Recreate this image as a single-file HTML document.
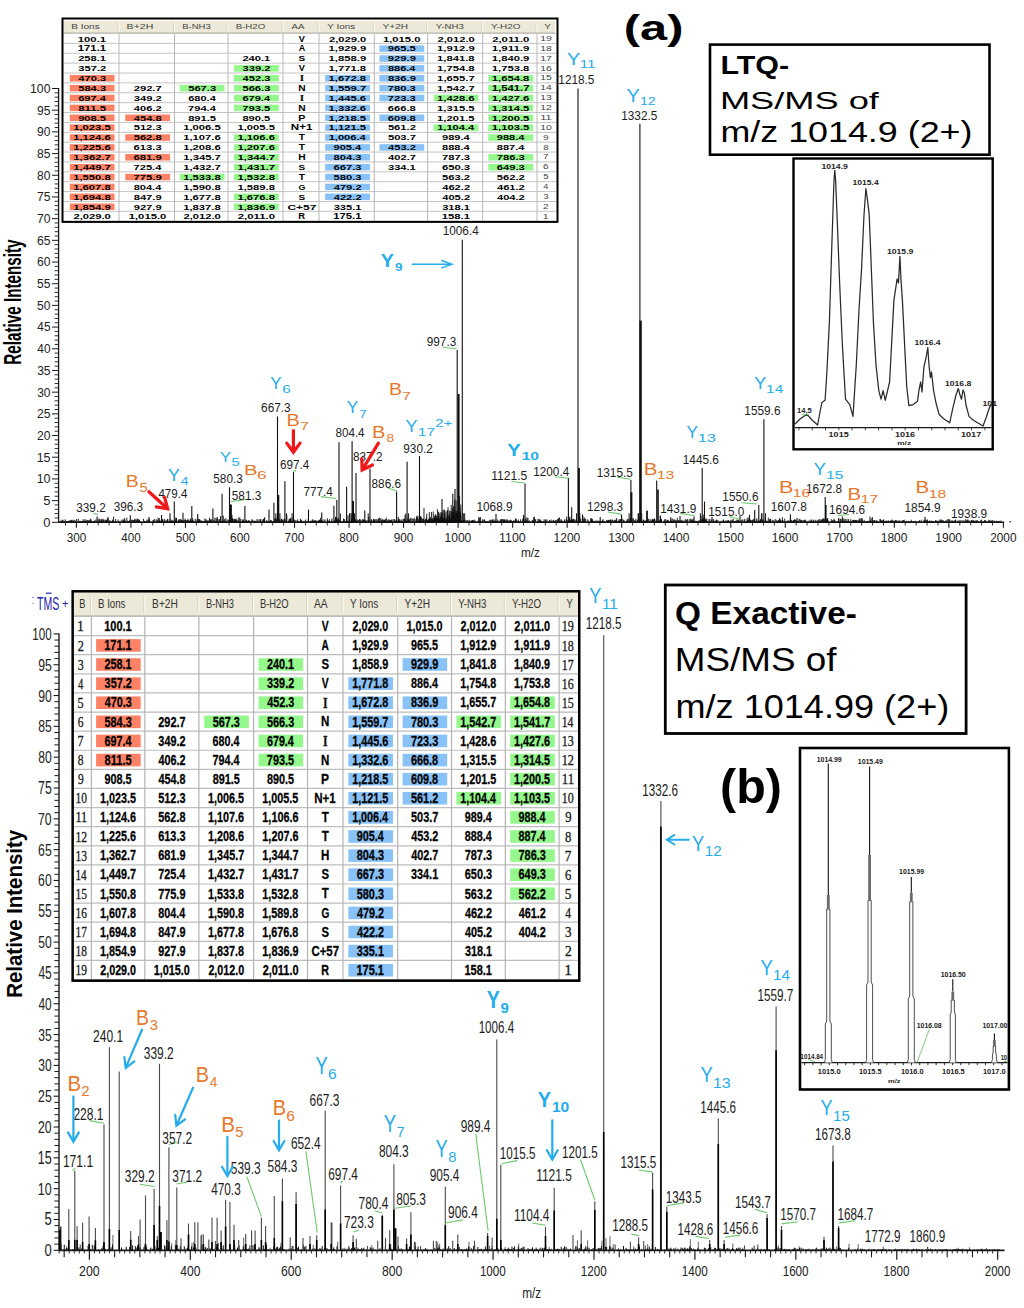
<!DOCTYPE html>
<html><head><meta charset="utf-8"><style>
html,body{margin:0;padding:0;background:#fff;overflow:hidden;}
svg{display:block;font-family:"Liberation Sans",sans-serif;}
</style></head><body>
<svg width="1024" height="1308" viewBox="0 0 1024 1308">
<rect x="0" y="0" width="1024" height="1308" fill="#fff"/>
<line x1="58.60" y1="88.00" x2="58.60" y2="522.80" stroke="#1a1a1a" stroke-width="1.3"/>
<line x1="52.00" y1="522.30" x2="58.60" y2="522.30" stroke="#1a1a1a" stroke-width="1.0"/>
<line x1="54.60" y1="517.96" x2="58.60" y2="517.96" stroke="#1a1a1a" stroke-width="0.9"/>
<line x1="54.60" y1="513.62" x2="58.60" y2="513.62" stroke="#1a1a1a" stroke-width="0.9"/>
<line x1="54.60" y1="509.29" x2="58.60" y2="509.29" stroke="#1a1a1a" stroke-width="0.9"/>
<line x1="54.60" y1="504.95" x2="58.60" y2="504.95" stroke="#1a1a1a" stroke-width="0.9"/>
<line x1="52.00" y1="500.61" x2="58.60" y2="500.61" stroke="#1a1a1a" stroke-width="1.0"/>
<line x1="54.60" y1="496.27" x2="58.60" y2="496.27" stroke="#1a1a1a" stroke-width="0.9"/>
<line x1="54.60" y1="491.93" x2="58.60" y2="491.93" stroke="#1a1a1a" stroke-width="0.9"/>
<line x1="54.60" y1="487.60" x2="58.60" y2="487.60" stroke="#1a1a1a" stroke-width="0.9"/>
<line x1="54.60" y1="483.26" x2="58.60" y2="483.26" stroke="#1a1a1a" stroke-width="0.9"/>
<line x1="52.00" y1="478.92" x2="58.60" y2="478.92" stroke="#1a1a1a" stroke-width="1.0"/>
<line x1="54.60" y1="474.58" x2="58.60" y2="474.58" stroke="#1a1a1a" stroke-width="0.9"/>
<line x1="54.60" y1="470.24" x2="58.60" y2="470.24" stroke="#1a1a1a" stroke-width="0.9"/>
<line x1="54.60" y1="465.91" x2="58.60" y2="465.91" stroke="#1a1a1a" stroke-width="0.9"/>
<line x1="54.60" y1="461.57" x2="58.60" y2="461.57" stroke="#1a1a1a" stroke-width="0.9"/>
<line x1="52.00" y1="457.23" x2="58.60" y2="457.23" stroke="#1a1a1a" stroke-width="1.0"/>
<line x1="54.60" y1="452.89" x2="58.60" y2="452.89" stroke="#1a1a1a" stroke-width="0.9"/>
<line x1="54.60" y1="448.55" x2="58.60" y2="448.55" stroke="#1a1a1a" stroke-width="0.9"/>
<line x1="54.60" y1="444.22" x2="58.60" y2="444.22" stroke="#1a1a1a" stroke-width="0.9"/>
<line x1="54.60" y1="439.88" x2="58.60" y2="439.88" stroke="#1a1a1a" stroke-width="0.9"/>
<line x1="52.00" y1="435.54" x2="58.60" y2="435.54" stroke="#1a1a1a" stroke-width="1.0"/>
<line x1="54.60" y1="431.20" x2="58.60" y2="431.20" stroke="#1a1a1a" stroke-width="0.9"/>
<line x1="54.60" y1="426.86" x2="58.60" y2="426.86" stroke="#1a1a1a" stroke-width="0.9"/>
<line x1="54.60" y1="422.53" x2="58.60" y2="422.53" stroke="#1a1a1a" stroke-width="0.9"/>
<line x1="54.60" y1="418.19" x2="58.60" y2="418.19" stroke="#1a1a1a" stroke-width="0.9"/>
<line x1="52.00" y1="413.85" x2="58.60" y2="413.85" stroke="#1a1a1a" stroke-width="1.0"/>
<line x1="54.60" y1="409.51" x2="58.60" y2="409.51" stroke="#1a1a1a" stroke-width="0.9"/>
<line x1="54.60" y1="405.17" x2="58.60" y2="405.17" stroke="#1a1a1a" stroke-width="0.9"/>
<line x1="54.60" y1="400.84" x2="58.60" y2="400.84" stroke="#1a1a1a" stroke-width="0.9"/>
<line x1="54.60" y1="396.50" x2="58.60" y2="396.50" stroke="#1a1a1a" stroke-width="0.9"/>
<line x1="52.00" y1="392.16" x2="58.60" y2="392.16" stroke="#1a1a1a" stroke-width="1.0"/>
<line x1="54.60" y1="387.82" x2="58.60" y2="387.82" stroke="#1a1a1a" stroke-width="0.9"/>
<line x1="54.60" y1="383.48" x2="58.60" y2="383.48" stroke="#1a1a1a" stroke-width="0.9"/>
<line x1="54.60" y1="379.15" x2="58.60" y2="379.15" stroke="#1a1a1a" stroke-width="0.9"/>
<line x1="54.60" y1="374.81" x2="58.60" y2="374.81" stroke="#1a1a1a" stroke-width="0.9"/>
<line x1="52.00" y1="370.47" x2="58.60" y2="370.47" stroke="#1a1a1a" stroke-width="1.0"/>
<line x1="54.60" y1="366.13" x2="58.60" y2="366.13" stroke="#1a1a1a" stroke-width="0.9"/>
<line x1="54.60" y1="361.79" x2="58.60" y2="361.79" stroke="#1a1a1a" stroke-width="0.9"/>
<line x1="54.60" y1="357.46" x2="58.60" y2="357.46" stroke="#1a1a1a" stroke-width="0.9"/>
<line x1="54.60" y1="353.12" x2="58.60" y2="353.12" stroke="#1a1a1a" stroke-width="0.9"/>
<line x1="52.00" y1="348.78" x2="58.60" y2="348.78" stroke="#1a1a1a" stroke-width="1.0"/>
<line x1="54.60" y1="344.44" x2="58.60" y2="344.44" stroke="#1a1a1a" stroke-width="0.9"/>
<line x1="54.60" y1="340.10" x2="58.60" y2="340.10" stroke="#1a1a1a" stroke-width="0.9"/>
<line x1="54.60" y1="335.77" x2="58.60" y2="335.77" stroke="#1a1a1a" stroke-width="0.9"/>
<line x1="54.60" y1="331.43" x2="58.60" y2="331.43" stroke="#1a1a1a" stroke-width="0.9"/>
<line x1="52.00" y1="327.09" x2="58.60" y2="327.09" stroke="#1a1a1a" stroke-width="1.0"/>
<line x1="54.60" y1="322.75" x2="58.60" y2="322.75" stroke="#1a1a1a" stroke-width="0.9"/>
<line x1="54.60" y1="318.41" x2="58.60" y2="318.41" stroke="#1a1a1a" stroke-width="0.9"/>
<line x1="54.60" y1="314.08" x2="58.60" y2="314.08" stroke="#1a1a1a" stroke-width="0.9"/>
<line x1="54.60" y1="309.74" x2="58.60" y2="309.74" stroke="#1a1a1a" stroke-width="0.9"/>
<line x1="52.00" y1="305.40" x2="58.60" y2="305.40" stroke="#1a1a1a" stroke-width="1.0"/>
<line x1="54.60" y1="301.06" x2="58.60" y2="301.06" stroke="#1a1a1a" stroke-width="0.9"/>
<line x1="54.60" y1="296.72" x2="58.60" y2="296.72" stroke="#1a1a1a" stroke-width="0.9"/>
<line x1="54.60" y1="292.39" x2="58.60" y2="292.39" stroke="#1a1a1a" stroke-width="0.9"/>
<line x1="54.60" y1="288.05" x2="58.60" y2="288.05" stroke="#1a1a1a" stroke-width="0.9"/>
<line x1="52.00" y1="283.71" x2="58.60" y2="283.71" stroke="#1a1a1a" stroke-width="1.0"/>
<line x1="54.60" y1="279.37" x2="58.60" y2="279.37" stroke="#1a1a1a" stroke-width="0.9"/>
<line x1="54.60" y1="275.03" x2="58.60" y2="275.03" stroke="#1a1a1a" stroke-width="0.9"/>
<line x1="54.60" y1="270.70" x2="58.60" y2="270.70" stroke="#1a1a1a" stroke-width="0.9"/>
<line x1="54.60" y1="266.36" x2="58.60" y2="266.36" stroke="#1a1a1a" stroke-width="0.9"/>
<line x1="52.00" y1="262.02" x2="58.60" y2="262.02" stroke="#1a1a1a" stroke-width="1.0"/>
<line x1="54.60" y1="257.68" x2="58.60" y2="257.68" stroke="#1a1a1a" stroke-width="0.9"/>
<line x1="54.60" y1="253.34" x2="58.60" y2="253.34" stroke="#1a1a1a" stroke-width="0.9"/>
<line x1="54.60" y1="249.01" x2="58.60" y2="249.01" stroke="#1a1a1a" stroke-width="0.9"/>
<line x1="54.60" y1="244.67" x2="58.60" y2="244.67" stroke="#1a1a1a" stroke-width="0.9"/>
<line x1="52.00" y1="240.33" x2="58.60" y2="240.33" stroke="#1a1a1a" stroke-width="1.0"/>
<line x1="54.60" y1="235.99" x2="58.60" y2="235.99" stroke="#1a1a1a" stroke-width="0.9"/>
<line x1="54.60" y1="231.65" x2="58.60" y2="231.65" stroke="#1a1a1a" stroke-width="0.9"/>
<line x1="54.60" y1="227.32" x2="58.60" y2="227.32" stroke="#1a1a1a" stroke-width="0.9"/>
<line x1="54.60" y1="222.98" x2="58.60" y2="222.98" stroke="#1a1a1a" stroke-width="0.9"/>
<line x1="52.00" y1="218.64" x2="58.60" y2="218.64" stroke="#1a1a1a" stroke-width="1.0"/>
<line x1="54.60" y1="214.30" x2="58.60" y2="214.30" stroke="#1a1a1a" stroke-width="0.9"/>
<line x1="54.60" y1="209.96" x2="58.60" y2="209.96" stroke="#1a1a1a" stroke-width="0.9"/>
<line x1="54.60" y1="205.63" x2="58.60" y2="205.63" stroke="#1a1a1a" stroke-width="0.9"/>
<line x1="54.60" y1="201.29" x2="58.60" y2="201.29" stroke="#1a1a1a" stroke-width="0.9"/>
<line x1="52.00" y1="196.95" x2="58.60" y2="196.95" stroke="#1a1a1a" stroke-width="1.0"/>
<line x1="54.60" y1="192.61" x2="58.60" y2="192.61" stroke="#1a1a1a" stroke-width="0.9"/>
<line x1="54.60" y1="188.27" x2="58.60" y2="188.27" stroke="#1a1a1a" stroke-width="0.9"/>
<line x1="54.60" y1="183.94" x2="58.60" y2="183.94" stroke="#1a1a1a" stroke-width="0.9"/>
<line x1="54.60" y1="179.60" x2="58.60" y2="179.60" stroke="#1a1a1a" stroke-width="0.9"/>
<line x1="52.00" y1="175.26" x2="58.60" y2="175.26" stroke="#1a1a1a" stroke-width="1.0"/>
<line x1="54.60" y1="170.92" x2="58.60" y2="170.92" stroke="#1a1a1a" stroke-width="0.9"/>
<line x1="54.60" y1="166.58" x2="58.60" y2="166.58" stroke="#1a1a1a" stroke-width="0.9"/>
<line x1="54.60" y1="162.25" x2="58.60" y2="162.25" stroke="#1a1a1a" stroke-width="0.9"/>
<line x1="54.60" y1="157.91" x2="58.60" y2="157.91" stroke="#1a1a1a" stroke-width="0.9"/>
<line x1="52.00" y1="153.57" x2="58.60" y2="153.57" stroke="#1a1a1a" stroke-width="1.0"/>
<line x1="54.60" y1="149.23" x2="58.60" y2="149.23" stroke="#1a1a1a" stroke-width="0.9"/>
<line x1="54.60" y1="144.89" x2="58.60" y2="144.89" stroke="#1a1a1a" stroke-width="0.9"/>
<line x1="54.60" y1="140.56" x2="58.60" y2="140.56" stroke="#1a1a1a" stroke-width="0.9"/>
<line x1="54.60" y1="136.22" x2="58.60" y2="136.22" stroke="#1a1a1a" stroke-width="0.9"/>
<line x1="52.00" y1="131.88" x2="58.60" y2="131.88" stroke="#1a1a1a" stroke-width="1.0"/>
<line x1="54.60" y1="127.54" x2="58.60" y2="127.54" stroke="#1a1a1a" stroke-width="0.9"/>
<line x1="54.60" y1="123.20" x2="58.60" y2="123.20" stroke="#1a1a1a" stroke-width="0.9"/>
<line x1="54.60" y1="118.87" x2="58.60" y2="118.87" stroke="#1a1a1a" stroke-width="0.9"/>
<line x1="54.60" y1="114.53" x2="58.60" y2="114.53" stroke="#1a1a1a" stroke-width="0.9"/>
<line x1="52.00" y1="110.19" x2="58.60" y2="110.19" stroke="#1a1a1a" stroke-width="1.0"/>
<line x1="54.60" y1="105.85" x2="58.60" y2="105.85" stroke="#1a1a1a" stroke-width="0.9"/>
<line x1="54.60" y1="101.51" x2="58.60" y2="101.51" stroke="#1a1a1a" stroke-width="0.9"/>
<line x1="54.60" y1="97.18" x2="58.60" y2="97.18" stroke="#1a1a1a" stroke-width="0.9"/>
<line x1="54.60" y1="92.84" x2="58.60" y2="92.84" stroke="#1a1a1a" stroke-width="0.9"/>
<line x1="52.00" y1="88.50" x2="58.60" y2="88.50" stroke="#1a1a1a" stroke-width="1.0"/>
<text x="43.29" y="526.70" font-size="13.46" fill="#222" textLength="7.21" lengthAdjust="spacingAndGlyphs">0</text>
<text x="43.28" y="505.01" font-size="13.66" fill="#222" textLength="7.27" lengthAdjust="spacingAndGlyphs">5</text>
<text x="36.65" y="483.32" font-size="13.46" fill="#222" textLength="13.83" lengthAdjust="spacingAndGlyphs">10</text>
<text x="36.65" y="461.63" font-size="13.66" fill="#222" textLength="13.87" lengthAdjust="spacingAndGlyphs">15</text>
<text x="36.99" y="439.94" font-size="13.46" fill="#222" textLength="13.48" lengthAdjust="spacingAndGlyphs">20</text>
<text x="36.99" y="418.25" font-size="13.46" fill="#222" textLength="13.52" lengthAdjust="spacingAndGlyphs">25</text>
<text x="37.14" y="396.56" font-size="13.46" fill="#222" textLength="13.32" lengthAdjust="spacingAndGlyphs">30</text>
<text x="37.14" y="374.87" font-size="13.46" fill="#222" textLength="13.36" lengthAdjust="spacingAndGlyphs">35</text>
<text x="37.33" y="353.18" font-size="13.46" fill="#222" textLength="13.13" lengthAdjust="spacingAndGlyphs">40</text>
<text x="37.33" y="331.49" font-size="13.66" fill="#222" textLength="13.17" lengthAdjust="spacingAndGlyphs">45</text>
<text x="37.12" y="309.80" font-size="13.46" fill="#222" textLength="13.35" lengthAdjust="spacingAndGlyphs">50</text>
<text x="37.12" y="288.11" font-size="13.66" fill="#222" textLength="13.39" lengthAdjust="spacingAndGlyphs">55</text>
<text x="36.98" y="266.42" font-size="13.46" fill="#222" textLength="13.49" lengthAdjust="spacingAndGlyphs">60</text>
<text x="36.98" y="244.73" font-size="13.46" fill="#222" textLength="13.53" lengthAdjust="spacingAndGlyphs">65</text>
<text x="36.98" y="223.04" font-size="13.46" fill="#222" textLength="13.50" lengthAdjust="spacingAndGlyphs">70</text>
<text x="36.98" y="201.35" font-size="13.66" fill="#222" textLength="13.53" lengthAdjust="spacingAndGlyphs">75</text>
<text x="37.08" y="179.66" font-size="13.46" fill="#222" textLength="13.39" lengthAdjust="spacingAndGlyphs">80</text>
<text x="37.08" y="157.97" font-size="13.46" fill="#222" textLength="13.43" lengthAdjust="spacingAndGlyphs">85</text>
<text x="37.03" y="136.28" font-size="13.46" fill="#222" textLength="13.44" lengthAdjust="spacingAndGlyphs">90</text>
<text x="37.03" y="114.59" font-size="13.46" fill="#222" textLength="13.48" lengthAdjust="spacingAndGlyphs">95</text>
<text x="30.07" y="92.90" font-size="13.46" fill="#222" textLength="20.41" lengthAdjust="spacingAndGlyphs">100</text>
<g transform="translate(21.1,363.8) rotate(-90)">
<text x="-1.02" y="0.00" font-size="23.40" fill="#000" font-weight="bold" textLength="125.40" lengthAdjust="spacingAndGlyphs">Relative Intensity</text>
</g>
<line x1="58.60" y1="522.30" x2="1004.20" y2="522.30" stroke="#1a1a1a" stroke-width="1.4"/>
<line x1="65.49" y1="522.30" x2="65.49" y2="525.50" stroke="#1a1a1a" stroke-width="0.9"/>
<line x1="76.40" y1="522.30" x2="76.40" y2="527.80" stroke="#1a1a1a" stroke-width="1.1"/>
<line x1="87.31" y1="522.30" x2="87.31" y2="525.50" stroke="#1a1a1a" stroke-width="0.9"/>
<line x1="98.21" y1="522.30" x2="98.21" y2="525.50" stroke="#1a1a1a" stroke-width="0.9"/>
<line x1="109.12" y1="522.30" x2="109.12" y2="525.50" stroke="#1a1a1a" stroke-width="0.9"/>
<line x1="120.02" y1="522.30" x2="120.02" y2="525.50" stroke="#1a1a1a" stroke-width="0.9"/>
<line x1="130.93" y1="522.30" x2="130.93" y2="527.80" stroke="#1a1a1a" stroke-width="1.1"/>
<line x1="141.84" y1="522.30" x2="141.84" y2="525.50" stroke="#1a1a1a" stroke-width="0.9"/>
<line x1="152.74" y1="522.30" x2="152.74" y2="525.50" stroke="#1a1a1a" stroke-width="0.9"/>
<line x1="163.65" y1="522.30" x2="163.65" y2="525.50" stroke="#1a1a1a" stroke-width="0.9"/>
<line x1="174.55" y1="522.30" x2="174.55" y2="525.50" stroke="#1a1a1a" stroke-width="0.9"/>
<line x1="185.46" y1="522.30" x2="185.46" y2="527.80" stroke="#1a1a1a" stroke-width="1.1"/>
<line x1="196.37" y1="522.30" x2="196.37" y2="525.50" stroke="#1a1a1a" stroke-width="0.9"/>
<line x1="207.27" y1="522.30" x2="207.27" y2="525.50" stroke="#1a1a1a" stroke-width="0.9"/>
<line x1="218.18" y1="522.30" x2="218.18" y2="525.50" stroke="#1a1a1a" stroke-width="0.9"/>
<line x1="229.08" y1="522.30" x2="229.08" y2="525.50" stroke="#1a1a1a" stroke-width="0.9"/>
<line x1="239.99" y1="522.30" x2="239.99" y2="527.80" stroke="#1a1a1a" stroke-width="1.1"/>
<line x1="250.90" y1="522.30" x2="250.90" y2="525.50" stroke="#1a1a1a" stroke-width="0.9"/>
<line x1="261.80" y1="522.30" x2="261.80" y2="525.50" stroke="#1a1a1a" stroke-width="0.9"/>
<line x1="272.71" y1="522.30" x2="272.71" y2="525.50" stroke="#1a1a1a" stroke-width="0.9"/>
<line x1="283.61" y1="522.30" x2="283.61" y2="525.50" stroke="#1a1a1a" stroke-width="0.9"/>
<line x1="294.52" y1="522.30" x2="294.52" y2="527.80" stroke="#1a1a1a" stroke-width="1.1"/>
<line x1="305.43" y1="522.30" x2="305.43" y2="525.50" stroke="#1a1a1a" stroke-width="0.9"/>
<line x1="316.33" y1="522.30" x2="316.33" y2="525.50" stroke="#1a1a1a" stroke-width="0.9"/>
<line x1="327.24" y1="522.30" x2="327.24" y2="525.50" stroke="#1a1a1a" stroke-width="0.9"/>
<line x1="338.14" y1="522.30" x2="338.14" y2="525.50" stroke="#1a1a1a" stroke-width="0.9"/>
<line x1="349.05" y1="522.30" x2="349.05" y2="527.80" stroke="#1a1a1a" stroke-width="1.1"/>
<line x1="359.96" y1="522.30" x2="359.96" y2="525.50" stroke="#1a1a1a" stroke-width="0.9"/>
<line x1="370.86" y1="522.30" x2="370.86" y2="525.50" stroke="#1a1a1a" stroke-width="0.9"/>
<line x1="381.77" y1="522.30" x2="381.77" y2="525.50" stroke="#1a1a1a" stroke-width="0.9"/>
<line x1="392.67" y1="522.30" x2="392.67" y2="525.50" stroke="#1a1a1a" stroke-width="0.9"/>
<line x1="403.58" y1="522.30" x2="403.58" y2="527.80" stroke="#1a1a1a" stroke-width="1.1"/>
<line x1="414.49" y1="522.30" x2="414.49" y2="525.50" stroke="#1a1a1a" stroke-width="0.9"/>
<line x1="425.39" y1="522.30" x2="425.39" y2="525.50" stroke="#1a1a1a" stroke-width="0.9"/>
<line x1="436.30" y1="522.30" x2="436.30" y2="525.50" stroke="#1a1a1a" stroke-width="0.9"/>
<line x1="447.20" y1="522.30" x2="447.20" y2="525.50" stroke="#1a1a1a" stroke-width="0.9"/>
<line x1="458.11" y1="522.30" x2="458.11" y2="527.80" stroke="#1a1a1a" stroke-width="1.1"/>
<line x1="469.02" y1="522.30" x2="469.02" y2="525.50" stroke="#1a1a1a" stroke-width="0.9"/>
<line x1="479.92" y1="522.30" x2="479.92" y2="525.50" stroke="#1a1a1a" stroke-width="0.9"/>
<line x1="490.83" y1="522.30" x2="490.83" y2="525.50" stroke="#1a1a1a" stroke-width="0.9"/>
<line x1="501.73" y1="522.30" x2="501.73" y2="525.50" stroke="#1a1a1a" stroke-width="0.9"/>
<line x1="512.64" y1="522.30" x2="512.64" y2="527.80" stroke="#1a1a1a" stroke-width="1.1"/>
<line x1="523.55" y1="522.30" x2="523.55" y2="525.50" stroke="#1a1a1a" stroke-width="0.9"/>
<line x1="534.45" y1="522.30" x2="534.45" y2="525.50" stroke="#1a1a1a" stroke-width="0.9"/>
<line x1="545.36" y1="522.30" x2="545.36" y2="525.50" stroke="#1a1a1a" stroke-width="0.9"/>
<line x1="556.26" y1="522.30" x2="556.26" y2="525.50" stroke="#1a1a1a" stroke-width="0.9"/>
<line x1="567.17" y1="522.30" x2="567.17" y2="527.80" stroke="#1a1a1a" stroke-width="1.1"/>
<line x1="578.08" y1="522.30" x2="578.08" y2="525.50" stroke="#1a1a1a" stroke-width="0.9"/>
<line x1="588.98" y1="522.30" x2="588.98" y2="525.50" stroke="#1a1a1a" stroke-width="0.9"/>
<line x1="599.89" y1="522.30" x2="599.89" y2="525.50" stroke="#1a1a1a" stroke-width="0.9"/>
<line x1="610.79" y1="522.30" x2="610.79" y2="525.50" stroke="#1a1a1a" stroke-width="0.9"/>
<line x1="621.70" y1="522.30" x2="621.70" y2="527.80" stroke="#1a1a1a" stroke-width="1.1"/>
<line x1="632.61" y1="522.30" x2="632.61" y2="525.50" stroke="#1a1a1a" stroke-width="0.9"/>
<line x1="643.51" y1="522.30" x2="643.51" y2="525.50" stroke="#1a1a1a" stroke-width="0.9"/>
<line x1="654.42" y1="522.30" x2="654.42" y2="525.50" stroke="#1a1a1a" stroke-width="0.9"/>
<line x1="665.32" y1="522.30" x2="665.32" y2="525.50" stroke="#1a1a1a" stroke-width="0.9"/>
<line x1="676.23" y1="522.30" x2="676.23" y2="527.80" stroke="#1a1a1a" stroke-width="1.1"/>
<line x1="687.14" y1="522.30" x2="687.14" y2="525.50" stroke="#1a1a1a" stroke-width="0.9"/>
<line x1="698.04" y1="522.30" x2="698.04" y2="525.50" stroke="#1a1a1a" stroke-width="0.9"/>
<line x1="708.95" y1="522.30" x2="708.95" y2="525.50" stroke="#1a1a1a" stroke-width="0.9"/>
<line x1="719.85" y1="522.30" x2="719.85" y2="525.50" stroke="#1a1a1a" stroke-width="0.9"/>
<line x1="730.76" y1="522.30" x2="730.76" y2="527.80" stroke="#1a1a1a" stroke-width="1.1"/>
<line x1="741.67" y1="522.30" x2="741.67" y2="525.50" stroke="#1a1a1a" stroke-width="0.9"/>
<line x1="752.57" y1="522.30" x2="752.57" y2="525.50" stroke="#1a1a1a" stroke-width="0.9"/>
<line x1="763.48" y1="522.30" x2="763.48" y2="525.50" stroke="#1a1a1a" stroke-width="0.9"/>
<line x1="774.38" y1="522.30" x2="774.38" y2="525.50" stroke="#1a1a1a" stroke-width="0.9"/>
<line x1="785.29" y1="522.30" x2="785.29" y2="527.80" stroke="#1a1a1a" stroke-width="1.1"/>
<line x1="796.20" y1="522.30" x2="796.20" y2="525.50" stroke="#1a1a1a" stroke-width="0.9"/>
<line x1="807.10" y1="522.30" x2="807.10" y2="525.50" stroke="#1a1a1a" stroke-width="0.9"/>
<line x1="818.01" y1="522.30" x2="818.01" y2="525.50" stroke="#1a1a1a" stroke-width="0.9"/>
<line x1="828.91" y1="522.30" x2="828.91" y2="525.50" stroke="#1a1a1a" stroke-width="0.9"/>
<line x1="839.82" y1="522.30" x2="839.82" y2="527.80" stroke="#1a1a1a" stroke-width="1.1"/>
<line x1="850.73" y1="522.30" x2="850.73" y2="525.50" stroke="#1a1a1a" stroke-width="0.9"/>
<line x1="861.63" y1="522.30" x2="861.63" y2="525.50" stroke="#1a1a1a" stroke-width="0.9"/>
<line x1="872.54" y1="522.30" x2="872.54" y2="525.50" stroke="#1a1a1a" stroke-width="0.9"/>
<line x1="883.44" y1="522.30" x2="883.44" y2="525.50" stroke="#1a1a1a" stroke-width="0.9"/>
<line x1="894.35" y1="522.30" x2="894.35" y2="527.80" stroke="#1a1a1a" stroke-width="1.1"/>
<line x1="905.26" y1="522.30" x2="905.26" y2="525.50" stroke="#1a1a1a" stroke-width="0.9"/>
<line x1="916.16" y1="522.30" x2="916.16" y2="525.50" stroke="#1a1a1a" stroke-width="0.9"/>
<line x1="927.07" y1="522.30" x2="927.07" y2="525.50" stroke="#1a1a1a" stroke-width="0.9"/>
<line x1="937.97" y1="522.30" x2="937.97" y2="525.50" stroke="#1a1a1a" stroke-width="0.9"/>
<line x1="948.88" y1="522.30" x2="948.88" y2="527.80" stroke="#1a1a1a" stroke-width="1.1"/>
<line x1="959.79" y1="522.30" x2="959.79" y2="525.50" stroke="#1a1a1a" stroke-width="0.9"/>
<line x1="970.69" y1="522.30" x2="970.69" y2="525.50" stroke="#1a1a1a" stroke-width="0.9"/>
<line x1="981.60" y1="522.30" x2="981.60" y2="525.50" stroke="#1a1a1a" stroke-width="0.9"/>
<line x1="992.50" y1="522.30" x2="992.50" y2="525.50" stroke="#1a1a1a" stroke-width="0.9"/>
<line x1="1003.41" y1="522.30" x2="1003.41" y2="527.80" stroke="#1a1a1a" stroke-width="1.1"/>
<text x="66.65" y="541.70" font-size="12.60" fill="#222" textLength="19.50" lengthAdjust="spacingAndGlyphs">300</text>
<text x="121.36" y="541.70" font-size="12.60" fill="#222" textLength="19.32" lengthAdjust="spacingAndGlyphs">400</text>
<text x="175.69" y="541.70" font-size="12.60" fill="#222" textLength="19.53" lengthAdjust="spacingAndGlyphs">500</text>
<text x="230.09" y="541.70" font-size="12.60" fill="#222" textLength="19.66" lengthAdjust="spacingAndGlyphs">600</text>
<text x="284.62" y="541.70" font-size="12.60" fill="#222" textLength="19.66" lengthAdjust="spacingAndGlyphs">700</text>
<text x="339.24" y="541.70" font-size="12.60" fill="#222" textLength="19.57" lengthAdjust="spacingAndGlyphs">800</text>
<text x="393.73" y="541.70" font-size="12.60" fill="#222" textLength="19.61" lengthAdjust="spacingAndGlyphs">900</text>
<text x="444.55" y="541.70" font-size="12.60" fill="#222" textLength="26.68" lengthAdjust="spacingAndGlyphs">1000</text>
<text x="499.08" y="541.70" font-size="12.60" fill="#222" textLength="26.68" lengthAdjust="spacingAndGlyphs">1100</text>
<text x="553.61" y="541.70" font-size="12.60" fill="#222" textLength="26.68" lengthAdjust="spacingAndGlyphs">1200</text>
<text x="608.14" y="541.70" font-size="12.60" fill="#222" textLength="26.68" lengthAdjust="spacingAndGlyphs">1300</text>
<text x="662.67" y="541.70" font-size="12.60" fill="#222" textLength="26.68" lengthAdjust="spacingAndGlyphs">1400</text>
<text x="717.20" y="541.70" font-size="12.60" fill="#222" textLength="26.68" lengthAdjust="spacingAndGlyphs">1500</text>
<text x="771.73" y="541.70" font-size="12.60" fill="#222" textLength="26.68" lengthAdjust="spacingAndGlyphs">1600</text>
<text x="826.26" y="541.70" font-size="12.60" fill="#222" textLength="26.68" lengthAdjust="spacingAndGlyphs">1700</text>
<text x="880.79" y="541.70" font-size="12.60" fill="#222" textLength="26.68" lengthAdjust="spacingAndGlyphs">1800</text>
<text x="935.32" y="541.70" font-size="12.60" fill="#222" textLength="26.68" lengthAdjust="spacingAndGlyphs">1900</text>
<text x="990.16" y="541.70" font-size="12.60" fill="#222" textLength="26.36" lengthAdjust="spacingAndGlyphs">2000</text>
<text x="520.91" y="557.10" font-size="12.42" fill="#222" textLength="19.18" lengthAdjust="spacingAndGlyphs">m/z</text>
<path d="M60.00 522.30V521.24M60.87 522.30V520.55M61.56 522.30V520.63M62.04 522.30V521.29M62.54 522.30V519.52M63.07 522.30V520.28M64.14 522.30V520.89M65.23 522.30V519.38M65.86 522.30V521.26M66.51 522.30V521.22M67.34 522.30V520.94M68.15 522.30V521.29M68.73 522.30V520.82M69.39 522.30V520.77M70.03 522.30V520.03M70.64 522.30V520.58M71.66 522.30V521.08M72.75 522.30V520.85M73.69 522.30V520.68M74.16 522.30V519.78M74.99 522.30V521.04M75.89 522.30V520.43M76.63 522.30V518.98M77.39 522.30V521.29M78.30 522.30V518.74M79.28 522.30V520.91M80.17 522.30V520.75M80.73 522.30V521.29M81.68 522.30V521.14M82.38 522.30V521.28M83.12 522.30V519.27M84.10 522.30V521.10M84.82 522.30V519.27M85.90 522.30V521.22M86.50 522.30V520.69M87.33 522.30V521.30M88.05 522.30V520.47M89.12 522.30V520.61M89.97 522.30V521.29M91.01 522.30V519.31M91.98 522.30V520.89M92.49 522.30V521.29M92.99 522.30V521.23M93.66 522.30V521.30M94.21 522.30V520.96M94.67 522.30V520.32M95.22 522.30V520.99M95.91 522.30V519.43M97.00 522.30V520.69M97.51 522.30V520.99M98.13 522.30V521.23M99.39 522.30V520.53M99.86 522.30V518.81M100.87 522.30V521.12M101.56 522.30V519.75M102.35 522.30V521.02M102.95 522.30V518.78M103.95 522.30V519.56M104.88 522.30V520.60M105.56 522.30V521.30M106.20 522.30V520.05M107.27 522.30V519.02M109.05 522.30V521.17M109.62 522.30V520.29M110.66 522.30V520.70M111.53 522.30V521.28M113.37 522.30V520.71M113.94 522.30V521.01M115.62 522.30V518.97M116.54 522.30V521.26M118.06 522.30V519.52M119.15 522.30V520.98M119.95 522.30V521.30M121.03 522.30V520.58M122.09 522.30V519.32M123.08 522.30V521.14M123.72 522.30V520.41M124.34 522.30V521.26M125.38 522.30V520.75M127.71 522.30V520.59M128.17 522.30V521.21M128.62 522.30V521.22M129.38 522.30V520.49M130.04 522.30V520.50M131.00 522.30V520.48M131.61 522.30V519.75M132.39 522.30V519.80M133.44 522.30V520.32M134.21 522.30V520.05M134.96 522.30V520.71M136.02 522.30V519.30M137.08 522.30V520.49M138.15 522.30V521.25M138.68 522.30V521.29M139.28 522.30V520.13M140.24 522.30V521.24M141.16 522.30V521.25M143.48 522.30V518.75M144.47 522.30V520.82M145.26 522.30V521.20M145.92 522.30V521.30M146.73 522.30V521.30M147.39 522.30V520.62M149.36 522.30V521.30M150.32 522.30V521.26M152.03 522.30V521.24M153.07 522.30V520.02M153.58 522.30V520.07M154.31 522.30V519.01M155.17 522.30V521.28M156.18 522.30V519.36M156.92 522.30V520.50M157.97 522.30V521.26M158.77 522.30V521.27M159.32 522.30V521.19M159.97 522.30V519.80M160.61 522.30V521.22M161.29 522.30V521.14M161.75 522.30V520.51M162.32 522.30V519.03M162.84 522.30V520.81M163.61 522.30V520.90M164.39 522.30V518.79M165.06 522.30V520.00M165.93 522.30V520.99M166.41 522.30V521.29M167.35 522.30V521.23M167.85 522.30V519.33M168.74 522.30V521.15M169.38 522.30V521.24M170.12 522.30V518.89M171.20 522.30V521.14M172.28 522.30V520.97M172.73 522.30V520.71M173.50 522.30V520.64M173.96 522.30V521.28M174.67 522.30V521.30M175.31 522.30V520.41M176.11 522.30V520.18M177.02 522.30V520.91M178.23 522.30V520.22M178.71 522.30V519.23M179.57 522.30V519.58M180.11 522.30V520.64M181.10 522.30V519.52M181.93 522.30V520.09M182.83 522.30V521.30M183.37 522.30V521.27M184.36 522.30V520.28M185.22 522.30V520.68M185.67 522.30V519.84M186.45 522.30V520.17M186.94 522.30V521.13M187.44 522.30V519.92M188.02 522.30V518.82M188.79 522.30V520.70M189.69 522.30V520.31M190.56 522.30V521.24M191.17 522.30V521.06M191.99 522.30V521.29M192.62 522.30V520.05M193.50 522.30V520.61M194.26 522.30V521.26M195.29 522.30V518.81M196.35 522.30V520.75M198.07 522.30V521.19M199.14 522.30V520.42M199.68 522.30V518.94M200.21 522.30V520.63M201.24 522.30V521.16M202.27 522.30V521.30M202.73 522.30V520.77M203.37 522.30V520.99M204.03 522.30V521.30M204.97 522.30V521.26M206.02 522.30V519.19M206.66 522.30V520.90M207.76 522.30V520.96M208.48 522.30V521.29M209.00 522.30V521.09M210.06 522.30V521.12M210.84 522.30V520.94M211.91 522.30V519.59M213.83 522.30V519.95M214.32 522.30V520.77M215.25 522.30V521.09M216.27 522.30V520.99M216.91 522.30V518.82M217.53 522.30V521.06M218.34 522.30V521.23M218.90 522.30V519.17M219.67 522.30V519.16M220.77 522.30V521.25M221.35 522.30V521.00M221.85 522.30V521.13M222.67 522.30V519.84M223.39 522.30V520.59M224.09 522.30V521.29M225.25 522.30V520.27M226.26 522.30V521.11M226.87 522.30V520.78M227.94 522.30V519.32M228.41 522.30V519.99M229.44 522.30V520.40M229.89 522.30V519.07M230.88 522.30V518.84M231.49 522.30V521.24M232.28 522.30V519.00M233.20 522.30V519.78M233.94 522.30V521.30M234.90 522.30V519.10M235.77 522.30V521.26M236.38 522.30V520.03M236.91 522.30V520.58M237.74 522.30V521.17M238.58 522.30V521.06M240.20 522.30V520.71M240.80 522.30V518.90M241.71 522.30V521.30M242.48 522.30V520.84M243.10 522.30V519.07M243.69 522.30V521.00M244.42 522.30V521.20M245.39 522.30V520.64M246.62 522.30V521.16M247.22 522.30V521.07M248.29 522.30V521.21M248.88 522.30V520.15M249.95 522.30V520.90M251.08 522.30V521.29M251.78 522.30V519.27M253.77 522.30V521.21M254.82 522.30V521.30M255.71 522.30V520.94M256.37 522.30V521.30M257.00 522.30V518.93M258.12 522.30V519.55M259.10 522.30V521.29M259.86 522.30V519.10M260.44 522.30V519.21M260.91 522.30V519.59M261.85 522.30V521.30M262.96 522.30V519.20M263.63 522.30V518.92M264.48 522.30V519.96M265.14 522.30V521.30M267.41 522.30V520.71M269.18 522.30V520.82M270.52 522.30V519.88M271.51 522.30V520.34M272.17 522.30V520.96M273.13 522.30V521.20M274.07 522.30V521.29M274.54 522.30V521.02M275.63 522.30V518.76M276.25 522.30V521.28M277.02 522.30V520.78M277.62 522.30V520.30M278.51 522.30V519.43M279.39 522.30V519.46M280.03 522.30V520.94M280.96 522.30V521.14M281.57 522.30V519.27M282.40 522.30V520.89M283.49 522.30V521.16M284.47 522.30V518.75M284.99 522.30V519.56M286.46 522.30V521.26M288.55 522.30V520.78M289.17 522.30V518.97M289.69 522.30V520.30M290.28 522.30V521.25M290.87 522.30V520.37M291.74 522.30V521.30M292.40 522.30V521.21M293.05 522.30V519.66M293.86 522.30V521.27M294.57 522.30V520.24M295.08 522.30V520.04M295.79 522.30V521.05M296.86 522.30V520.47M297.55 522.30V519.36M298.64 522.30V521.20M299.57 522.30V521.30M300.60 522.30V519.55M301.32 522.30V520.75M301.87 522.30V520.51M303.25 522.30V520.94M304.02 522.30V521.09M305.33 522.30V519.62M306.41 522.30V521.26M308.24 522.30V519.07M309.79 522.30V521.23M310.75 522.30V520.87M311.76 522.30V521.21M312.35 522.30V520.60M313.05 522.30V521.14M313.97 522.30V521.30M314.78 522.30V521.30M315.78 522.30V520.37M316.59 522.30V521.06M317.31 522.30V520.83M318.19 522.30V520.80M318.65 522.30V520.68M319.25 522.30V519.72M320.00 522.30V520.72M320.52 522.30V520.82M321.03 522.30V520.62M321.51 522.30V521.28M322.44 522.30V520.62M322.92 522.30V520.93M323.99 522.30V519.39M325.09 522.30V519.57M327.48 522.30V519.68M328.53 522.30V520.98M329.47 522.30V519.21M330.10 522.30V521.25M331.46 522.30V520.63M332.12 522.30V521.21M333.57 522.30V521.23M334.53 522.30V520.57M335.39 522.30V519.32M336.20 522.30V519.27M337.58 522.30V519.65M339.03 522.30V519.78M339.76 522.30V519.86M340.25 522.30V521.13M341.94 522.30V521.05M342.39 522.30V521.24M343.24 522.30V520.62M344.28 522.30V521.17M345.15 522.30V521.30M345.83 522.30V520.97M346.43 522.30V520.40M347.01 522.30V520.71M348.16 522.30V521.28M349.02 522.30V519.71M349.73 522.30V521.30M350.60 522.30V520.98M351.47 522.30V519.02M352.40 522.30V519.18M352.88 522.30V520.87M353.48 522.30V519.72M353.94 522.30V519.00M354.48 522.30V520.34M355.26 522.30V519.58M355.82 522.30V521.07M356.31 522.30V519.71M357.22 522.30V519.45M358.16 522.30V519.87M358.90 522.30V521.27M359.50 522.30V521.01M360.44 522.30V519.44M361.35 522.30V520.50M362.08 522.30V520.59M362.71 522.30V518.88M363.30 522.30V521.30M363.92 522.30V519.86M364.98 522.30V521.02M366.00 522.30V521.15M367.04 522.30V520.05M368.68 522.30V520.03M369.69 522.30V519.93M370.51 522.30V521.18M371.36 522.30V519.14M371.91 522.30V521.27M372.96 522.30V521.25M373.43 522.30V520.05M374.29 522.30V519.89M374.78 522.30V520.96M375.77 522.30V519.23M376.26 522.30V519.13M377.32 522.30V521.19M377.84 522.30V519.43M378.82 522.30V519.53M379.68 522.30V521.27M380.20 522.30V521.19M380.85 522.30V521.30M381.47 522.30V519.97M382.16 522.30V518.88M382.94 522.30V520.31M383.41 522.30V520.80M384.36 522.30V520.01M385.16 522.30V519.37M385.67 522.30V521.22M386.12 522.30V519.79M387.21 522.30V520.67M387.97 522.30V521.21M388.75 522.30V519.50M390.00 522.30V520.03M390.77 522.30V520.25M391.28 522.30V520.04M392.24 522.30V520.97M392.95 522.30V519.24M393.46 522.30V521.30M394.04 522.30V519.19M394.81 522.30V519.27M395.42 522.30V520.57M396.36 522.30V520.21M397.03 522.30V521.24M398.03 522.30V519.87M398.59 522.30V519.74M399.42 522.30V520.75M400.44 522.30V521.20M401.09 522.30V519.45M401.64 522.30V521.14M402.30 522.30V521.23M402.97 522.30V518.83M403.89 522.30V518.89M404.41 522.30V518.78M405.37 522.30V520.17M405.95 522.30V521.23M406.53 522.30V521.29M407.24 522.30V518.41M408.02 522.30V520.01M408.56 522.30V520.32M410.22 522.30V517.93M410.95 522.30V518.17M411.97 522.30V518.36M412.97 522.30V518.83M413.72 522.30V518.93M414.23 522.30V517.63M415.14 522.30V520.92M415.87 522.30V518.98M416.59 522.30V516.11M417.15 522.30V517.67M417.86 522.30V515.60M418.33 522.30V521.14M420.08 522.30V516.68M420.88 522.30V517.63M421.74 522.30V517.49M423.05 522.30V519.14M423.99 522.30V507.73M424.67 522.30V520.25M425.38 522.30V518.85M426.11 522.30V519.56M426.73 522.30V513.60M427.79 522.30V520.63M428.76 522.30V520.67M429.30 522.30V512.12M430.16 522.30V516.88M431.43 522.30V511.92M432.42 522.30V520.09M433.22 522.30V511.57M433.90 522.30V520.30M434.60 522.30V518.76M435.17 522.30V514.01M435.80 522.30V520.02M436.56 522.30V515.61M437.44 522.30V509.22M438.45 522.30V511.70M439.48 522.30V521.02M440.48 522.30V521.30M441.81 522.30V521.16M442.35 522.30V512.86M443.03 522.30V509.86M443.99 522.30V510.18M444.84 522.30V515.04M445.87 522.30V511.45M446.45 522.30V517.36M447.38 522.30V510.39M448.19 522.30V520.53M448.73 522.30V521.25M449.48 522.30V517.92M450.26 522.30V510.88M450.71 522.30V518.23M451.53 522.30V511.41M452.22 522.30V508.38M452.72 522.30V515.63M453.19 522.30V514.78M454.24 522.30V507.81M455.03 522.30V510.02M455.50 522.30V515.83M456.17 522.30V519.42M456.93 522.30V512.99M457.51 522.30V518.80M458.32 522.30V520.10M459.31 522.30V517.75M459.94 522.30V507.99M460.81 522.30V519.77M461.47 522.30V520.41M462.33 522.30V521.30M463.25 522.30V520.53M463.73 522.30V521.30M465.15 522.30V519.68M466.19 522.30V520.31M467.05 522.30V520.38M467.94 522.30V520.14M468.69 522.30V521.27M469.26 522.30V519.74M470.30 522.30V520.95M471.29 522.30V520.48M471.91 522.30V520.84M472.56 522.30V520.23M473.62 522.30V520.46M474.10 522.30V519.59M475.66 522.30V520.91M477.58 522.30V520.86M478.10 522.30V521.18M478.65 522.30V521.30M479.54 522.30V518.87M480.05 522.30V521.26M480.51 522.30V521.15M481.44 522.30V521.29M482.39 522.30V519.40M483.32 522.30V520.27M484.23 522.30V519.04M485.76 522.30V521.30M486.63 522.30V521.28M487.28 522.30V521.23M488.29 522.30V521.29M488.98 522.30V520.80M489.87 522.30V519.65M490.56 522.30V520.27M491.28 522.30V519.69M492.34 522.30V520.46M492.98 522.30V518.83M493.89 522.30V521.01M495.72 522.30V521.05M496.45 522.30V520.93M497.35 522.30V519.21M498.32 522.30V521.30M498.94 522.30V520.41M499.92 522.30V521.30M500.92 522.30V519.34M501.74 522.30V519.42M502.71 522.30V519.13M503.39 522.30V520.50M504.36 522.30V519.84M505.41 522.30V520.34M506.30 522.30V521.19M506.92 522.30V519.67M507.67 522.30V519.61M508.62 522.30V520.43M509.65 522.30V520.59M510.41 522.30V521.21M510.99 522.30V520.02M511.67 522.30V520.88M512.46 522.30V521.29M513.56 522.30V521.27M514.42 522.30V521.24M515.26 522.30V520.60M515.72 522.30V518.75M516.73 522.30V520.46M517.35 522.30V520.83M518.42 522.30V519.56M519.49 522.30V521.30M520.07 522.30V521.28M520.56 522.30V519.33M522.35 522.30V520.37M523.06 522.30V518.91M523.67 522.30V520.23M524.74 522.30V520.90M525.49 522.30V518.87M526.58 522.30V521.30M527.20 522.30V519.18M528.23 522.30V521.29M529.20 522.30V520.21M530.29 522.30V521.25M532.12 522.30V520.39M533.06 522.30V521.03M533.68 522.30V520.70M534.24 522.30V521.25M535.13 522.30V519.96M535.70 522.30V519.06M537.31 522.30V521.25M538.05 522.30V519.06M539.05 522.30V520.77M539.72 522.30V520.71M540.58 522.30V521.17M541.06 522.30V520.50M541.61 522.30V521.12M542.33 522.30V521.11M543.32 522.30V521.23M544.09 522.30V519.18M545.10 522.30V520.14M545.69 522.30V521.09M546.31 522.30V520.95M548.45 522.30V521.08M549.49 522.30V519.93M550.59 522.30V521.00M551.13 522.30V519.50M551.92 522.30V520.81M552.96 522.30V520.45M553.50 522.30V519.76M554.41 522.30V521.28M554.92 522.30V520.66M555.55 522.30V520.32M556.46 522.30V520.42M557.04 522.30V519.90M557.76 522.30V521.29M558.73 522.30V519.46M559.75 522.30V521.30M560.79 522.30V519.32M561.41 522.30V519.50M562.10 522.30V520.94M562.94 522.30V520.60M563.68 522.30V521.26M564.59 522.30V519.35M565.25 522.30V520.92M566.19 522.30V519.32M567.26 522.30V520.61M568.05 522.30V521.30M569.13 522.30V521.21M569.65 522.30V519.56M570.12 522.30V520.03M570.69 522.30V520.37M571.52 522.30V520.02M572.04 522.30V519.96M572.51 522.30V520.67M573.29 522.30V521.26M574.00 522.30V520.39M575.01 522.30V520.45M575.95 522.30V519.53M577.01 522.30V520.84M578.00 522.30V520.89M579.07 522.30V521.00M579.67 522.30V520.81M580.76 522.30V519.13M581.74 522.30V521.29M583.58 522.30V520.84M584.44 522.30V520.57M584.94 522.30V520.64M585.40 522.30V518.86M587.22 522.30V519.27M588.24 522.30V520.23M588.87 522.30V521.11M590.52 522.30V520.60M591.89 522.30V520.21M592.42 522.30V518.92M593.20 522.30V520.73M594.00 522.30V521.26M594.54 522.30V520.87M595.17 522.30V521.28M595.98 522.30V520.33M596.80 522.30V521.19M597.71 522.30V520.52M598.56 522.30V521.05M599.17 522.30V520.62M599.87 522.30V521.30M600.55 522.30V521.15M601.36 522.30V521.09M602.45 522.30V519.75M603.00 522.30V519.33M603.74 522.30V520.91M604.47 522.30V521.27M606.00 522.30V521.00M606.68 522.30V520.31M607.68 522.30V520.60M608.61 522.30V519.80M609.37 522.30V519.99M610.42 522.30V519.33M610.87 522.30V520.41M612.46 522.30V519.70M613.48 522.30V520.93M614.23 522.30V519.94M614.87 522.30V520.50M615.57 522.30V519.69M616.57 522.30V520.79M617.14 522.30V521.25M617.96 522.30V521.28M619.01 522.30V519.45M620.59 522.30V519.14M621.04 522.30V520.47M622.77 522.30V518.71M623.56 522.30V520.08M624.26 522.30V520.38M625.83 522.30V521.27M626.52 522.30V520.48M627.34 522.30V518.88M628.11 522.30V520.29M629.21 522.30V520.57M630.19 522.30V521.04M631.27 522.30V520.62M631.80 522.30V520.06M633.81 522.30V521.24M634.45 522.30V520.64M635.02 522.30V520.27M635.86 522.30V518.73M636.72 522.30V520.86M637.69 522.30V520.06M638.14 522.30V519.46M638.97 522.30V521.20M639.74 522.30V521.12M640.61 522.30V518.72M641.44 522.30V521.26M641.99 522.30V521.27M642.50 522.30V520.59M643.49 522.30V519.61M643.98 522.30V519.76M644.64 522.30V520.97M645.20 522.30V521.27M646.24 522.30V520.98M646.98 522.30V521.29M648.01 522.30V518.91M648.74 522.30V521.14M650.23 522.30V519.20M651.21 522.30V520.36M652.28 522.30V518.95M652.89 522.30V519.96M653.48 522.30V519.31M654.25 522.30V521.15M654.81 522.30V521.21M655.89 522.30V520.48M656.42 522.30V520.91M657.13 522.30V521.26M658.12 522.30V521.14M658.69 522.30V521.15M659.16 522.30V521.00M659.71 522.30V521.28M660.34 522.30V521.26M661.08 522.30V519.62M661.63 522.30V519.94M663.69 522.30V520.77M664.23 522.30V521.12M665.26 522.30V520.95M665.87 522.30V521.18M666.89 522.30V520.62M667.69 522.30V519.75M668.39 522.30V520.46M669.04 522.30V521.28M669.61 522.30V521.03M670.49 522.30V520.48M671.17 522.30V521.07M671.67 522.30V521.17M672.20 522.30V521.09M673.86 522.30V519.37M674.40 522.30V521.30M675.29 522.30V520.98M676.01 522.30V520.03M676.62 522.30V520.98M677.48 522.30V521.27M678.52 522.30V519.98M679.00 522.30V521.23M679.58 522.30V520.92M680.05 522.30V520.24M680.62 522.30V520.45M681.54 522.30V520.81M682.43 522.30V521.30M683.42 522.30V521.09M683.90 522.30V520.34M684.38 522.30V521.27M685.35 522.30V519.13M686.28 522.30V520.05M686.99 522.30V519.51M687.62 522.30V518.97M689.25 522.30V519.51M690.11 522.30V521.29M691.01 522.30V520.62M692.06 522.30V519.79M692.54 522.30V519.61M693.16 522.30V518.86M694.02 522.30V521.14M694.51 522.30V520.86M695.09 522.30V521.25M696.00 522.30V521.15M696.61 522.30V520.79M697.67 522.30V521.07M698.69 522.30V520.48M699.36 522.30V520.52M700.31 522.30V520.14M701.14 522.30V519.77M702.14 522.30V521.08M702.82 522.30V521.29M703.45 522.30V520.02M704.19 522.30V521.03M704.95 522.30V521.23M705.44 522.30V518.74M706.38 522.30V519.96M707.47 522.30V521.27M708.24 522.30V521.21M709.04 522.30V519.10M709.91 522.30V519.03M710.78 522.30V521.14M711.32 522.30V519.74M712.32 522.30V521.21M713.18 522.30V519.07M713.74 522.30V519.51M714.68 522.30V521.21M715.66 522.30V520.95M716.47 522.30V519.50M717.08 522.30V520.46M717.93 522.30V520.01M719.74 522.30V521.24M720.39 522.30V521.28M721.29 522.30V520.79M722.37 522.30V521.30M723.10 522.30V519.94M723.55 522.30V519.40M724.52 522.30V521.09M725.40 522.30V520.84M726.07 522.30V520.15M727.61 522.30V520.79M728.43 522.30V521.20M728.93 522.30V520.75M732.10 522.30V519.59M732.59 522.30V520.34M733.23 522.30V518.94M733.99 522.30V521.07M734.67 522.30V521.30M735.24 522.30V520.78M735.75 522.30V520.94M736.57 522.30V520.57M737.39 522.30V521.27M737.96 522.30V520.52M738.48 522.30V521.13M738.99 522.30V521.14M739.76 522.30V521.17M740.58 522.30V520.62M741.42 522.30V520.87M741.91 522.30V519.36M742.72 522.30V519.81M744.16 522.30V519.51M744.87 522.30V518.90M745.69 522.30V521.25M746.64 522.30V521.15M747.33 522.30V520.38M747.92 522.30V520.00M748.65 522.30V520.30M749.66 522.30V519.11M750.68 522.30V519.86M751.35 522.30V520.10M752.34 522.30V520.94M754.19 522.30V520.35M754.70 522.30V519.62M756.11 522.30V521.20M756.85 522.30V520.42M757.38 522.30V521.27M758.35 522.30V520.50M758.99 522.30V520.92M759.53 522.30V520.55M760.43 522.30V518.96M760.89 522.30V521.24M761.66 522.30V519.63M762.14 522.30V519.56M763.03 522.30V520.71M763.58 522.30V520.90M764.60 522.30V521.29M765.26 522.30V519.22M766.10 522.30V521.23M766.78 522.30V520.43M767.48 522.30V521.30M768.31 522.30V521.30M769.54 522.30V520.13M770.17 522.30V520.65M770.79 522.30V520.57M772.33 522.30V519.75M773.35 522.30V520.26M774.21 522.30V521.09M775.18 522.30V519.01M776.07 522.30V519.79M777.00 522.30V520.25M777.68 522.30V520.87M778.17 522.30V521.03M779.26 522.30V520.95M779.87 522.30V520.98M780.41 522.30V519.33M781.15 522.30V520.46M781.80 522.30V521.29M782.44 522.30V519.93M784.75 522.30V521.22M786.26 522.30V520.82M787.28 522.30V520.69M788.31 522.30V521.13M788.77 522.30V521.11M789.68 522.30V520.88M790.26 522.30V519.36M791.13 522.30V519.90M792.21 522.30V521.28M793.19 522.30V521.00M793.73 522.30V520.55M794.74 522.30V519.09M795.33 522.30V519.84M796.20 522.30V520.10M796.87 522.30V520.85M797.35 522.30V521.01M798.12 522.30V521.13M798.88 522.30V519.07M800.18 522.30V519.94M800.84 522.30V521.24M801.39 522.30V521.28M802.36 522.30V520.55M803.20 522.30V520.18M804.04 522.30V519.87M804.66 522.30V519.79M805.61 522.30V519.75M806.70 522.30V521.10M808.02 522.30V520.71M808.90 522.30V520.96M809.99 522.30V519.81M810.50 522.30V521.25M810.99 522.30V520.50M812.24 522.30V521.22M813.73 522.30V519.73M815.11 522.30V520.99M816.08 522.30V521.03M817.12 522.30V519.90M817.61 522.30V520.88M818.62 522.30V520.47M820.40 522.30V521.17M821.02 522.30V520.81M821.62 522.30V519.80M822.48 522.30V518.73M823.08 522.30V521.24M824.09 522.30V521.11M825.03 522.30V521.09M825.69 522.30V519.24M826.25 522.30V520.37M826.99 522.30V519.27M827.58 522.30V520.96M828.53 522.30V521.21M830.19 522.30V521.27M831.27 522.30V519.14M831.82 522.30V521.28M832.38 522.30V521.28M833.97 522.30V518.80M834.44 522.30V519.67M835.34 522.30V520.64M835.94 522.30V521.27M837.05 522.30V521.26M837.82 522.30V520.82M838.39 522.30V521.24M839.32 522.30V521.27M840.00 522.30V519.11M840.67 522.30V518.87M841.70 522.30V521.11M842.26 522.30V521.29M842.74 522.30V520.87M843.55 522.30V521.30M844.45 522.30V520.53M845.26 522.30V518.79M846.28 522.30V520.89M846.93 522.30V518.84M847.63 522.30V520.86M848.63 522.30V519.07M849.25 522.30V520.93M849.85 522.30V521.26M850.85 522.30V519.15M851.33 522.30V521.03M852.20 522.30V521.04M853.28 522.30V519.85M854.29 522.30V520.39M855.39 522.30V520.27M856.32 522.30V519.98M857.02 522.30V520.32M857.91 522.30V520.27M858.72 522.30V520.32M860.10 522.30V520.81M860.86 522.30V521.26M861.91 522.30V520.81M862.70 522.30V521.20M863.27 522.30V520.92M864.13 522.30V519.86M865.15 522.30V521.04M866.14 522.30V521.27M866.69 522.30V521.28M867.37 522.30V520.81M868.11 522.30V521.02M869.21 522.30V520.94M869.97 522.30V520.26M870.52 522.30V521.06M871.31 522.30V521.05M871.98 522.30V521.30M872.56 522.30V521.29M873.13 522.30V521.16M873.79 522.30V520.05M874.30 522.30V519.97M874.88 522.30V520.17M875.73 522.30V521.30M876.47 522.30V520.39M877.11 522.30V520.54M878.08 522.30V521.03M880.40 522.30V520.50M881.06 522.30V520.27M881.76 522.30V520.86M882.79 522.30V521.30M883.63 522.30V520.92M884.63 522.30V520.90M885.65 522.30V520.87M886.44 522.30V520.49M887.37 522.30V521.30M888.26 522.30V520.23M889.21 522.30V521.21M889.71 522.30V521.28M890.22 522.30V520.73M890.70 522.30V520.39M891.47 522.30V520.44M892.19 522.30V519.51M893.17 522.30V521.26M893.84 522.30V521.30M894.93 522.30V521.18M895.58 522.30V519.97M896.39 522.30V520.98M896.88 522.30V519.95M897.85 522.30V521.18M898.43 522.30V520.78M899.12 522.30V520.87M899.95 522.30V520.14M901.34 522.30V521.12M902.14 522.30V520.73M902.80 522.30V520.16M903.44 522.30V520.14M904.28 522.30V519.73M905.02 522.30V521.29M905.75 522.30V521.30M906.76 522.30V520.66M908.14 522.30V520.85M909.03 522.30V521.14M909.61 522.30V521.26M910.66 522.30V521.28M911.17 522.30V519.67M911.89 522.30V521.18M912.93 522.30V521.26M913.42 522.30V521.30M914.41 522.30V521.20M915.24 522.30V520.73M916.45 522.30V521.26M918.13 522.30V521.04M918.99 522.30V520.76M919.50 522.30V520.35M920.23 522.30V521.28M921.22 522.30V519.77M923.11 522.30V521.08M924.05 522.30V519.74M924.56 522.30V519.96M925.40 522.30V521.29M925.94 522.30V519.86M926.94 522.30V519.76M927.41 522.30V519.62M928.96 522.30V521.10M929.70 522.30V520.31M930.27 522.30V521.14M930.76 522.30V521.28M931.57 522.30V520.66M932.32 522.30V520.83M932.83 522.30V521.27M933.66 522.30V521.05M934.54 522.30V521.25M935.60 522.30V520.02M936.62 522.30V521.26M937.13 522.30V521.28M937.90 522.30V521.28M938.66 522.30V520.78M939.44 522.30V521.23M940.15 522.30V521.27M940.76 522.30V520.85M941.78 522.30V519.70M942.55 522.30V520.71M943.45 522.30V520.29M944.00 522.30V521.30M944.71 522.30V521.15M945.73 522.30V520.70M946.34 522.30V520.19M947.25 522.30V521.19M948.56 522.30V520.44M949.54 522.30V520.12M951.47 522.30V521.29M952.08 522.30V520.47M952.63 522.30V521.26M953.21 522.30V521.10M955.25 522.30V520.85M957.15 522.30V521.23M958.01 522.30V520.19M958.52 522.30V521.08M959.96 522.30V521.27M961.99 522.30V520.05M962.96 522.30V520.96M963.94 522.30V519.93M966.87 522.30V520.03M967.47 522.30V520.92M968.07 522.30V519.82M968.97 522.30V521.02M969.93 522.30V520.46M970.99 522.30V521.00M971.50 522.30V520.04M972.17 522.30V520.04M973.13 522.30V520.87M973.60 522.30V520.11M974.32 522.30V520.92M974.99 522.30V521.07M975.98 522.30V521.15M976.49 522.30V520.42M977.23 522.30V520.13M977.76 522.30V521.30M978.74 522.30V521.17M979.81 522.30V521.21M980.84 522.30V519.86M981.55 522.30V519.66M982.90 522.30V521.25M983.69 522.30V521.24M984.76 522.30V520.12M985.37 522.30V521.28M986.18 522.30V520.82M987.91 522.30V521.29M988.76 522.30V519.65M989.45 522.30V520.58M990.14 522.30V520.48M991.18 522.30V521.06M992.27 522.30V520.05M993.16 522.30V520.94M994.10 522.30V520.34M995.04 522.30V521.11M996.60 522.30V520.68M997.43 522.30V521.02M998.37 522.30V521.16M999.31 522.30V520.77M1000.91 522.30V520.48M71.53 522.30V519.87M72.26 522.30V519.79M74.00 522.30V520.57M81.99 522.30V521.03M82.87 522.30V521.24M83.74 522.30V520.65M85.83 522.30V519.62M87.48 522.30V520.21M88.45 522.30V520.73M89.20 522.30V520.03M90.28 522.30V518.65M90.92 522.30V520.50M98.75 522.30V518.62M99.64 522.30V520.37M101.06 522.30V519.48M101.86 522.30V518.92M103.36 522.30V520.02M105.66 522.30V519.65M106.63 522.30V520.09M107.69 522.30V517.34M108.31 522.30V517.73M112.53 522.30V519.65M113.60 522.30V516.59M123.21 522.30V519.82M124.34 522.30V517.85M124.75 522.30V519.02M126.82 522.30V517.68M133.92 522.30V519.93M134.73 522.30V518.54M135.96 522.30V519.48M137.23 522.30V518.46M137.04 522.30V519.96M138.45 522.30V519.04M139.50 522.30V519.76M147.04 522.30V519.47M148.19 522.30V519.87M149.52 522.30V518.94M156.98 522.30V519.78M158.11 522.30V517.63M159.12 522.30V519.24M159.21 522.30V518.01M161.76 522.30V519.25M162.69 522.30V519.86M163.92 522.30V520.94M166.88 522.30V519.74M167.58 522.30V518.83M171.99 522.30V519.66M173.04 522.30V520.96M180.29 522.30V518.98M181.19 522.30V519.83M182.37 522.30V520.15M183.82 522.30V520.18M185.10 522.30V518.47M188.59 522.30V520.52M189.54 522.30V521.27M190.74 522.30V520.15M197.26 522.30V518.55M198.56 522.30V518.72M199.82 522.30V519.99M201.14 522.30V520.67M201.21 522.30V520.51M204.90 522.30V518.38M205.66 522.30V519.91M207.21 522.30V520.21M208.61 522.30V520.41M209.56 522.30V517.78M214.84 522.30V517.79M216.12 522.30V517.62M217.38 522.30V517.00M224.62 522.30V518.96M225.82 522.30V518.17M234.60 522.30V518.96M235.49 522.30V519.60M236.13 522.30V518.44M237.94 522.30V519.40M238.84 522.30V517.44M239.75 522.30V517.35M246.72 522.30V520.43M247.92 522.30V521.07M248.25 522.30V520.27M249.74 522.30V520.92M252.74 522.30V519.81M254.03 522.30V520.66M255.02 522.30V520.75M263.23 522.30V519.82M264.37 522.30V518.22M264.67 522.30V517.15M275.02 522.30V520.25M276.27 522.30V519.72M281.73 522.30V518.67M282.55 522.30V519.89M284.21 522.30V519.46M284.01 522.30V518.82M284.83 522.30V520.03M289.38 522.30V518.81M290.51 522.30V517.89M290.98 522.30V518.55M293.03 522.30V517.49M293.90 522.30V519.13M300.42 522.30V518.66M301.16 522.30V519.81M312.32 522.30V519.45M313.15 522.30V519.47M314.50 522.30V520.57M316.05 522.30V520.66M315.12 522.30V520.07M319.53 522.30V519.93M320.57 522.30V517.75M321.43 522.30V519.94M327.28 522.30V518.22M328.03 522.30V520.34M335.51 522.30V518.02M336.74 522.30V517.61M336.91 522.30V517.82M338.61 522.30V517.91M343.53 522.30V518.42M344.60 522.30V519.08M352.90 522.30V518.09M354.08 522.30V519.23M354.44 522.30V518.64M358.55 522.30V520.59M359.56 522.30V518.97M363.25 522.30V520.48M364.14 522.30V520.43M371.21 522.30V520.60M371.95 522.30V520.26M373.44 522.30V518.75M374.24 522.30V519.20M378.47 522.30V518.21M379.65 522.30V517.64M380.87 522.30V518.27M382.71 522.30V520.29M383.78 522.30V519.48M384.42 522.30V520.02M386.23 522.30V517.60M385.58 522.30V519.17M388.01 522.30V519.48M389.31 522.30V519.65M389.74 522.30V520.69M390.85 522.30V521.15M391.36 522.30V519.38M399.38 522.30V518.99M400.40 522.30V520.70M401.77 522.30V520.19M408.39 522.30V520.50M409.41 522.30V519.23M416.70 522.30V518.00M417.87 522.30V517.55M418.88 522.30V519.23M420.16 522.30V516.51M421.21 522.30V518.36M421.65 522.30V519.42M422.91 522.30V518.94M423.52 522.30V518.70M425.48 522.30V519.72M426.53 522.30V517.48M430.59 522.30V518.52M431.71 522.30V519.49M432.07 522.30V520.28M434.71 522.30V519.07M435.80 522.30V519.61M437.16 522.30V518.56M442.31 522.30V518.54M443.42 522.30V518.40M444.58 522.30V519.79M446.09 522.30V518.81M452.97 522.30V521.03M453.88 522.30V520.81M455.12 522.30V519.94M457.55 522.30V520.96M458.33 522.30V521.12M460.13 522.30V520.59M460.82 522.30V520.24M463.33 522.30V519.67M464.60 522.30V520.70M471.67 522.30V520.65M472.59 522.30V520.09M473.21 522.30V520.66M475.20 522.30V520.58M478.72 522.30V517.15M479.88 522.30V517.27M480.41 522.30V517.13M484.82 522.30V520.04M485.66 522.30V521.37M492.33 522.30V520.31M493.27 522.30V520.33M494.84 522.30V519.51M495.19 522.30V521.15M495.59 522.30V520.75M499.88 522.30V520.93M500.71 522.30V519.42M501.96 522.30V519.14M503.71 522.30V519.16M504.76 522.30V519.41M505.98 522.30V519.24M509.42 522.30V520.75M510.61 522.30V519.59M510.94 522.30V520.40M512.94 522.30V520.90M513.91 522.30V519.95M515.48 522.30V518.69M516.20 522.30V518.80M525.66 522.30V520.01M526.85 522.30V517.32M527.95 522.30V517.62M532.61 522.30V520.10M533.58 522.30V517.29M534.54 522.30V516.78M538.89 522.30V518.75M539.71 522.30V519.78M540.32 522.30V519.37M545.77 522.30V519.27M547.04 522.30V519.33M557.70 522.30V519.03M558.59 522.30V518.01M559.43 522.30V517.40M567.75 522.30V520.24M568.46 522.30V520.74M569.34 522.30V519.97M571.75 522.30V519.05M572.78 522.30V519.34M573.46 522.30V518.77M574.34 522.30V519.24M583.03 522.30V516.29M583.77 522.30V519.04M584.63 522.30V517.56M590.65 522.30V518.28M591.51 522.30V518.32M592.54 522.30V520.71M601.97 522.30V521.15M603.12 522.30V520.95M607.08 522.30V519.86M608.17 522.30V520.39M608.62 522.30V520.88M610.36 522.30V520.26M611.80 522.30V519.69M618.78 522.30V520.62M619.70 522.30V519.33M630.43 522.30V518.80M631.53 522.30V520.28M632.72 522.30V518.47M633.38 522.30V518.31M635.15 522.30V520.49M638.23 522.30V519.38M639.51 522.30V517.16M639.74 522.30V517.19M646.57 522.30V520.24M647.71 522.30V519.90M648.77 522.30V518.82M651.59 522.30V520.86M652.60 522.30V519.16M653.73 522.30V519.69M659.35 522.30V519.79M660.47 522.30V519.56M660.96 522.30V519.44M661.48 522.30V518.89M664.64 522.30V519.25M665.72 522.30V519.08M667.20 522.30V520.40M668.11 522.30V520.13M670.68 522.30V516.98M671.73 522.30V519.53M672.10 522.30V518.26M674.09 522.30V519.25M673.65 522.30V520.26M676.07 522.30V519.85M677.31 522.30V517.75M681.96 522.30V519.75M682.75 522.30V520.83M690.14 522.30V518.83M691.04 522.30V518.70M691.85 522.30V520.32M692.35 522.30V520.85M695.27 522.30V520.65M701.08 522.30V519.46M702.38 522.30V518.97M703.38 522.30V518.88M703.94 522.30V520.23M703.92 522.30V520.19M705.66 522.30V520.22M706.78 522.30V518.47M715.99 522.30V520.05M716.95 522.30V521.07M727.46 522.30V520.56M728.41 522.30V519.96M729.73 522.30V521.06M730.86 522.30V520.64M730.96 522.30V519.72M736.99 522.30V519.56M738.09 522.30V519.72M738.58 522.30V519.83M747.16 522.30V518.29M748.04 522.30V517.34M748.94 522.30V519.16M749.84 522.30V519.37M752.56 522.30V519.90M753.33 522.30V518.89M754.59 522.30V519.36M762.29 522.30V520.47M763.22 522.30V519.23M768.31 522.30V517.62M769.57 522.30V519.08M770.56 522.30V518.69M778.55 522.30V520.04M779.52 522.30V518.18M780.28 522.30V520.28M782.42 522.30V517.22M783.58 522.30V520.58M784.73 522.30V518.59M791.08 522.30V519.98M792.22 522.30V521.25M793.57 522.30V520.07M794.13 522.30V520.01M794.64 522.30V519.79M799.91 522.30V518.80M800.87 522.30V519.95M801.46 522.30V520.20M811.68 522.30V519.45M812.82 522.30V520.52M813.36 522.30V520.90M815.24 522.30V519.80M818.83 522.30V519.17M819.82 522.30V519.28M820.84 522.30V519.42M823.05 522.30V518.89M823.94 522.30V518.55M825.47 522.30V518.69M832.33 522.30V520.33M833.03 522.30V519.99M841.18 522.30V518.91M842.41 522.30V516.40M842.94 522.30V517.72M843.99 522.30V519.04M852.72 522.30V520.13M853.76 522.30V519.90M855.10 522.30V520.34M854.92 522.30V519.93M855.93 522.30V521.16M859.18 522.30V518.25M859.96 522.30V519.14M860.98 522.30V518.31M861.90 522.30V518.24M869.96 522.30V516.46M871.18 522.30V518.07M872.45 522.30V517.09M880.70 522.30V519.39M881.92 522.30V520.64M882.51 522.30V520.56M882.98 522.30V520.39M883.56 522.30V519.36M891.06 522.30V521.25M892.04 522.30V521.17M893.22 522.30V520.54M894.20 522.30V521.24M894.69 522.30V520.60M924.27 522.30V520.79M925.37 522.30V521.51M926.10 522.30V521.34M928.10 522.30V520.99M927.37 522.30V520.75M936.01 522.30V521.03M937.02 522.30V520.33M940.82 522.30V519.80M942.12 522.30V520.59M947.86 522.30V518.96M948.87 522.30V519.00M949.85 522.30V519.48M951.95 522.30V520.36M953.13 522.30V521.03M954.44 522.30V520.38M955.42 522.30V519.82M955.62 522.30V519.72M965.63 522.30V519.14M966.67 522.30V520.84M967.79 522.30V519.42M973.02 522.30V521.31M974.10 522.30V521.52M975.35 522.30V520.54M976.75 522.30V521.38M989.14 522.30V521.35M990.19 522.30V520.69M991.44 522.30V520.70M1009.53 522.30V521.65M1010.27 522.30V520.91M449.72 522.30V519.57M442.10 522.30V515.43M460.92 522.30V515.43M452.83 522.30V518.25M432.96 522.30V520.10M440.35 522.30V516.30M436.61 522.30V519.97M433.65 522.30V520.22M432.76 522.30V519.72M443.66 522.30V519.55M442.79 522.30V517.47M460.05 522.30V511.79M459.07 522.30V512.53M432.93 522.30V518.68M431.06 522.30V520.14M428.57 522.30V519.41M459.84 522.30V514.05M438.39 522.30V518.46M438.32 522.30V516.34M439.72 522.30V519.90M456.25 522.30V510.91M426.22 522.30V519.77M451.50 522.30V516.84M448.05 522.30V507.18M440.06 522.30V518.10M436.44 522.30V518.01M449.20 522.30V510.51M459.23 522.30V519.11M438.80 522.30V514.49M453.69 522.30V511.56M449.70 522.30V517.36M459.07 522.30V510.37M440.09 522.30V519.75M430.04 522.30V518.42M454.02 522.30V520.24M437.31 522.30V518.30M443.35 522.30V518.13M457.33 522.30V515.82M444.62 522.30V509.61M448.37 522.30V515.63M437.64 522.30V518.83M447.32 522.30V510.55M435.12 522.30V519.27M439.57 522.30V518.71M457.95 522.30V511.11M435.65 522.30V519.38M454.75 522.30V519.16M450.15 522.30V520.26M432.76 522.30V520.26M454.20 522.30V519.33M433.98 522.30V520.25M435.23 522.30V517.19M451.20 522.30V504.89M459.14 522.30V510.29M458.27 522.30V519.77M458.38 522.30V513.68M432.75 522.30V518.01M456.05 522.30V515.35M429.26 522.30V518.79M452.37 522.30V511.96M460.19 522.30V520.15M427.96 522.30V520.25M426.76 522.30V519.80M448.05 522.30V519.85M431.67 522.30V520.10M447.32 522.30V512.70M459.93 522.30V515.05M460.27 522.30V513.14M439.68 522.30V519.39M434.14 522.30V516.03M460.82 522.30V504.38M432.13 522.30V520.09M431.33 522.30V519.76M451.80 522.30V520.10M444.56 522.30V513.83M427.17 522.30V520.03M453.68 522.30V511.90M441.81 522.30V512.34M447.04 522.30V517.83M439.86 522.30V512.76M456.08 522.30V500.58M445.63 522.30V519.73M432.13 522.30V519.59M450.17 522.30V520.30M454.07 522.30V506.22M444.02 522.30V520.30M453.93 522.30V515.28M449.43 522.30V513.70M451.49 522.30V515.95M459.60 522.30V495.69M458.51 522.30V508.67M437.07 522.30V518.98M435.41 522.30V515.85M453.73 522.30V506.39M454.74 522.30V499.24M450.08 522.30V517.60M452.51 522.30V518.05M447.38 522.30V519.55M456.02 522.30V513.09M435.63 522.30V515.58M428.90 522.30V518.77M452.49 522.30V519.39M452.64 522.30V512.38M457.75 522.30V509.87M440.95 522.30V512.16M429.05 522.30V519.11M429.60 522.30V520.04M429.98 522.30V518.53M441.46 522.30V514.61M434.98 522.30V517.30" stroke="#111" stroke-width="0.9" fill="none"/>
<line x1="97.10" y1="522.30" x2="97.10" y2="516.60" stroke="#111" stroke-width="1.1"/>
<line x1="130.30" y1="522.30" x2="130.30" y2="515.20" stroke="#111" stroke-width="1.1"/>
<line x1="148.90" y1="522.30" x2="148.90" y2="517.00" stroke="#111" stroke-width="1.1"/>
<line x1="161.60" y1="522.30" x2="161.60" y2="515.00" stroke="#111" stroke-width="1.1"/>
<line x1="170.00" y1="522.30" x2="170.00" y2="513.20" stroke="#111" stroke-width="1.1"/>
<line x1="174.30" y1="522.30" x2="174.30" y2="501.50" stroke="#111" stroke-width="1.1"/>
<line x1="183.00" y1="522.30" x2="183.00" y2="512.70" stroke="#111" stroke-width="1.1"/>
<line x1="191.80" y1="522.30" x2="191.80" y2="506.00" stroke="#111" stroke-width="1.1"/>
<line x1="197.70" y1="522.30" x2="197.70" y2="514.00" stroke="#111" stroke-width="1.1"/>
<line x1="212.90" y1="522.30" x2="212.90" y2="508.40" stroke="#111" stroke-width="1.1"/>
<line x1="222.10" y1="522.30" x2="222.10" y2="493.70" stroke="#111" stroke-width="1.1"/>
<line x1="229.50" y1="522.30" x2="229.50" y2="487.30" stroke="#111" stroke-width="1.1"/>
<line x1="230.90" y1="522.30" x2="230.90" y2="504.50" stroke="#111" stroke-width="2"/>
<line x1="244.90" y1="522.30" x2="244.90" y2="506.00" stroke="#111" stroke-width="1.1"/>
<line x1="269.00" y1="522.30" x2="269.00" y2="509.60" stroke="#111" stroke-width="1.1"/>
<line x1="273.90" y1="522.30" x2="273.90" y2="502.80" stroke="#111" stroke-width="1.1"/>
<line x1="277.50" y1="522.30" x2="277.50" y2="416.50" stroke="#111" stroke-width="1.1"/>
<line x1="278.30" y1="522.30" x2="278.30" y2="495.00" stroke="#111" stroke-width="2"/>
<line x1="284.90" y1="522.30" x2="284.90" y2="481.30" stroke="#111" stroke-width="1.1"/>
<line x1="293.50" y1="522.30" x2="293.50" y2="472.00" stroke="#111" stroke-width="1.1"/>
<line x1="308.50" y1="522.30" x2="308.50" y2="509.60" stroke="#111" stroke-width="1.1"/>
<line x1="321.80" y1="522.30" x2="321.80" y2="512.60" stroke="#111" stroke-width="1.1"/>
<line x1="333.90" y1="522.30" x2="333.90" y2="505.70" stroke="#111" stroke-width="1.1"/>
<line x1="336.80" y1="522.30" x2="336.80" y2="499.90" stroke="#111" stroke-width="1.1"/>
<line x1="339.00" y1="522.30" x2="339.00" y2="442.30" stroke="#111" stroke-width="1.1"/>
<line x1="346.60" y1="522.30" x2="346.60" y2="486.80" stroke="#111" stroke-width="1.1"/>
<line x1="352.10" y1="522.30" x2="352.10" y2="441.30" stroke="#111" stroke-width="1.1"/>
<line x1="353.00" y1="522.30" x2="353.00" y2="500.90" stroke="#111" stroke-width="2"/>
<line x1="356.00" y1="522.30" x2="356.00" y2="473.10" stroke="#111" stroke-width="1.1"/>
<line x1="364.80" y1="522.30" x2="364.80" y2="510.60" stroke="#111" stroke-width="1.1"/>
<line x1="370.00" y1="522.30" x2="370.00" y2="468.60" stroke="#111" stroke-width="1.1"/>
<line x1="396.60" y1="522.30" x2="396.60" y2="491.50" stroke="#111" stroke-width="1.1"/>
<line x1="407.10" y1="522.30" x2="407.10" y2="461.80" stroke="#111" stroke-width="1.1"/>
<line x1="419.50" y1="522.30" x2="419.50" y2="455.90" stroke="#111" stroke-width="1.1"/>
<line x1="442.00" y1="522.30" x2="442.00" y2="499.00" stroke="#111" stroke-width="1.1"/>
<line x1="452.80" y1="522.30" x2="452.80" y2="493.80" stroke="#111" stroke-width="1.1"/>
<line x1="455.00" y1="522.30" x2="455.00" y2="489.00" stroke="#111" stroke-width="1.1"/>
<line x1="457.20" y1="522.30" x2="457.20" y2="350.00" stroke="#111" stroke-width="1.1"/>
<line x1="458.60" y1="522.30" x2="458.60" y2="394.00" stroke="#111" stroke-width="2"/>
<line x1="462.30" y1="522.30" x2="462.30" y2="239.80" stroke="#111" stroke-width="1.1"/>
<line x1="496.00" y1="522.30" x2="496.00" y2="514.00" stroke="#111" stroke-width="1.1"/>
<line x1="525.00" y1="522.30" x2="525.00" y2="483.60" stroke="#111" stroke-width="1.1"/>
<line x1="568.40" y1="522.30" x2="568.40" y2="477.70" stroke="#111" stroke-width="1.1"/>
<line x1="571.70" y1="522.30" x2="571.70" y2="507.30" stroke="#111" stroke-width="1.1"/>
<line x1="578.00" y1="522.30" x2="578.00" y2="88.60" stroke="#111" stroke-width="1.1"/>
<line x1="578.90" y1="522.30" x2="578.90" y2="467.90" stroke="#111" stroke-width="2"/>
<line x1="582.50" y1="522.30" x2="582.50" y2="514.40" stroke="#111" stroke-width="1.1"/>
<line x1="616.60" y1="522.30" x2="616.60" y2="518.30" stroke="#111" stroke-width="1.1"/>
<line x1="621.50" y1="522.30" x2="621.50" y2="514.80" stroke="#111" stroke-width="1.1"/>
<line x1="630.90" y1="522.30" x2="630.90" y2="480.00" stroke="#111" stroke-width="1.1"/>
<line x1="631.40" y1="522.30" x2="631.40" y2="492.30" stroke="#111" stroke-width="2"/>
<line x1="639.90" y1="522.30" x2="639.90" y2="123.70" stroke="#111" stroke-width="1.1"/>
<line x1="640.60" y1="522.30" x2="640.60" y2="320.60" stroke="#111" stroke-width="2.4"/>
<line x1="646.70" y1="522.30" x2="646.70" y2="511.00" stroke="#111" stroke-width="1.1"/>
<line x1="647.30" y1="522.30" x2="647.30" y2="510.50" stroke="#111" stroke-width="1.1"/>
<line x1="656.70" y1="522.30" x2="656.70" y2="480.60" stroke="#111" stroke-width="1.1"/>
<line x1="658.00" y1="522.30" x2="658.00" y2="489.40" stroke="#111" stroke-width="1.6"/>
<line x1="702.20" y1="522.30" x2="702.20" y2="467.90" stroke="#111" stroke-width="1.1"/>
<line x1="704.50" y1="522.30" x2="704.50" y2="501.50" stroke="#111" stroke-width="1.1"/>
<line x1="749.50" y1="522.30" x2="749.50" y2="514.80" stroke="#111" stroke-width="1.1"/>
<line x1="754.70" y1="522.30" x2="754.70" y2="509.90" stroke="#111" stroke-width="1.1"/>
<line x1="758.80" y1="522.30" x2="758.80" y2="505.00" stroke="#111" stroke-width="1.1"/>
<line x1="763.90" y1="522.30" x2="763.90" y2="419.20" stroke="#111" stroke-width="1.1"/>
<line x1="790.40" y1="522.30" x2="790.40" y2="514.20" stroke="#111" stroke-width="1.1"/>
<line x1="825.20" y1="522.30" x2="825.20" y2="497.00" stroke="#111" stroke-width="1.1"/>
<line x1="825.80" y1="522.30" x2="825.80" y2="505.00" stroke="#111" stroke-width="1.6"/>
<line x1="838.70" y1="522.30" x2="838.70" y2="518.00" stroke="#111" stroke-width="1.1"/>
<line x1="925.00" y1="522.30" x2="925.00" y2="516.90" stroke="#111" stroke-width="1.1"/>
<line x1="600.20" y1="522.30" x2="600.20" y2="517.00" stroke="#111" stroke-width="1.1"/>
<line x1="680.00" y1="522.30" x2="680.00" y2="516.00" stroke="#111" stroke-width="1.1"/>
<line x1="694.00" y1="522.30" x2="694.00" y2="516.50" stroke="#111" stroke-width="1.1"/>
<line x1="712.00" y1="522.30" x2="712.00" y2="517.00" stroke="#111" stroke-width="1.1"/>
<line x1="740.00" y1="522.30" x2="740.00" y2="516.00" stroke="#111" stroke-width="1.1"/>
<line x1="797.00" y1="522.30" x2="797.00" y2="518.00" stroke="#111" stroke-width="1.1"/>
<line x1="862.00" y1="522.30" x2="862.00" y2="518.50" stroke="#111" stroke-width="1.1"/>
<line x1="880.00" y1="522.30" x2="880.00" y2="519.00" stroke="#111" stroke-width="1.1"/>
<line x1="940.00" y1="522.30" x2="940.00" y2="519.50" stroke="#111" stroke-width="1.1"/>
<line x1="960.00" y1="522.30" x2="960.00" y2="520.00" stroke="#111" stroke-width="1.1"/>
<line x1="985.00" y1="522.30" x2="985.00" y2="520.00" stroke="#111" stroke-width="1.1"/>
<path d="M170.97 522.30V520.81M171.16 522.30V520.56M172.13 522.30V521.25M176.41 522.30V518.19M175.88 522.30V517.58M176.26 522.30V518.17M180.93 522.30V521.30M192.69 522.30V518.26M190.40 522.30V518.64M190.56 522.30V519.59M198.54 522.30V521.52M196.53 522.30V520.79M210.86 522.30V520.38M210.47 522.30V519.66M211.00 522.30V519.21M223.18 522.30V515.61M220.49 522.30V516.19M231.85 522.30V518.18M231.95 522.30V514.91M232.61 522.30V518.29M232.06 522.30V519.62M233.07 522.30V518.81M246.09 522.30V519.71M242.53 522.30V520.55M243.16 522.30V519.87M266.67 522.30V520.27M274.87 522.30V519.09M274.98 522.30V517.80M279.93 522.30V513.30M275.85 522.30V513.30M280.08 522.30V519.29M276.96 522.30V517.99M286.77 522.30V515.10M286.52 522.30V513.30M292.09 522.30V513.30M310.95 522.30V520.76M306.99 522.30V520.83M320.12 522.30V520.43M331.94 522.30V518.36M335.55 522.30V516.80M340.33 522.30V513.30M348.00 522.30V515.17M351.28 522.30V513.30M349.76 522.30V513.30M349.72 522.30V513.30M354.95 522.30V519.19M352.09 522.30V517.57M353.99 522.30V517.87M354.47 522.30V513.30M353.58 522.30V513.30M365.87 522.30V519.92M363.39 522.30V519.57M368.92 522.30V516.62M368.20 522.30V513.30M398.25 522.30V516.83M408.60 522.30V513.30M405.06 522.30V515.03M405.90 522.30V513.30M420.71 522.30V515.94M443.53 522.30V518.55M440.82 522.30V517.78M455.28 522.30V518.86M453.86 522.30V518.17M455.82 522.30V513.30M458.13 522.30V513.30M456.63 522.30V513.30M459.95 522.30V513.30M464.68 522.30V513.30M463.31 522.30V513.30M460.11 522.30V513.30M494.63 522.30V521.49M494.33 522.30V521.40M523.46 522.30V514.85M523.79 522.30V516.13M523.07 522.30V518.54M566.69 522.30V516.55M569.77 522.30V516.71M572.88 522.30V520.08M572.62 522.30V520.88M569.98 522.30V518.57M576.55 522.30V513.30M579.13 522.30V513.30M579.76 522.30V513.30M579.92 522.30V517.33M628.98 522.30V518.74M629.12 522.30V513.30M630.41 522.30V518.26M638.11 522.30V513.30M638.62 522.30V513.30M641.68 522.30V513.30M645.68 522.30V520.35M645.42 522.30V521.04M649.32 522.30V521.12M654.76 522.30V518.94M654.41 522.30V518.37M660.24 522.30V515.48M660.45 522.30V516.07M700.87 522.30V516.06M703.21 522.30V514.67M700.35 522.30V513.30M702.99 522.30V518.29M753.00 522.30V520.73M760.93 522.30V519.39M756.80 522.30V518.35M760.52 522.30V520.05M761.71 522.30V513.30M761.86 522.30V513.30M765.47 522.30V513.30M788.20 522.30V520.30M792.31 522.30V520.72M827.18 522.30V519.10M823.82 522.30V518.51M827.64 522.30V518.02M827.97 522.30V520.24M827.40 522.30V518.80M824.17 522.30V519.83" stroke="#111" stroke-width="1.0" fill="none"/>
<line x1="93.20" y1="513.20" x2="98.00" y2="514.60" stroke="#6cc86c" stroke-width="1.1"/>
<line x1="230.90" y1="501.50" x2="246.50" y2="499.40" stroke="#6cc86c" stroke-width="1.1"/>
<line x1="292.90" y1="471.20" x2="296.00" y2="470.60" stroke="#6cc86c" stroke-width="1.1"/>
<line x1="320.80" y1="496.60" x2="336.40" y2="498.50" stroke="#6cc86c" stroke-width="1.1"/>
<line x1="388.20" y1="488.20" x2="397.00" y2="491.10" stroke="#6cc86c" stroke-width="1.1"/>
<line x1="442.50" y1="347.30" x2="456.60" y2="348.80" stroke="#6cc86c" stroke-width="1.1"/>
<line x1="511.40" y1="481.50" x2="524.60" y2="483.00" stroke="#6cc86c" stroke-width="1.1"/>
<line x1="555.40" y1="476.80" x2="568.50" y2="478.30" stroke="#6cc86c" stroke-width="1.1"/>
<line x1="617.00" y1="477.30" x2="630.70" y2="479.20" stroke="#6cc86c" stroke-width="1.1"/>
<line x1="607.90" y1="512.00" x2="622.10" y2="514.40" stroke="#6cc86c" stroke-width="1.1"/>
<line x1="680.10" y1="513.40" x2="694.80" y2="515.70" stroke="#6cc86c" stroke-width="1.1"/>
<line x1="729.00" y1="516.70" x2="739.70" y2="519.00" stroke="#6cc86c" stroke-width="1.1"/>
<line x1="741.60" y1="502.70" x2="757.30" y2="504.00" stroke="#6cc86c" stroke-width="1.1"/>
<line x1="838.00" y1="515.50" x2="849.00" y2="514.50" stroke="#6cc86c" stroke-width="1.1"/>
<text x="76.25" y="511.70" font-size="12.32" fill="#1c1c1c" textLength="29.44" lengthAdjust="spacingAndGlyphs">339.2</text>
<text x="113.75" y="510.70" font-size="12.32" fill="#1c1c1c" textLength="29.36" lengthAdjust="spacingAndGlyphs">396.3</text>
<text x="158.43" y="498.00" font-size="12.32" fill="#1c1c1c" textLength="29.01" lengthAdjust="spacingAndGlyphs">479.4</text>
<text x="213.33" y="483.30" font-size="12.32" fill="#1c1c1c" textLength="29.39" lengthAdjust="spacingAndGlyphs">580.3</text>
<text x="231.83" y="499.70" font-size="12.32" fill="#1c1c1c" textLength="29.39" lengthAdjust="spacingAndGlyphs">581.3</text>
<text x="261.10" y="412.40" font-size="12.32" fill="#1c1c1c" textLength="29.52" lengthAdjust="spacingAndGlyphs">667.3</text>
<text x="280.00" y="469.00" font-size="12.32" fill="#1c1c1c" textLength="29.34" lengthAdjust="spacingAndGlyphs">697.4</text>
<text x="303.50" y="496.30" font-size="12.50" fill="#1c1c1c" textLength="29.34" lengthAdjust="spacingAndGlyphs">777.4</text>
<text x="335.39" y="437.20" font-size="12.32" fill="#1c1c1c" textLength="29.25" lengthAdjust="spacingAndGlyphs">804.4</text>
<text x="352.99" y="461.20" font-size="12.32" fill="#1c1c1c" textLength="29.51" lengthAdjust="spacingAndGlyphs">837.2</text>
<text x="371.59" y="487.60" font-size="12.32" fill="#1c1c1c" textLength="29.43" lengthAdjust="spacingAndGlyphs">886.6</text>
<text x="403.25" y="453.40" font-size="12.32" fill="#1c1c1c" textLength="29.55" lengthAdjust="spacingAndGlyphs">930.2</text>
<text x="426.75" y="346.00" font-size="12.32" fill="#1c1c1c" textLength="29.47" lengthAdjust="spacingAndGlyphs">997.3</text>
<text x="442.75" y="235.30" font-size="12.32" fill="#1c1c1c" textLength="35.94" lengthAdjust="spacingAndGlyphs">1006.4</text>
<text x="476.45" y="510.70" font-size="12.32" fill="#1c1c1c" textLength="36.16" lengthAdjust="spacingAndGlyphs">1068.9</text>
<text x="491.15" y="479.70" font-size="12.32" fill="#1c1c1c" textLength="36.09" lengthAdjust="spacingAndGlyphs">1121.5</text>
<text x="533.25" y="476.10" font-size="12.32" fill="#1c1c1c" textLength="35.94" lengthAdjust="spacingAndGlyphs">1200.4</text>
<text x="558.35" y="83.70" font-size="12.32" fill="#1c1c1c" textLength="36.09" lengthAdjust="spacingAndGlyphs">1218.5</text>
<text x="586.95" y="511.30" font-size="12.32" fill="#1c1c1c" textLength="36.12" lengthAdjust="spacingAndGlyphs">1298.3</text>
<text x="596.75" y="476.60" font-size="12.32" fill="#1c1c1c" textLength="36.09" lengthAdjust="spacingAndGlyphs">1315.5</text>
<text x="621.25" y="119.90" font-size="12.32" fill="#1c1c1c" textLength="36.09" lengthAdjust="spacingAndGlyphs">1332.5</text>
<text x="660.15" y="512.70" font-size="12.32" fill="#1c1c1c" textLength="36.16" lengthAdjust="spacingAndGlyphs">1431.9</text>
<text x="682.75" y="463.90" font-size="12.32" fill="#1c1c1c" textLength="36.12" lengthAdjust="spacingAndGlyphs">1445.6</text>
<text x="708.25" y="515.60" font-size="12.32" fill="#1c1c1c" textLength="36.06" lengthAdjust="spacingAndGlyphs">1515.0</text>
<text x="722.35" y="501.20" font-size="12.32" fill="#1c1c1c" textLength="36.12" lengthAdjust="spacingAndGlyphs">1550.6</text>
<text x="744.35" y="414.70" font-size="12.32" fill="#1c1c1c" textLength="36.12" lengthAdjust="spacingAndGlyphs">1559.6</text>
<text x="770.75" y="510.80" font-size="12.32" fill="#1c1c1c" textLength="36.11" lengthAdjust="spacingAndGlyphs">1607.8</text>
<text x="806.05" y="492.70" font-size="12.32" fill="#1c1c1c" textLength="36.11" lengthAdjust="spacingAndGlyphs">1672.8</text>
<text x="829.05" y="514.30" font-size="12.32" fill="#1c1c1c" textLength="36.12" lengthAdjust="spacingAndGlyphs">1694.6</text>
<text x="904.55" y="512.10" font-size="12.32" fill="#1c1c1c" textLength="36.16" lengthAdjust="spacingAndGlyphs">1854.9</text>
<text x="950.95" y="517.80" font-size="12.32" fill="#1c1c1c" textLength="36.16" lengthAdjust="spacingAndGlyphs">1938.9</text>
<text x="567.07" y="65.00" font-size="16.86" fill="#25acea" textLength="13.17" lengthAdjust="spacingAndGlyphs">Y</text>
<text x="579.71" y="68.20" font-size="11.34" fill="#25acea" textLength="15.89" lengthAdjust="spacingAndGlyphs">11</text>
<text x="626.56" y="101.60" font-size="17.44" fill="#25acea" textLength="13.38" lengthAdjust="spacingAndGlyphs">Y</text>
<text x="639.92" y="104.60" font-size="10.88" fill="#25acea" textLength="15.80" lengthAdjust="spacingAndGlyphs">12</text>
<text x="380.66" y="267.00" font-size="17.44" fill="#25acea" font-weight="bold" textLength="13.15" lengthAdjust="spacingAndGlyphs">Y</text>
<text x="395.03" y="270.50" font-size="11.46" fill="#25acea" font-weight="bold" textLength="7.46" lengthAdjust="spacingAndGlyphs">9</text>
<line x1="412.30" y1="264.20" x2="450.95" y2="264.20" stroke="#25acea" stroke-width="1.5" stroke-linecap="round"/>
<path d="M441.79 260.54L451.85 264.20L441.79 267.86" fill="none" stroke="#25acea" stroke-width="1.5" stroke-linecap="round" stroke-linejoin="miter" stroke-miterlimit="10"/>
<text x="270.23" y="389.10" font-size="16.42" fill="#25acea" textLength="11.35" lengthAdjust="spacingAndGlyphs">Y</text>
<text x="282.23" y="393.00" font-size="11.46" fill="#25acea" textLength="8.44" lengthAdjust="spacingAndGlyphs">6</text>
<text x="286.57" y="425.70" font-size="16.28" fill="#e8782a" textLength="13.28" lengthAdjust="spacingAndGlyphs">B</text>
<text x="300.21" y="430.00" font-size="11.63" fill="#e8782a" textLength="8.56" lengthAdjust="spacingAndGlyphs">7</text>
<text x="243.94" y="474.50" font-size="15.55" fill="#e8782a" textLength="13.53" lengthAdjust="spacingAndGlyphs">B</text>
<text x="257.12" y="479.00" font-size="10.03" fill="#e8782a" textLength="9.64" lengthAdjust="spacingAndGlyphs">6</text>
<text x="219.82" y="461.90" font-size="15.41" fill="#25acea" textLength="11.45" lengthAdjust="spacingAndGlyphs">Y</text>
<text x="231.41" y="466.00" font-size="10.90" fill="#25acea" textLength="8.21" lengthAdjust="spacingAndGlyphs">5</text>
<text x="168.01" y="481.00" font-size="16.42" fill="#25acea" textLength="11.88" lengthAdjust="spacingAndGlyphs">Y</text>
<text x="180.68" y="485.00" font-size="11.63" fill="#25acea" textLength="7.73" lengthAdjust="spacingAndGlyphs">4</text>
<text x="125.81" y="486.90" font-size="15.84" fill="#e8782a" textLength="12.91" lengthAdjust="spacingAndGlyphs">B</text>
<text x="139.41" y="492.00" font-size="12.35" fill="#e8782a" textLength="8.21" lengthAdjust="spacingAndGlyphs">5</text>
<text x="346.82" y="413.40" font-size="16.28" fill="#25acea" textLength="11.45" lengthAdjust="spacingAndGlyphs">Y</text>
<text x="359.32" y="418.00" font-size="11.63" fill="#25acea" textLength="7.34" lengthAdjust="spacingAndGlyphs">7</text>
<text x="371.95" y="438.00" font-size="16.57" fill="#e8782a" textLength="13.41" lengthAdjust="spacingAndGlyphs">B</text>
<text x="386.40" y="442.00" font-size="10.03" fill="#e8782a" textLength="7.70" lengthAdjust="spacingAndGlyphs">8</text>
<text x="388.90" y="395.40" font-size="15.70" fill="#e8782a" textLength="13.03" lengthAdjust="spacingAndGlyphs">B</text>
<text x="402.21" y="400.00" font-size="11.63" fill="#e8782a" textLength="8.56" lengthAdjust="spacingAndGlyphs">7</text>
<text x="405.61" y="431.80" font-size="17.01" fill="#25acea" textLength="11.99" lengthAdjust="spacingAndGlyphs">Y</text>
<text x="417.83" y="436.10" font-size="11.48" fill="#25acea" textLength="17.15" lengthAdjust="spacingAndGlyphs">17</text>
<text x="435.25" y="426.70" font-size="11.31" fill="#25acea" textLength="16.98" lengthAdjust="spacingAndGlyphs">2+</text>
<text x="507.35" y="456.40" font-size="17.01" fill="#25acea" font-weight="bold" textLength="13.58" lengthAdjust="spacingAndGlyphs">Y</text>
<text x="521.72" y="460.30" font-size="10.88" fill="#25acea" font-weight="bold" textLength="17.32" lengthAdjust="spacingAndGlyphs">10</text>
<text x="643.72" y="475.00" font-size="17.01" fill="#e8782a" textLength="13.66" lengthAdjust="spacingAndGlyphs">B</text>
<text x="656.79" y="479.10" font-size="10.88" fill="#e8782a" textLength="17.71" lengthAdjust="spacingAndGlyphs">13</text>
<text x="686.62" y="438.20" font-size="16.42" fill="#25acea" textLength="11.45" lengthAdjust="spacingAndGlyphs">Y</text>
<text x="697.75" y="442.10" font-size="10.60" fill="#25acea" textLength="18.27" lengthAdjust="spacingAndGlyphs">13</text>
<text x="754.21" y="388.80" font-size="16.57" fill="#25acea" textLength="11.99" lengthAdjust="spacingAndGlyphs">Y</text>
<text x="766.13" y="392.90" font-size="11.19" fill="#25acea" textLength="17.12" lengthAdjust="spacingAndGlyphs">14</text>
<text x="813.70" y="475.00" font-size="16.86" fill="#25acea" textLength="12.20" lengthAdjust="spacingAndGlyphs">Y</text>
<text x="826.00" y="478.90" font-size="11.34" fill="#25acea" textLength="17.45" lengthAdjust="spacingAndGlyphs">15</text>
<text x="779.13" y="493.40" font-size="16.72" fill="#e8782a" textLength="14.41" lengthAdjust="spacingAndGlyphs">B</text>
<text x="792.82" y="497.30" font-size="11.46" fill="#e8782a" textLength="17.26" lengthAdjust="spacingAndGlyphs">16</text>
<text x="847.62" y="499.60" font-size="17.30" fill="#e8782a" textLength="13.66" lengthAdjust="spacingAndGlyphs">B</text>
<text x="860.83" y="503.30" font-size="11.63" fill="#e8782a" textLength="17.15" lengthAdjust="spacingAndGlyphs">17</text>
<text x="915.42" y="493.40" font-size="17.30" fill="#e8782a" textLength="13.66" lengthAdjust="spacingAndGlyphs">B</text>
<text x="928.80" y="497.50" font-size="11.46" fill="#e8782a" textLength="17.48" lengthAdjust="spacingAndGlyphs">18</text>
<line x1="148.90" y1="491.80" x2="166.23" y2="507.44" stroke="#f01818" stroke-width="3.2" stroke-linecap="round"/>
<path d="M164.69 497.61L167.66 508.73L156.30 506.91" fill="none" stroke="#f01818" stroke-width="3.2" stroke-linecap="round" stroke-linejoin="miter" stroke-miterlimit="10"/>
<line x1="293.40" y1="430.50" x2="293.40" y2="450.30" stroke="#f01818" stroke-width="3.2" stroke-linecap="round"/>
<path d="M300.04 443.08L293.40 452.22L286.76 443.08" fill="none" stroke="#f01818" stroke-width="3.2" stroke-linecap="round" stroke-linejoin="miter" stroke-miterlimit="10"/>
<line x1="378.40" y1="443.20" x2="363.12" y2="468.35" stroke="#f01818" stroke-width="3.2" stroke-linecap="round"/>
<path d="M372.48 465.00L362.12 469.99L361.78 458.50" fill="none" stroke="#f01818" stroke-width="3.2" stroke-linecap="round" stroke-linejoin="miter" stroke-miterlimit="10"/>
<text x="623.87" y="39.51" font-size="35.62" fill="#000" font-weight="bold" textLength="59.55" lengthAdjust="spacingAndGlyphs">(a)</text>
<rect x="710.00" y="44.60" width="279.50" height="110.10" fill="#fff" stroke="#000" stroke-width="2.6"/>
<text x="720.43" y="74.20" font-size="25.00" fill="#000" font-weight="bold" textLength="68.65" lengthAdjust="spacingAndGlyphs">LTQ-</text>
<text x="719.93" y="108.50" font-size="24.13" fill="#000" textLength="159.02" lengthAdjust="spacingAndGlyphs">MS/MS of</text>
<text x="720.52" y="142.00" font-size="28.78" fill="#000" textLength="251.90" lengthAdjust="spacingAndGlyphs">m/z 1014.9 (2+)</text>
<rect x="793.50" y="158.50" width="199.20" height="290.80" fill="#fff" stroke="#000" stroke-width="2.4"/>
<polyline points="795.00,424.00 800.00,419.00 806.90,414.20 812.00,420.00 817.60,425.00 820.00,412.00 821.90,402.40 825.10,400.30 827.00,370.00 829.40,321.90 832.00,240.00 834.00,180.00 834.80,170.40 835.60,180.00 837.00,214.00 839.50,280.00 842.30,343.30 845.50,399.20 849.80,404.60 853.00,416.40 856.30,364.80 859.00,310.00 861.60,268.00 864.00,215.00 865.90,188.70 867.50,200.00 869.20,214.40 871.00,260.00 873.40,321.90 876.00,365.00 878.80,390.60 881.00,399.20 883.10,390.60 885.30,400.30 889.60,382.00 893.90,300.40 897.10,278.90 898.50,283.00 899.90,256.30 901.00,280.00 902.40,300.40 906.70,386.30 908.90,405.60 913.20,404.60 917.50,401.30 919.00,390.00 920.70,382.00 922.00,392.00 923.90,367.00 926.00,358.00 927.80,347.60 929.00,365.00 930.40,377.70 931.50,372.00 933.60,390.60 936.00,403.00 939.00,414.20 943.30,418.50 949.70,422.80 952.90,407.80 956.00,395.00 958.30,388.50 960.00,395.00 961.50,399.20 963.00,390.00 964.30,392.70 966.00,405.00 969.00,416.40 973.00,420.00 977.60,422.80 983.00,426.00 986.00,418.00 989.40,407.80 991.50,404.00" fill="none" stroke="#2a2a2a" stroke-width="1.25" stroke-linejoin="round"/>
<line x1="795.00" y1="427.60" x2="991.50" y2="427.60" stroke="#1a1a1a" stroke-width="1.2"/>
<line x1="798.96" y1="427.60" x2="798.96" y2="430.40" stroke="#1a1a1a" stroke-width="0.8"/>
<line x1="812.24" y1="427.60" x2="812.24" y2="430.40" stroke="#1a1a1a" stroke-width="0.8"/>
<line x1="825.52" y1="427.60" x2="825.52" y2="430.40" stroke="#1a1a1a" stroke-width="0.8"/>
<line x1="838.80" y1="427.60" x2="838.80" y2="430.40" stroke="#1a1a1a" stroke-width="0.8"/>
<line x1="852.08" y1="427.60" x2="852.08" y2="430.40" stroke="#1a1a1a" stroke-width="0.8"/>
<line x1="865.36" y1="427.60" x2="865.36" y2="430.40" stroke="#1a1a1a" stroke-width="0.8"/>
<line x1="878.64" y1="427.60" x2="878.64" y2="430.40" stroke="#1a1a1a" stroke-width="0.8"/>
<line x1="891.92" y1="427.60" x2="891.92" y2="430.40" stroke="#1a1a1a" stroke-width="0.8"/>
<line x1="905.20" y1="427.60" x2="905.20" y2="430.40" stroke="#1a1a1a" stroke-width="0.8"/>
<line x1="918.48" y1="427.60" x2="918.48" y2="430.40" stroke="#1a1a1a" stroke-width="0.8"/>
<line x1="931.76" y1="427.60" x2="931.76" y2="430.40" stroke="#1a1a1a" stroke-width="0.8"/>
<line x1="945.04" y1="427.60" x2="945.04" y2="430.40" stroke="#1a1a1a" stroke-width="0.8"/>
<line x1="958.32" y1="427.60" x2="958.32" y2="430.40" stroke="#1a1a1a" stroke-width="0.8"/>
<line x1="971.60" y1="427.60" x2="971.60" y2="430.40" stroke="#1a1a1a" stroke-width="0.8"/>
<line x1="984.88" y1="427.60" x2="984.88" y2="430.40" stroke="#1a1a1a" stroke-width="0.8"/>
<text x="828.58" y="436.90" font-size="6.59" fill="#222" font-weight="bold" textLength="20.12" lengthAdjust="spacingAndGlyphs">1015</text>
<text x="894.98" y="436.90" font-size="6.59" fill="#222" font-weight="bold" textLength="20.20" lengthAdjust="spacingAndGlyphs">1016</text>
<text x="960.98" y="436.90" font-size="6.59" fill="#222" font-weight="bold" textLength="20.27" lengthAdjust="spacingAndGlyphs">1017</text>
<text x="897.31" y="444.50" font-size="6.07" fill="#222" font-weight="bold" textLength="13.74" lengthAdjust="spacingAndGlyphs">m/z</text>
<text x="821.51" y="168.50" font-size="6.59" fill="#222" font-weight="bold" textLength="26.36" lengthAdjust="spacingAndGlyphs">1014.9</text>
<text x="852.61" y="185.10" font-size="6.59" fill="#222" font-weight="bold" textLength="26.08" lengthAdjust="spacingAndGlyphs">1015.4</text>
<text x="887.01" y="253.50" font-size="6.59" fill="#222" font-weight="bold" textLength="26.36" lengthAdjust="spacingAndGlyphs">1015.9</text>
<text x="914.51" y="344.70" font-size="6.59" fill="#222" font-weight="bold" textLength="26.08" lengthAdjust="spacingAndGlyphs">1016.4</text>
<text x="945.01" y="385.50" font-size="6.59" fill="#222" font-weight="bold" textLength="26.31" lengthAdjust="spacingAndGlyphs">1016.8</text>
<text x="982.44" y="406.10" font-size="6.59" fill="#222" font-weight="bold" textLength="14.81" lengthAdjust="spacingAndGlyphs">101</text>
<text x="797.02" y="412.50" font-size="6.69" fill="#222" font-weight="bold" textLength="14.69" lengthAdjust="spacingAndGlyphs">14.5</text>
<line x1="802.00" y1="414.50" x2="808.00" y2="414.80" stroke="#6cc86c" stroke-width="0.9"/>
<rect x="63.50" y="19.50" width="493.00" height="202.00" fill="#fff"/>
<rect x="63.50" y="20.90" width="491.50" height="12.10" fill="#ece9d8"/>
<line x1="63.50" y1="32.60" x2="554.80" y2="32.60" stroke="#d2cebd" stroke-width="1.2"/>
<line x1="118.00" y1="22.00" x2="118.00" y2="31.50" stroke="#d6d2c2" stroke-width="1"/>
<line x1="119.00" y1="22.00" x2="119.00" y2="31.50" stroke="#fbfaf5" stroke-width="1"/>
<line x1="173.50" y1="22.00" x2="173.50" y2="31.50" stroke="#d6d2c2" stroke-width="1"/>
<line x1="174.50" y1="22.00" x2="174.50" y2="31.50" stroke="#fbfaf5" stroke-width="1"/>
<line x1="227.00" y1="22.00" x2="227.00" y2="31.50" stroke="#d6d2c2" stroke-width="1"/>
<line x1="228.00" y1="22.00" x2="228.00" y2="31.50" stroke="#fbfaf5" stroke-width="1"/>
<line x1="282.00" y1="22.00" x2="282.00" y2="31.50" stroke="#d6d2c2" stroke-width="1"/>
<line x1="283.00" y1="22.00" x2="283.00" y2="31.50" stroke="#fbfaf5" stroke-width="1"/>
<line x1="318.00" y1="22.00" x2="318.00" y2="31.50" stroke="#d6d2c2" stroke-width="1"/>
<line x1="319.00" y1="22.00" x2="319.00" y2="31.50" stroke="#fbfaf5" stroke-width="1"/>
<line x1="373.30" y1="22.00" x2="373.30" y2="31.50" stroke="#d6d2c2" stroke-width="1"/>
<line x1="374.30" y1="22.00" x2="374.30" y2="31.50" stroke="#fbfaf5" stroke-width="1"/>
<line x1="426.60" y1="22.00" x2="426.60" y2="31.50" stroke="#d6d2c2" stroke-width="1"/>
<line x1="427.60" y1="22.00" x2="427.60" y2="31.50" stroke="#fbfaf5" stroke-width="1"/>
<line x1="481.70" y1="22.00" x2="481.70" y2="31.50" stroke="#d6d2c2" stroke-width="1"/>
<line x1="482.70" y1="22.00" x2="482.70" y2="31.50" stroke="#fbfaf5" stroke-width="1"/>
<line x1="536.00" y1="22.00" x2="536.00" y2="31.50" stroke="#d6d2c2" stroke-width="1"/>
<line x1="537.00" y1="22.00" x2="537.00" y2="31.50" stroke="#fbfaf5" stroke-width="1"/>
<text x="71.17" y="29.40" font-size="7.70" fill="#454545" textLength="28.59" lengthAdjust="spacingAndGlyphs">B Ions</text>
<text x="126.63" y="29.40" font-size="7.59" fill="#454545" textLength="26.73" lengthAdjust="spacingAndGlyphs">B+2H</text>
<text x="182.22" y="29.40" font-size="7.59" fill="#454545" textLength="28.50" lengthAdjust="spacingAndGlyphs">B-NH3</text>
<text x="235.71" y="29.40" font-size="7.59" fill="#454545" textLength="29.56" lengthAdjust="spacingAndGlyphs">B-H2O</text>
<text x="291.48" y="29.40" font-size="7.70" fill="#454545" textLength="13.04" lengthAdjust="spacingAndGlyphs">AA</text>
<text x="327.28" y="29.40" font-size="7.70" fill="#454545" textLength="27.87" lengthAdjust="spacingAndGlyphs">Y Ions</text>
<text x="382.58" y="29.40" font-size="7.59" fill="#454545" textLength="25.44" lengthAdjust="spacingAndGlyphs">Y+2H</text>
<text x="435.89" y="29.40" font-size="7.59" fill="#454545" textLength="28.02" lengthAdjust="spacingAndGlyphs">Y-NH3</text>
<text x="490.99" y="29.40" font-size="7.59" fill="#454545" textLength="29.37" lengthAdjust="spacingAndGlyphs">Y-H2O</text>
<text x="544.18" y="29.40" font-size="7.70" fill="#454545" textLength="6.64" lengthAdjust="spacingAndGlyphs">Y</text>
<line x1="63.50" y1="33.50" x2="556.50" y2="33.50" stroke="#c4c4c4" stroke-width="1"/>
<line x1="63.50" y1="43.38" x2="556.50" y2="43.38" stroke="#c4c4c4" stroke-width="1"/>
<line x1="63.50" y1="53.26" x2="556.50" y2="53.26" stroke="#c4c4c4" stroke-width="1"/>
<line x1="63.50" y1="63.14" x2="556.50" y2="63.14" stroke="#c4c4c4" stroke-width="1"/>
<line x1="63.50" y1="73.02" x2="556.50" y2="73.02" stroke="#c4c4c4" stroke-width="1"/>
<line x1="63.50" y1="82.90" x2="556.50" y2="82.90" stroke="#c4c4c4" stroke-width="1"/>
<line x1="63.50" y1="92.78" x2="556.50" y2="92.78" stroke="#c4c4c4" stroke-width="1"/>
<line x1="63.50" y1="102.66" x2="556.50" y2="102.66" stroke="#c4c4c4" stroke-width="1"/>
<line x1="63.50" y1="112.54" x2="556.50" y2="112.54" stroke="#c4c4c4" stroke-width="1"/>
<line x1="63.50" y1="122.42" x2="556.50" y2="122.42" stroke="#c4c4c4" stroke-width="1"/>
<line x1="63.50" y1="132.30" x2="556.50" y2="132.30" stroke="#c4c4c4" stroke-width="1"/>
<line x1="63.50" y1="142.18" x2="556.50" y2="142.18" stroke="#c4c4c4" stroke-width="1"/>
<line x1="63.50" y1="152.06" x2="556.50" y2="152.06" stroke="#c4c4c4" stroke-width="1"/>
<line x1="63.50" y1="161.94" x2="556.50" y2="161.94" stroke="#c4c4c4" stroke-width="1"/>
<line x1="63.50" y1="171.82" x2="556.50" y2="171.82" stroke="#c4c4c4" stroke-width="1"/>
<line x1="63.50" y1="181.70" x2="556.50" y2="181.70" stroke="#c4c4c4" stroke-width="1"/>
<line x1="63.50" y1="191.58" x2="556.50" y2="191.58" stroke="#c4c4c4" stroke-width="1"/>
<line x1="63.50" y1="201.46" x2="556.50" y2="201.46" stroke="#c4c4c4" stroke-width="1"/>
<line x1="63.50" y1="211.34" x2="556.50" y2="211.34" stroke="#c4c4c4" stroke-width="1"/>
<line x1="63.50" y1="221.22" x2="556.50" y2="221.22" stroke="#c4c4c4" stroke-width="1"/>
<line x1="119.00" y1="33.50" x2="119.00" y2="221.22" stroke="#b8b8b8" stroke-width="1"/>
<line x1="174.50" y1="33.50" x2="174.50" y2="221.22" stroke="#b8b8b8" stroke-width="1"/>
<line x1="228.00" y1="33.50" x2="228.00" y2="221.22" stroke="#b8b8b8" stroke-width="1"/>
<line x1="283.00" y1="33.50" x2="283.00" y2="221.22" stroke="#b8b8b8" stroke-width="1"/>
<line x1="319.00" y1="33.50" x2="319.00" y2="221.22" stroke="#b8b8b8" stroke-width="1"/>
<line x1="374.30" y1="33.50" x2="374.30" y2="221.22" stroke="#b8b8b8" stroke-width="1"/>
<line x1="427.60" y1="33.50" x2="427.60" y2="221.22" stroke="#b8b8b8" stroke-width="1"/>
<line x1="482.70" y1="33.50" x2="482.70" y2="221.22" stroke="#b8b8b8" stroke-width="1"/>
<line x1="537.00" y1="33.50" x2="537.00" y2="221.22" stroke="#b8b8b8" stroke-width="1"/>
<text x="77.84" y="41.55" font-size="8.02" font-weight="bold" textLength="28.22" lengthAdjust="spacingAndGlyphs">100.1</text>
<text x="298.84" y="41.55" font-size="8.14" font-weight="bold" textLength="6.13" lengthAdjust="spacingAndGlyphs">V</text>
<text x="328.96" y="41.55" font-size="8.02" font-weight="bold" textLength="37.24" lengthAdjust="spacingAndGlyphs">2,029.0</text>
<text x="382.94" y="41.55" font-size="8.02" font-weight="bold" textLength="37.57" lengthAdjust="spacingAndGlyphs">1,015.0</text>
<text x="437.46" y="41.55" font-size="8.02" font-weight="bold" textLength="37.24" lengthAdjust="spacingAndGlyphs">2,012.0</text>
<text x="492.16" y="41.55" font-size="8.02" font-weight="bold" textLength="37.24" lengthAdjust="spacingAndGlyphs">2,011.0</text>
<text x="540.21" y="40.90" font-size="7.30" fill="#444" textLength="11.59" lengthAdjust="spacingAndGlyphs">19</text>
<text x="77.84" y="51.43" font-size="8.14" font-weight="bold" textLength="28.22" lengthAdjust="spacingAndGlyphs">171.1</text>
<text x="298.68" y="51.43" font-size="8.14" font-weight="bold" textLength="6.46" lengthAdjust="spacingAndGlyphs">A</text>
<text x="328.64" y="51.43" font-size="8.02" font-weight="bold" textLength="37.53" lengthAdjust="spacingAndGlyphs">1,929.9</text>
<rect x="379.45" y="45.38" width="44.80" height="6.50" fill="#88c2f8"/>
<text x="387.86" y="51.43" font-size="8.02" font-weight="bold" textLength="27.90" lengthAdjust="spacingAndGlyphs">965.5</text>
<text x="437.14" y="51.43" font-size="8.02" font-weight="bold" textLength="37.53" lengthAdjust="spacingAndGlyphs">1,912.9</text>
<text x="491.84" y="51.43" font-size="8.02" font-weight="bold" textLength="37.53" lengthAdjust="spacingAndGlyphs">1,911.9</text>
<text x="540.21" y="50.78" font-size="7.30" fill="#444" textLength="11.54" lengthAdjust="spacingAndGlyphs">18</text>
<text x="78.16" y="61.31" font-size="8.02" font-weight="bold" textLength="27.90" lengthAdjust="spacingAndGlyphs">258.1</text>
<text x="242.41" y="61.31" font-size="8.02" font-weight="bold" textLength="27.90" lengthAdjust="spacingAndGlyphs">240.1</text>
<text x="298.61" y="61.31" font-size="8.02" font-weight="bold" textLength="6.68" lengthAdjust="spacingAndGlyphs">S</text>
<text x="328.64" y="61.31" font-size="8.02" font-weight="bold" textLength="37.53" lengthAdjust="spacingAndGlyphs">1,858.9</text>
<rect x="379.45" y="55.26" width="44.80" height="6.50" fill="#88c2f8"/>
<text x="387.86" y="61.31" font-size="8.02" font-weight="bold" textLength="28.00" lengthAdjust="spacingAndGlyphs">929.9</text>
<text x="437.14" y="61.31" font-size="8.02" font-weight="bold" textLength="37.45" lengthAdjust="spacingAndGlyphs">1,841.8</text>
<text x="491.84" y="61.31" font-size="8.02" font-weight="bold" textLength="37.53" lengthAdjust="spacingAndGlyphs">1,840.9</text>
<text x="540.20" y="60.66" font-size="7.41" fill="#444" textLength="11.62" lengthAdjust="spacingAndGlyphs">17</text>
<text x="78.29" y="71.19" font-size="8.02" font-weight="bold" textLength="27.90" lengthAdjust="spacingAndGlyphs">357.2</text>
<rect x="234.00" y="65.14" width="44.80" height="6.50" fill="#94f88c"/>
<text x="242.54" y="71.19" font-size="8.02" font-weight="bold" textLength="27.90" lengthAdjust="spacingAndGlyphs">339.2</text>
<text x="298.84" y="71.19" font-size="8.14" font-weight="bold" textLength="6.13" lengthAdjust="spacingAndGlyphs">V</text>
<text x="328.64" y="71.19" font-size="8.02" font-weight="bold" textLength="37.45" lengthAdjust="spacingAndGlyphs">1,771.8</text>
<rect x="379.45" y="65.14" width="44.80" height="6.50" fill="#88c2f8"/>
<text x="387.90" y="71.19" font-size="8.02" font-weight="bold" textLength="27.61" lengthAdjust="spacingAndGlyphs">886.4</text>
<text x="437.14" y="71.19" font-size="8.02" font-weight="bold" textLength="37.45" lengthAdjust="spacingAndGlyphs">1,754.8</text>
<text x="491.84" y="71.19" font-size="8.02" font-weight="bold" textLength="37.45" lengthAdjust="spacingAndGlyphs">1,753.8</text>
<text x="540.21" y="70.54" font-size="7.30" fill="#444" textLength="11.55" lengthAdjust="spacingAndGlyphs">16</text>
<rect x="69.75" y="75.02" width="44.80" height="6.50" fill="#ff8266"/>
<text x="78.38" y="81.07" font-size="8.02" font-weight="bold" textLength="27.77" lengthAdjust="spacingAndGlyphs">470.3</text>
<rect x="234.00" y="75.02" width="44.80" height="6.50" fill="#94f88c"/>
<text x="242.63" y="81.07" font-size="8.02" font-weight="bold" textLength="27.77" lengthAdjust="spacingAndGlyphs">452.3</text>
<text x="299.48" y="81.07" font-size="8.55" fill="#111" font-weight="bold" font-family="Liberation Serif" textLength="4.84" lengthAdjust="spacingAndGlyphs">I</text>
<rect x="325.15" y="75.02" width="44.80" height="6.50" fill="#88c2f8"/>
<text x="328.64" y="81.07" font-size="8.02" font-weight="bold" textLength="37.45" lengthAdjust="spacingAndGlyphs">1,672.8</text>
<rect x="379.45" y="75.02" width="44.80" height="6.50" fill="#88c2f8"/>
<text x="387.90" y="81.07" font-size="8.02" font-weight="bold" textLength="27.97" lengthAdjust="spacingAndGlyphs">836.9</text>
<text x="437.14" y="81.07" font-size="8.02" font-weight="bold" textLength="37.61" lengthAdjust="spacingAndGlyphs">1,655.7</text>
<rect x="488.35" y="75.02" width="44.80" height="6.50" fill="#94f88c"/>
<text x="491.84" y="81.07" font-size="8.02" font-weight="bold" textLength="37.45" lengthAdjust="spacingAndGlyphs">1,654.8</text>
<text x="540.21" y="80.42" font-size="7.41" fill="#444" textLength="11.52" lengthAdjust="spacingAndGlyphs">15</text>
<rect x="69.75" y="84.90" width="44.80" height="6.50" fill="#ff8266"/>
<text x="78.21" y="90.95" font-size="8.02" font-weight="bold" textLength="27.95" lengthAdjust="spacingAndGlyphs">584.3</text>
<text x="133.66" y="90.95" font-size="8.02" font-weight="bold" textLength="28.08" lengthAdjust="spacingAndGlyphs">292.7</text>
<rect x="179.75" y="84.90" width="44.80" height="6.50" fill="#94f88c"/>
<text x="188.21" y="90.95" font-size="8.02" font-weight="bold" textLength="27.95" lengthAdjust="spacingAndGlyphs">567.3</text>
<rect x="234.00" y="84.90" width="44.80" height="6.50" fill="#94f88c"/>
<text x="242.46" y="90.95" font-size="8.02" font-weight="bold" textLength="27.95" lengthAdjust="spacingAndGlyphs">566.3</text>
<text x="298.22" y="90.95" font-size="8.14" font-weight="bold" textLength="7.37" lengthAdjust="spacingAndGlyphs">N</text>
<rect x="325.15" y="84.90" width="44.80" height="6.50" fill="#88c2f8"/>
<text x="328.64" y="90.95" font-size="8.02" font-weight="bold" textLength="37.61" lengthAdjust="spacingAndGlyphs">1,559.7</text>
<rect x="379.45" y="84.90" width="44.80" height="6.50" fill="#88c2f8"/>
<text x="387.77" y="90.95" font-size="8.02" font-weight="bold" textLength="28.09" lengthAdjust="spacingAndGlyphs">780.3</text>
<text x="437.14" y="90.95" font-size="8.02" font-weight="bold" textLength="37.61" lengthAdjust="spacingAndGlyphs">1,542.7</text>
<rect x="488.35" y="84.90" width="44.80" height="6.50" fill="#94f88c"/>
<text x="491.84" y="90.95" font-size="8.14" font-weight="bold" textLength="37.61" lengthAdjust="spacingAndGlyphs">1,541.7</text>
<text x="540.22" y="90.30" font-size="7.41" fill="#444" textLength="11.38" lengthAdjust="spacingAndGlyphs">14</text>
<rect x="69.75" y="94.78" width="44.80" height="6.50" fill="#ff8266"/>
<text x="78.15" y="100.83" font-size="8.02" font-weight="bold" textLength="27.66" lengthAdjust="spacingAndGlyphs">697.4</text>
<text x="133.79" y="100.83" font-size="8.02" font-weight="bold" textLength="27.90" lengthAdjust="spacingAndGlyphs">349.2</text>
<text x="188.15" y="100.83" font-size="8.02" font-weight="bold" textLength="27.66" lengthAdjust="spacingAndGlyphs">680.4</text>
<rect x="234.00" y="94.78" width="44.80" height="6.50" fill="#94f88c"/>
<text x="242.40" y="100.83" font-size="8.02" font-weight="bold" textLength="27.66" lengthAdjust="spacingAndGlyphs">679.4</text>
<text x="299.48" y="100.83" font-size="8.55" fill="#111" font-weight="bold" font-family="Liberation Serif" textLength="4.84" lengthAdjust="spacingAndGlyphs">I</text>
<rect x="325.15" y="94.78" width="44.80" height="6.50" fill="#88c2f8"/>
<text x="328.64" y="100.83" font-size="8.02" font-weight="bold" textLength="37.51" lengthAdjust="spacingAndGlyphs">1,445.6</text>
<rect x="379.45" y="94.78" width="44.80" height="6.50" fill="#88c2f8"/>
<text x="387.77" y="100.83" font-size="8.02" font-weight="bold" textLength="28.09" lengthAdjust="spacingAndGlyphs">723.3</text>
<rect x="433.65" y="94.78" width="44.80" height="6.50" fill="#94f88c"/>
<text x="437.14" y="100.83" font-size="8.02" font-weight="bold" textLength="37.51" lengthAdjust="spacingAndGlyphs">1,428.6</text>
<rect x="488.35" y="94.78" width="44.80" height="6.50" fill="#94f88c"/>
<text x="491.84" y="100.83" font-size="8.02" font-weight="bold" textLength="37.51" lengthAdjust="spacingAndGlyphs">1,427.6</text>
<text x="540.21" y="100.18" font-size="7.30" fill="#444" textLength="11.55" lengthAdjust="spacingAndGlyphs">13</text>
<rect x="69.75" y="104.66" width="44.80" height="6.50" fill="#ff8266"/>
<text x="78.20" y="110.71" font-size="8.02" font-weight="bold" textLength="27.86" lengthAdjust="spacingAndGlyphs">811.5</text>
<text x="133.88" y="110.71" font-size="8.02" font-weight="bold" textLength="27.81" lengthAdjust="spacingAndGlyphs">406.2</text>
<text x="188.07" y="110.71" font-size="8.02" font-weight="bold" textLength="27.74" lengthAdjust="spacingAndGlyphs">794.4</text>
<rect x="234.00" y="104.66" width="44.80" height="6.50" fill="#94f88c"/>
<text x="242.32" y="110.71" font-size="8.02" font-weight="bold" textLength="27.99" lengthAdjust="spacingAndGlyphs">793.5</text>
<text x="298.22" y="110.71" font-size="8.14" font-weight="bold" textLength="7.37" lengthAdjust="spacingAndGlyphs">N</text>
<rect x="325.15" y="104.66" width="44.80" height="6.50" fill="#88c2f8"/>
<text x="328.64" y="110.71" font-size="8.02" font-weight="bold" textLength="37.51" lengthAdjust="spacingAndGlyphs">1,332.6</text>
<text x="387.84" y="110.71" font-size="8.02" font-weight="bold" textLength="27.95" lengthAdjust="spacingAndGlyphs">666.8</text>
<text x="437.14" y="110.71" font-size="8.02" font-weight="bold" textLength="37.42" lengthAdjust="spacingAndGlyphs">1,315.5</text>
<rect x="488.35" y="104.66" width="44.80" height="6.50" fill="#94f88c"/>
<text x="491.84" y="110.71" font-size="8.02" font-weight="bold" textLength="37.42" lengthAdjust="spacingAndGlyphs">1,314.5</text>
<text x="540.20" y="110.06" font-size="7.30" fill="#444" textLength="11.62" lengthAdjust="spacingAndGlyphs">12</text>
<rect x="69.75" y="114.54" width="44.80" height="6.50" fill="#ff8266"/>
<text x="78.16" y="120.59" font-size="8.02" font-weight="bold" textLength="27.90" lengthAdjust="spacingAndGlyphs">908.5</text>
<rect x="125.25" y="114.54" width="44.80" height="6.50" fill="#ff8266"/>
<text x="133.88" y="120.59" font-size="8.02" font-weight="bold" textLength="27.71" lengthAdjust="spacingAndGlyphs">454.8</text>
<text x="188.20" y="120.59" font-size="8.02" font-weight="bold" textLength="27.86" lengthAdjust="spacingAndGlyphs">891.5</text>
<text x="242.45" y="120.59" font-size="8.02" font-weight="bold" textLength="27.86" lengthAdjust="spacingAndGlyphs">890.5</text>
<text x="298.19" y="120.59" font-size="8.14" font-weight="bold" textLength="7.07" lengthAdjust="spacingAndGlyphs">P</text>
<rect x="325.15" y="114.54" width="44.80" height="6.50" fill="#88c2f8"/>
<text x="328.64" y="120.59" font-size="8.02" font-weight="bold" textLength="37.42" lengthAdjust="spacingAndGlyphs">1,218.5</text>
<rect x="379.45" y="114.54" width="44.80" height="6.50" fill="#88c2f8"/>
<text x="387.84" y="120.59" font-size="8.02" font-weight="bold" textLength="27.95" lengthAdjust="spacingAndGlyphs">609.8</text>
<text x="437.14" y="120.59" font-size="8.02" font-weight="bold" textLength="37.42" lengthAdjust="spacingAndGlyphs">1,201.5</text>
<rect x="488.35" y="114.54" width="44.80" height="6.50" fill="#94f88c"/>
<text x="491.84" y="120.59" font-size="8.02" font-weight="bold" textLength="37.42" lengthAdjust="spacingAndGlyphs">1,200.5</text>
<text x="540.21" y="119.94" font-size="7.41" fill="#444" textLength="11.60" lengthAdjust="spacingAndGlyphs">11</text>
<rect x="69.75" y="124.42" width="44.80" height="6.50" fill="#ff8266"/>
<text x="73.24" y="130.47" font-size="8.02" font-weight="bold" textLength="37.42" lengthAdjust="spacingAndGlyphs">1,023.5</text>
<text x="133.71" y="130.47" font-size="8.02" font-weight="bold" textLength="27.95" lengthAdjust="spacingAndGlyphs">512.3</text>
<text x="183.24" y="130.47" font-size="8.02" font-weight="bold" textLength="37.42" lengthAdjust="spacingAndGlyphs">1,006.5</text>
<text x="237.49" y="130.47" font-size="8.02" font-weight="bold" textLength="37.42" lengthAdjust="spacingAndGlyphs">1,005.5</text>
<text x="290.87" y="130.47" font-size="8.14" font-weight="bold" textLength="21.60" lengthAdjust="spacingAndGlyphs">N+1</text>
<rect x="325.15" y="124.42" width="44.80" height="6.50" fill="#88c2f8"/>
<text x="328.64" y="130.47" font-size="8.02" font-weight="bold" textLength="37.42" lengthAdjust="spacingAndGlyphs">1,121.5</text>
<text x="387.91" y="130.47" font-size="8.02" font-weight="bold" textLength="27.99" lengthAdjust="spacingAndGlyphs">561.2</text>
<rect x="433.65" y="124.42" width="44.80" height="6.50" fill="#94f88c"/>
<text x="437.15" y="130.47" font-size="8.02" font-weight="bold" textLength="37.16" lengthAdjust="spacingAndGlyphs">1,104.4</text>
<rect x="488.35" y="124.42" width="44.80" height="6.50" fill="#94f88c"/>
<text x="491.84" y="130.47" font-size="8.02" font-weight="bold" textLength="37.42" lengthAdjust="spacingAndGlyphs">1,103.5</text>
<text x="540.21" y="129.82" font-size="7.30" fill="#444" textLength="11.49" lengthAdjust="spacingAndGlyphs">10</text>
<rect x="69.75" y="134.30" width="44.80" height="6.50" fill="#ff8266"/>
<text x="73.24" y="140.35" font-size="8.02" font-weight="bold" textLength="37.51" lengthAdjust="spacingAndGlyphs">1,124.6</text>
<rect x="125.25" y="134.30" width="44.80" height="6.50" fill="#ff8266"/>
<text x="133.71" y="140.35" font-size="8.02" font-weight="bold" textLength="27.89" lengthAdjust="spacingAndGlyphs">562.8</text>
<text x="183.24" y="140.35" font-size="8.02" font-weight="bold" textLength="37.51" lengthAdjust="spacingAndGlyphs">1,107.6</text>
<rect x="234.00" y="134.30" width="44.80" height="6.50" fill="#94f88c"/>
<text x="237.49" y="140.35" font-size="8.02" font-weight="bold" textLength="37.51" lengthAdjust="spacingAndGlyphs">1,106.6</text>
<text x="298.79" y="140.35" font-size="8.14" font-weight="bold" textLength="6.22" lengthAdjust="spacingAndGlyphs">T</text>
<rect x="325.15" y="134.30" width="44.80" height="6.50" fill="#88c2f8"/>
<text x="328.65" y="140.35" font-size="8.02" font-weight="bold" textLength="37.16" lengthAdjust="spacingAndGlyphs">1,006.4</text>
<text x="387.91" y="140.35" font-size="8.02" font-weight="bold" textLength="28.04" lengthAdjust="spacingAndGlyphs">503.7</text>
<text x="442.07" y="140.35" font-size="8.02" font-weight="bold" textLength="27.64" lengthAdjust="spacingAndGlyphs">989.4</text>
<rect x="488.35" y="134.30" width="44.80" height="6.50" fill="#94f88c"/>
<text x="496.77" y="140.35" font-size="8.02" font-weight="bold" textLength="27.64" lengthAdjust="spacingAndGlyphs">988.4</text>
<text x="543.13" y="139.70" font-size="7.30" fill="#444" textLength="5.54" lengthAdjust="spacingAndGlyphs">9</text>
<rect x="69.75" y="144.18" width="44.80" height="6.50" fill="#ff8266"/>
<text x="73.24" y="150.23" font-size="8.02" font-weight="bold" textLength="37.51" lengthAdjust="spacingAndGlyphs">1,225.6</text>
<text x="133.64" y="150.23" font-size="8.02" font-weight="bold" textLength="28.01" lengthAdjust="spacingAndGlyphs">613.3</text>
<text x="183.24" y="150.23" font-size="8.02" font-weight="bold" textLength="37.51" lengthAdjust="spacingAndGlyphs">1,208.6</text>
<rect x="234.00" y="144.18" width="44.80" height="6.50" fill="#94f88c"/>
<text x="237.49" y="150.23" font-size="8.02" font-weight="bold" textLength="37.51" lengthAdjust="spacingAndGlyphs">1,207.6</text>
<text x="298.79" y="150.23" font-size="8.14" font-weight="bold" textLength="6.22" lengthAdjust="spacingAndGlyphs">T</text>
<rect x="325.15" y="144.18" width="44.80" height="6.50" fill="#88c2f8"/>
<text x="333.57" y="150.23" font-size="8.02" font-weight="bold" textLength="27.64" lengthAdjust="spacingAndGlyphs">905.4</text>
<rect x="379.45" y="144.18" width="44.80" height="6.50" fill="#88c2f8"/>
<text x="388.08" y="150.23" font-size="8.02" font-weight="bold" textLength="27.81" lengthAdjust="spacingAndGlyphs">453.2</text>
<text x="442.10" y="150.23" font-size="8.02" font-weight="bold" textLength="27.61" lengthAdjust="spacingAndGlyphs">888.4</text>
<text x="496.80" y="150.23" font-size="8.02" font-weight="bold" textLength="27.61" lengthAdjust="spacingAndGlyphs">887.4</text>
<text x="543.17" y="149.58" font-size="7.30" fill="#444" textLength="5.45" lengthAdjust="spacingAndGlyphs">8</text>
<rect x="69.75" y="154.06" width="44.80" height="6.50" fill="#ff8266"/>
<text x="73.24" y="160.11" font-size="8.02" font-weight="bold" textLength="37.61" lengthAdjust="spacingAndGlyphs">1,362.7</text>
<rect x="125.25" y="154.06" width="44.80" height="6.50" fill="#ff8266"/>
<text x="133.64" y="160.11" font-size="8.02" font-weight="bold" textLength="28.03" lengthAdjust="spacingAndGlyphs">681.9</text>
<text x="183.24" y="160.11" font-size="8.02" font-weight="bold" textLength="37.61" lengthAdjust="spacingAndGlyphs">1,345.7</text>
<rect x="234.00" y="154.06" width="44.80" height="6.50" fill="#94f88c"/>
<text x="237.49" y="160.11" font-size="8.02" font-weight="bold" textLength="37.61" lengthAdjust="spacingAndGlyphs">1,344.7</text>
<text x="298.22" y="160.11" font-size="8.14" font-weight="bold" textLength="7.37" lengthAdjust="spacingAndGlyphs">H</text>
<rect x="325.15" y="154.06" width="44.80" height="6.50" fill="#88c2f8"/>
<text x="333.60" y="160.11" font-size="8.02" font-weight="bold" textLength="27.96" lengthAdjust="spacingAndGlyphs">804.3</text>
<text x="388.08" y="160.11" font-size="8.02" font-weight="bold" textLength="27.86" lengthAdjust="spacingAndGlyphs">402.7</text>
<text x="441.97" y="160.11" font-size="8.02" font-weight="bold" textLength="28.09" lengthAdjust="spacingAndGlyphs">787.3</text>
<rect x="488.35" y="154.06" width="44.80" height="6.50" fill="#94f88c"/>
<text x="496.67" y="160.11" font-size="8.02" font-weight="bold" textLength="28.09" lengthAdjust="spacingAndGlyphs">786.3</text>
<text x="543.08" y="159.46" font-size="7.41" fill="#444" textLength="5.63" lengthAdjust="spacingAndGlyphs">7</text>
<rect x="69.75" y="163.94" width="44.80" height="6.50" fill="#ff8266"/>
<text x="73.24" y="169.99" font-size="8.02" font-weight="bold" textLength="37.61" lengthAdjust="spacingAndGlyphs">1,449.7</text>
<text x="133.57" y="169.99" font-size="8.02" font-weight="bold" textLength="27.74" lengthAdjust="spacingAndGlyphs">725.4</text>
<text x="183.24" y="169.99" font-size="8.02" font-weight="bold" textLength="37.61" lengthAdjust="spacingAndGlyphs">1,432.7</text>
<rect x="234.00" y="163.94" width="44.80" height="6.50" fill="#94f88c"/>
<text x="237.49" y="169.99" font-size="8.02" font-weight="bold" textLength="37.61" lengthAdjust="spacingAndGlyphs">1,431.7</text>
<text x="298.61" y="169.99" font-size="8.02" font-weight="bold" textLength="6.68" lengthAdjust="spacingAndGlyphs">S</text>
<rect x="325.15" y="163.94" width="44.80" height="6.50" fill="#88c2f8"/>
<text x="333.54" y="169.99" font-size="8.02" font-weight="bold" textLength="28.01" lengthAdjust="spacingAndGlyphs">667.3</text>
<text x="388.00" y="169.99" font-size="8.02" font-weight="bold" textLength="27.76" lengthAdjust="spacingAndGlyphs">334.1</text>
<text x="442.04" y="169.99" font-size="8.02" font-weight="bold" textLength="28.01" lengthAdjust="spacingAndGlyphs">650.3</text>
<rect x="488.35" y="163.94" width="44.80" height="6.50" fill="#94f88c"/>
<text x="496.74" y="169.99" font-size="8.02" font-weight="bold" textLength="28.01" lengthAdjust="spacingAndGlyphs">649.3</text>
<text x="543.09" y="169.34" font-size="7.30" fill="#444" textLength="5.54" lengthAdjust="spacingAndGlyphs">6</text>
<rect x="69.75" y="173.82" width="44.80" height="6.50" fill="#ff8266"/>
<text x="73.24" y="179.87" font-size="8.02" font-weight="bold" textLength="37.45" lengthAdjust="spacingAndGlyphs">1,550.8</text>
<rect x="125.25" y="173.82" width="44.80" height="6.50" fill="#ff8266"/>
<text x="133.57" y="179.87" font-size="8.02" font-weight="bold" textLength="28.10" lengthAdjust="spacingAndGlyphs">775.9</text>
<rect x="179.75" y="173.82" width="44.80" height="6.50" fill="#94f88c"/>
<text x="183.24" y="179.87" font-size="8.02" font-weight="bold" textLength="37.45" lengthAdjust="spacingAndGlyphs">1,533.8</text>
<rect x="234.00" y="173.82" width="44.80" height="6.50" fill="#94f88c"/>
<text x="237.49" y="179.87" font-size="8.02" font-weight="bold" textLength="37.45" lengthAdjust="spacingAndGlyphs">1,532.8</text>
<text x="298.79" y="179.87" font-size="8.14" font-weight="bold" textLength="6.22" lengthAdjust="spacingAndGlyphs">T</text>
<rect x="325.15" y="173.82" width="44.80" height="6.50" fill="#88c2f8"/>
<text x="333.61" y="179.87" font-size="8.02" font-weight="bold" textLength="27.95" lengthAdjust="spacingAndGlyphs">580.3</text>
<text x="442.11" y="179.87" font-size="8.02" font-weight="bold" textLength="27.99" lengthAdjust="spacingAndGlyphs">563.2</text>
<text x="496.81" y="179.87" font-size="8.02" font-weight="bold" textLength="27.99" lengthAdjust="spacingAndGlyphs">562.2</text>
<text x="543.21" y="179.22" font-size="7.41" fill="#444" textLength="5.40" lengthAdjust="spacingAndGlyphs">5</text>
<rect x="69.75" y="183.70" width="44.80" height="6.50" fill="#ff8266"/>
<text x="73.24" y="189.75" font-size="8.02" font-weight="bold" textLength="37.45" lengthAdjust="spacingAndGlyphs">1,607.8</text>
<text x="133.70" y="189.75" font-size="8.02" font-weight="bold" textLength="27.61" lengthAdjust="spacingAndGlyphs">804.4</text>
<text x="183.24" y="189.75" font-size="8.02" font-weight="bold" textLength="37.45" lengthAdjust="spacingAndGlyphs">1,590.8</text>
<text x="237.49" y="189.75" font-size="8.02" font-weight="bold" textLength="37.45" lengthAdjust="spacingAndGlyphs">1,589.8</text>
<text x="298.54" y="189.75" font-size="8.02" font-weight="bold" textLength="6.92" lengthAdjust="spacingAndGlyphs">G</text>
<rect x="325.15" y="183.70" width="44.80" height="6.50" fill="#88c2f8"/>
<text x="333.78" y="189.75" font-size="8.02" font-weight="bold" textLength="27.81" lengthAdjust="spacingAndGlyphs">479.2</text>
<text x="442.28" y="189.75" font-size="8.02" font-weight="bold" textLength="27.81" lengthAdjust="spacingAndGlyphs">462.2</text>
<text x="496.98" y="189.75" font-size="8.02" font-weight="bold" textLength="27.81" lengthAdjust="spacingAndGlyphs">461.2</text>
<text x="543.39" y="189.10" font-size="7.41" fill="#444" textLength="5.08" lengthAdjust="spacingAndGlyphs">4</text>
<rect x="69.75" y="193.58" width="44.80" height="6.50" fill="#ff8266"/>
<text x="73.24" y="199.63" font-size="8.02" font-weight="bold" textLength="37.45" lengthAdjust="spacingAndGlyphs">1,694.8</text>
<text x="133.70" y="199.63" font-size="8.02" font-weight="bold" textLength="27.97" lengthAdjust="spacingAndGlyphs">847.9</text>
<text x="183.24" y="199.63" font-size="8.02" font-weight="bold" textLength="37.45" lengthAdjust="spacingAndGlyphs">1,677.8</text>
<rect x="234.00" y="193.58" width="44.80" height="6.50" fill="#94f88c"/>
<text x="237.49" y="199.63" font-size="8.02" font-weight="bold" textLength="37.45" lengthAdjust="spacingAndGlyphs">1,676.8</text>
<text x="298.61" y="199.63" font-size="8.02" font-weight="bold" textLength="6.68" lengthAdjust="spacingAndGlyphs">S</text>
<rect x="325.15" y="193.58" width="44.80" height="6.50" fill="#88c2f8"/>
<text x="333.78" y="199.63" font-size="8.02" font-weight="bold" textLength="27.81" lengthAdjust="spacingAndGlyphs">422.2</text>
<text x="442.28" y="199.63" font-size="8.02" font-weight="bold" textLength="27.81" lengthAdjust="spacingAndGlyphs">405.2</text>
<text x="496.98" y="199.63" font-size="8.02" font-weight="bold" textLength="27.81" lengthAdjust="spacingAndGlyphs">404.2</text>
<text x="543.23" y="198.98" font-size="7.30" fill="#444" textLength="5.40" lengthAdjust="spacingAndGlyphs">3</text>
<rect x="69.75" y="203.46" width="44.80" height="6.50" fill="#ff8266"/>
<text x="73.24" y="209.51" font-size="8.02" font-weight="bold" textLength="37.53" lengthAdjust="spacingAndGlyphs">1,854.9</text>
<text x="133.66" y="209.51" font-size="8.02" font-weight="bold" textLength="28.00" lengthAdjust="spacingAndGlyphs">927.9</text>
<text x="183.24" y="209.51" font-size="8.02" font-weight="bold" textLength="37.45" lengthAdjust="spacingAndGlyphs">1,837.8</text>
<rect x="234.00" y="203.46" width="44.80" height="6.50" fill="#94f88c"/>
<text x="237.49" y="209.51" font-size="8.02" font-weight="bold" textLength="37.53" lengthAdjust="spacingAndGlyphs">1,836.9</text>
<text x="287.41" y="209.51" font-size="8.02" font-weight="bold" textLength="29.02" lengthAdjust="spacingAndGlyphs">C+57</text>
<text x="333.70" y="209.51" font-size="8.02" font-weight="bold" textLength="27.76" lengthAdjust="spacingAndGlyphs">335.1</text>
<text x="442.20" y="209.51" font-size="8.02" font-weight="bold" textLength="27.76" lengthAdjust="spacingAndGlyphs">318.1</text>
<text x="543.09" y="208.86" font-size="7.30" fill="#444" textLength="5.62" lengthAdjust="spacingAndGlyphs">2</text>
<text x="73.56" y="219.39" font-size="8.02" font-weight="bold" textLength="37.24" lengthAdjust="spacingAndGlyphs">2,029.0</text>
<text x="128.74" y="219.39" font-size="8.02" font-weight="bold" textLength="37.57" lengthAdjust="spacingAndGlyphs">1,015.0</text>
<text x="183.56" y="219.39" font-size="8.02" font-weight="bold" textLength="37.24" lengthAdjust="spacingAndGlyphs">2,012.0</text>
<text x="237.81" y="219.39" font-size="8.02" font-weight="bold" textLength="37.24" lengthAdjust="spacingAndGlyphs">2,011.0</text>
<text x="298.27" y="219.39" font-size="8.14" font-weight="bold" textLength="6.83" lengthAdjust="spacingAndGlyphs">R</text>
<text x="333.24" y="219.39" font-size="8.14" font-weight="bold" textLength="28.22" lengthAdjust="spacingAndGlyphs">175.1</text>
<text x="441.74" y="219.39" font-size="8.02" font-weight="bold" textLength="28.22" lengthAdjust="spacingAndGlyphs">158.1</text>
<text x="542.79" y="218.74" font-size="7.41" fill="#444" textLength="5.93" lengthAdjust="spacingAndGlyphs">1</text>
<rect x="62.50" y="18.50" width="495.00" height="203.40" fill="none" stroke="#000" stroke-width="2.0"/>
<line x1="59.00" y1="633.40" x2="59.00" y2="1250.80" stroke="#1a1a1a" stroke-width="1.4"/>
<line x1="53.60" y1="1250.30" x2="59.00" y2="1250.30" stroke="#1a1a1a" stroke-width="1.1"/>
<line x1="54.40" y1="1244.14" x2="59.00" y2="1244.14" stroke="#1a1a1a" stroke-width="1.0"/>
<line x1="54.40" y1="1237.97" x2="59.00" y2="1237.97" stroke="#1a1a1a" stroke-width="1.0"/>
<line x1="54.40" y1="1231.81" x2="59.00" y2="1231.81" stroke="#1a1a1a" stroke-width="1.0"/>
<line x1="54.40" y1="1225.64" x2="59.00" y2="1225.64" stroke="#1a1a1a" stroke-width="1.0"/>
<line x1="53.60" y1="1219.48" x2="59.00" y2="1219.48" stroke="#1a1a1a" stroke-width="1.1"/>
<line x1="54.40" y1="1213.32" x2="59.00" y2="1213.32" stroke="#1a1a1a" stroke-width="1.0"/>
<line x1="54.40" y1="1207.15" x2="59.00" y2="1207.15" stroke="#1a1a1a" stroke-width="1.0"/>
<line x1="54.40" y1="1200.99" x2="59.00" y2="1200.99" stroke="#1a1a1a" stroke-width="1.0"/>
<line x1="54.40" y1="1194.82" x2="59.00" y2="1194.82" stroke="#1a1a1a" stroke-width="1.0"/>
<line x1="53.60" y1="1188.66" x2="59.00" y2="1188.66" stroke="#1a1a1a" stroke-width="1.1"/>
<line x1="54.40" y1="1182.50" x2="59.00" y2="1182.50" stroke="#1a1a1a" stroke-width="1.0"/>
<line x1="54.40" y1="1176.33" x2="59.00" y2="1176.33" stroke="#1a1a1a" stroke-width="1.0"/>
<line x1="54.40" y1="1170.17" x2="59.00" y2="1170.17" stroke="#1a1a1a" stroke-width="1.0"/>
<line x1="54.40" y1="1164.00" x2="59.00" y2="1164.00" stroke="#1a1a1a" stroke-width="1.0"/>
<line x1="53.60" y1="1157.84" x2="59.00" y2="1157.84" stroke="#1a1a1a" stroke-width="1.1"/>
<line x1="54.40" y1="1151.68" x2="59.00" y2="1151.68" stroke="#1a1a1a" stroke-width="1.0"/>
<line x1="54.40" y1="1145.51" x2="59.00" y2="1145.51" stroke="#1a1a1a" stroke-width="1.0"/>
<line x1="54.40" y1="1139.35" x2="59.00" y2="1139.35" stroke="#1a1a1a" stroke-width="1.0"/>
<line x1="54.40" y1="1133.18" x2="59.00" y2="1133.18" stroke="#1a1a1a" stroke-width="1.0"/>
<line x1="53.60" y1="1127.02" x2="59.00" y2="1127.02" stroke="#1a1a1a" stroke-width="1.1"/>
<line x1="54.40" y1="1120.86" x2="59.00" y2="1120.86" stroke="#1a1a1a" stroke-width="1.0"/>
<line x1="54.40" y1="1114.69" x2="59.00" y2="1114.69" stroke="#1a1a1a" stroke-width="1.0"/>
<line x1="54.40" y1="1108.53" x2="59.00" y2="1108.53" stroke="#1a1a1a" stroke-width="1.0"/>
<line x1="54.40" y1="1102.36" x2="59.00" y2="1102.36" stroke="#1a1a1a" stroke-width="1.0"/>
<line x1="53.60" y1="1096.20" x2="59.00" y2="1096.20" stroke="#1a1a1a" stroke-width="1.1"/>
<line x1="54.40" y1="1090.04" x2="59.00" y2="1090.04" stroke="#1a1a1a" stroke-width="1.0"/>
<line x1="54.40" y1="1083.87" x2="59.00" y2="1083.87" stroke="#1a1a1a" stroke-width="1.0"/>
<line x1="54.40" y1="1077.71" x2="59.00" y2="1077.71" stroke="#1a1a1a" stroke-width="1.0"/>
<line x1="54.40" y1="1071.54" x2="59.00" y2="1071.54" stroke="#1a1a1a" stroke-width="1.0"/>
<line x1="53.60" y1="1065.38" x2="59.00" y2="1065.38" stroke="#1a1a1a" stroke-width="1.1"/>
<line x1="54.40" y1="1059.22" x2="59.00" y2="1059.22" stroke="#1a1a1a" stroke-width="1.0"/>
<line x1="54.40" y1="1053.05" x2="59.00" y2="1053.05" stroke="#1a1a1a" stroke-width="1.0"/>
<line x1="54.40" y1="1046.89" x2="59.00" y2="1046.89" stroke="#1a1a1a" stroke-width="1.0"/>
<line x1="54.40" y1="1040.72" x2="59.00" y2="1040.72" stroke="#1a1a1a" stroke-width="1.0"/>
<line x1="53.60" y1="1034.56" x2="59.00" y2="1034.56" stroke="#1a1a1a" stroke-width="1.1"/>
<line x1="54.40" y1="1028.40" x2="59.00" y2="1028.40" stroke="#1a1a1a" stroke-width="1.0"/>
<line x1="54.40" y1="1022.23" x2="59.00" y2="1022.23" stroke="#1a1a1a" stroke-width="1.0"/>
<line x1="54.40" y1="1016.07" x2="59.00" y2="1016.07" stroke="#1a1a1a" stroke-width="1.0"/>
<line x1="54.40" y1="1009.90" x2="59.00" y2="1009.90" stroke="#1a1a1a" stroke-width="1.0"/>
<line x1="53.60" y1="1003.74" x2="59.00" y2="1003.74" stroke="#1a1a1a" stroke-width="1.1"/>
<line x1="54.40" y1="997.58" x2="59.00" y2="997.58" stroke="#1a1a1a" stroke-width="1.0"/>
<line x1="54.40" y1="991.41" x2="59.00" y2="991.41" stroke="#1a1a1a" stroke-width="1.0"/>
<line x1="54.40" y1="985.25" x2="59.00" y2="985.25" stroke="#1a1a1a" stroke-width="1.0"/>
<line x1="54.40" y1="979.08" x2="59.00" y2="979.08" stroke="#1a1a1a" stroke-width="1.0"/>
<line x1="53.60" y1="972.92" x2="59.00" y2="972.92" stroke="#1a1a1a" stroke-width="1.1"/>
<line x1="54.40" y1="966.76" x2="59.00" y2="966.76" stroke="#1a1a1a" stroke-width="1.0"/>
<line x1="54.40" y1="960.59" x2="59.00" y2="960.59" stroke="#1a1a1a" stroke-width="1.0"/>
<line x1="54.40" y1="954.43" x2="59.00" y2="954.43" stroke="#1a1a1a" stroke-width="1.0"/>
<line x1="54.40" y1="948.26" x2="59.00" y2="948.26" stroke="#1a1a1a" stroke-width="1.0"/>
<line x1="53.60" y1="942.10" x2="59.00" y2="942.10" stroke="#1a1a1a" stroke-width="1.1"/>
<line x1="54.40" y1="935.94" x2="59.00" y2="935.94" stroke="#1a1a1a" stroke-width="1.0"/>
<line x1="54.40" y1="929.77" x2="59.00" y2="929.77" stroke="#1a1a1a" stroke-width="1.0"/>
<line x1="54.40" y1="923.61" x2="59.00" y2="923.61" stroke="#1a1a1a" stroke-width="1.0"/>
<line x1="54.40" y1="917.44" x2="59.00" y2="917.44" stroke="#1a1a1a" stroke-width="1.0"/>
<line x1="53.60" y1="911.28" x2="59.00" y2="911.28" stroke="#1a1a1a" stroke-width="1.1"/>
<line x1="54.40" y1="905.12" x2="59.00" y2="905.12" stroke="#1a1a1a" stroke-width="1.0"/>
<line x1="54.40" y1="898.95" x2="59.00" y2="898.95" stroke="#1a1a1a" stroke-width="1.0"/>
<line x1="54.40" y1="892.79" x2="59.00" y2="892.79" stroke="#1a1a1a" stroke-width="1.0"/>
<line x1="54.40" y1="886.62" x2="59.00" y2="886.62" stroke="#1a1a1a" stroke-width="1.0"/>
<line x1="53.60" y1="880.46" x2="59.00" y2="880.46" stroke="#1a1a1a" stroke-width="1.1"/>
<line x1="54.40" y1="874.30" x2="59.00" y2="874.30" stroke="#1a1a1a" stroke-width="1.0"/>
<line x1="54.40" y1="868.13" x2="59.00" y2="868.13" stroke="#1a1a1a" stroke-width="1.0"/>
<line x1="54.40" y1="861.97" x2="59.00" y2="861.97" stroke="#1a1a1a" stroke-width="1.0"/>
<line x1="54.40" y1="855.80" x2="59.00" y2="855.80" stroke="#1a1a1a" stroke-width="1.0"/>
<line x1="53.60" y1="849.64" x2="59.00" y2="849.64" stroke="#1a1a1a" stroke-width="1.1"/>
<line x1="54.40" y1="843.48" x2="59.00" y2="843.48" stroke="#1a1a1a" stroke-width="1.0"/>
<line x1="54.40" y1="837.31" x2="59.00" y2="837.31" stroke="#1a1a1a" stroke-width="1.0"/>
<line x1="54.40" y1="831.15" x2="59.00" y2="831.15" stroke="#1a1a1a" stroke-width="1.0"/>
<line x1="54.40" y1="824.98" x2="59.00" y2="824.98" stroke="#1a1a1a" stroke-width="1.0"/>
<line x1="53.60" y1="818.82" x2="59.00" y2="818.82" stroke="#1a1a1a" stroke-width="1.1"/>
<line x1="54.40" y1="812.66" x2="59.00" y2="812.66" stroke="#1a1a1a" stroke-width="1.0"/>
<line x1="54.40" y1="806.49" x2="59.00" y2="806.49" stroke="#1a1a1a" stroke-width="1.0"/>
<line x1="54.40" y1="800.33" x2="59.00" y2="800.33" stroke="#1a1a1a" stroke-width="1.0"/>
<line x1="54.40" y1="794.16" x2="59.00" y2="794.16" stroke="#1a1a1a" stroke-width="1.0"/>
<line x1="53.60" y1="788.00" x2="59.00" y2="788.00" stroke="#1a1a1a" stroke-width="1.1"/>
<line x1="54.40" y1="781.84" x2="59.00" y2="781.84" stroke="#1a1a1a" stroke-width="1.0"/>
<line x1="54.40" y1="775.67" x2="59.00" y2="775.67" stroke="#1a1a1a" stroke-width="1.0"/>
<line x1="54.40" y1="769.51" x2="59.00" y2="769.51" stroke="#1a1a1a" stroke-width="1.0"/>
<line x1="54.40" y1="763.34" x2="59.00" y2="763.34" stroke="#1a1a1a" stroke-width="1.0"/>
<line x1="53.60" y1="757.18" x2="59.00" y2="757.18" stroke="#1a1a1a" stroke-width="1.1"/>
<line x1="54.40" y1="751.02" x2="59.00" y2="751.02" stroke="#1a1a1a" stroke-width="1.0"/>
<line x1="54.40" y1="744.85" x2="59.00" y2="744.85" stroke="#1a1a1a" stroke-width="1.0"/>
<line x1="54.40" y1="738.69" x2="59.00" y2="738.69" stroke="#1a1a1a" stroke-width="1.0"/>
<line x1="54.40" y1="732.52" x2="59.00" y2="732.52" stroke="#1a1a1a" stroke-width="1.0"/>
<line x1="53.60" y1="726.36" x2="59.00" y2="726.36" stroke="#1a1a1a" stroke-width="1.1"/>
<line x1="54.40" y1="720.20" x2="59.00" y2="720.20" stroke="#1a1a1a" stroke-width="1.0"/>
<line x1="54.40" y1="714.03" x2="59.00" y2="714.03" stroke="#1a1a1a" stroke-width="1.0"/>
<line x1="54.40" y1="707.87" x2="59.00" y2="707.87" stroke="#1a1a1a" stroke-width="1.0"/>
<line x1="54.40" y1="701.70" x2="59.00" y2="701.70" stroke="#1a1a1a" stroke-width="1.0"/>
<line x1="53.60" y1="695.54" x2="59.00" y2="695.54" stroke="#1a1a1a" stroke-width="1.1"/>
<line x1="54.40" y1="689.38" x2="59.00" y2="689.38" stroke="#1a1a1a" stroke-width="1.0"/>
<line x1="54.40" y1="683.21" x2="59.00" y2="683.21" stroke="#1a1a1a" stroke-width="1.0"/>
<line x1="54.40" y1="677.05" x2="59.00" y2="677.05" stroke="#1a1a1a" stroke-width="1.0"/>
<line x1="54.40" y1="670.88" x2="59.00" y2="670.88" stroke="#1a1a1a" stroke-width="1.0"/>
<line x1="53.60" y1="664.72" x2="59.00" y2="664.72" stroke="#1a1a1a" stroke-width="1.1"/>
<line x1="54.40" y1="658.56" x2="59.00" y2="658.56" stroke="#1a1a1a" stroke-width="1.0"/>
<line x1="54.40" y1="652.39" x2="59.00" y2="652.39" stroke="#1a1a1a" stroke-width="1.0"/>
<line x1="54.40" y1="646.23" x2="59.00" y2="646.23" stroke="#1a1a1a" stroke-width="1.0"/>
<line x1="54.40" y1="640.06" x2="59.00" y2="640.06" stroke="#1a1a1a" stroke-width="1.0"/>
<line x1="53.60" y1="633.90" x2="59.00" y2="633.90" stroke="#1a1a1a" stroke-width="1.1"/>
<text x="44.49" y="1256.30" font-size="17.19" fill="#222" textLength="7.21" lengthAdjust="spacingAndGlyphs">0</text>
<text x="44.48" y="1225.48" font-size="17.44" fill="#222" textLength="7.27" lengthAdjust="spacingAndGlyphs">5</text>
<text x="37.75" y="1194.66" font-size="17.19" fill="#222" textLength="13.94" lengthAdjust="spacingAndGlyphs">10</text>
<text x="37.74" y="1163.84" font-size="17.44" fill="#222" textLength="13.99" lengthAdjust="spacingAndGlyphs">15</text>
<text x="38.09" y="1133.02" font-size="17.19" fill="#222" textLength="13.59" lengthAdjust="spacingAndGlyphs">20</text>
<text x="38.08" y="1102.20" font-size="17.19" fill="#222" textLength="13.63" lengthAdjust="spacingAndGlyphs">25</text>
<text x="38.24" y="1071.38" font-size="17.19" fill="#222" textLength="13.43" lengthAdjust="spacingAndGlyphs">30</text>
<text x="38.24" y="1040.56" font-size="17.19" fill="#222" textLength="13.47" lengthAdjust="spacingAndGlyphs">35</text>
<text x="38.43" y="1009.74" font-size="17.19" fill="#222" textLength="13.24" lengthAdjust="spacingAndGlyphs">40</text>
<text x="38.43" y="978.92" font-size="17.44" fill="#222" textLength="13.28" lengthAdjust="spacingAndGlyphs">45</text>
<text x="38.22" y="948.10" font-size="17.19" fill="#222" textLength="13.46" lengthAdjust="spacingAndGlyphs">50</text>
<text x="38.21" y="917.28" font-size="17.44" fill="#222" textLength="13.50" lengthAdjust="spacingAndGlyphs">55</text>
<text x="38.08" y="886.46" font-size="17.19" fill="#222" textLength="13.60" lengthAdjust="spacingAndGlyphs">60</text>
<text x="38.08" y="855.64" font-size="17.19" fill="#222" textLength="13.64" lengthAdjust="spacingAndGlyphs">65</text>
<text x="38.07" y="824.82" font-size="17.19" fill="#222" textLength="13.60" lengthAdjust="spacingAndGlyphs">70</text>
<text x="38.07" y="794.00" font-size="17.44" fill="#222" textLength="13.64" lengthAdjust="spacingAndGlyphs">75</text>
<text x="38.17" y="763.18" font-size="17.19" fill="#222" textLength="13.50" lengthAdjust="spacingAndGlyphs">80</text>
<text x="38.17" y="732.36" font-size="17.19" fill="#222" textLength="13.54" lengthAdjust="spacingAndGlyphs">85</text>
<text x="38.13" y="701.54" font-size="17.19" fill="#222" textLength="13.55" lengthAdjust="spacingAndGlyphs">90</text>
<text x="38.13" y="670.72" font-size="17.19" fill="#222" textLength="13.59" lengthAdjust="spacingAndGlyphs">95</text>
<text x="32.32" y="639.90" font-size="17.19" fill="#222" textLength="19.34" lengthAdjust="spacingAndGlyphs">100</text>
<g transform="translate(22.0,996.4) rotate(-90)">
<text x="-1.37" y="0.00" font-size="22.82" fill="#000" font-weight="bold" textLength="167.87" lengthAdjust="spacingAndGlyphs">Relative Intensity</text>
</g>
<line x1="59.00" y1="1250.30" x2="1004.50" y2="1250.30" stroke="#1a1a1a" stroke-width="1.8"/>
<line x1="59.12" y1="1250.30" x2="59.12" y2="1253.50" stroke="#1a1a1a" stroke-width="0.9"/>
<line x1="64.17" y1="1250.30" x2="64.17" y2="1257.30" stroke="#1a1a1a" stroke-width="1.1"/>
<line x1="69.22" y1="1250.30" x2="69.22" y2="1253.50" stroke="#1a1a1a" stroke-width="0.9"/>
<line x1="74.26" y1="1250.30" x2="74.26" y2="1253.50" stroke="#1a1a1a" stroke-width="0.9"/>
<line x1="79.31" y1="1250.30" x2="79.31" y2="1253.50" stroke="#1a1a1a" stroke-width="0.9"/>
<line x1="84.35" y1="1250.30" x2="84.35" y2="1253.50" stroke="#1a1a1a" stroke-width="0.9"/>
<line x1="89.40" y1="1250.30" x2="89.40" y2="1259.80" stroke="#1a1a1a" stroke-width="1.2"/>
<line x1="94.45" y1="1250.30" x2="94.45" y2="1253.50" stroke="#1a1a1a" stroke-width="0.9"/>
<line x1="99.49" y1="1250.30" x2="99.49" y2="1253.50" stroke="#1a1a1a" stroke-width="0.9"/>
<line x1="104.54" y1="1250.30" x2="104.54" y2="1253.50" stroke="#1a1a1a" stroke-width="0.9"/>
<line x1="109.58" y1="1250.30" x2="109.58" y2="1253.50" stroke="#1a1a1a" stroke-width="0.9"/>
<line x1="114.63" y1="1250.30" x2="114.63" y2="1257.30" stroke="#1a1a1a" stroke-width="1.1"/>
<line x1="119.68" y1="1250.30" x2="119.68" y2="1253.50" stroke="#1a1a1a" stroke-width="0.9"/>
<line x1="124.72" y1="1250.30" x2="124.72" y2="1253.50" stroke="#1a1a1a" stroke-width="0.9"/>
<line x1="129.77" y1="1250.30" x2="129.77" y2="1253.50" stroke="#1a1a1a" stroke-width="0.9"/>
<line x1="134.81" y1="1250.30" x2="134.81" y2="1253.50" stroke="#1a1a1a" stroke-width="0.9"/>
<line x1="139.86" y1="1250.30" x2="139.86" y2="1257.30" stroke="#1a1a1a" stroke-width="1.1"/>
<line x1="144.91" y1="1250.30" x2="144.91" y2="1253.50" stroke="#1a1a1a" stroke-width="0.9"/>
<line x1="149.95" y1="1250.30" x2="149.95" y2="1253.50" stroke="#1a1a1a" stroke-width="0.9"/>
<line x1="155.00" y1="1250.30" x2="155.00" y2="1253.50" stroke="#1a1a1a" stroke-width="0.9"/>
<line x1="160.04" y1="1250.30" x2="160.04" y2="1253.50" stroke="#1a1a1a" stroke-width="0.9"/>
<line x1="165.09" y1="1250.30" x2="165.09" y2="1257.30" stroke="#1a1a1a" stroke-width="1.1"/>
<line x1="170.14" y1="1250.30" x2="170.14" y2="1253.50" stroke="#1a1a1a" stroke-width="0.9"/>
<line x1="175.18" y1="1250.30" x2="175.18" y2="1253.50" stroke="#1a1a1a" stroke-width="0.9"/>
<line x1="180.23" y1="1250.30" x2="180.23" y2="1253.50" stroke="#1a1a1a" stroke-width="0.9"/>
<line x1="185.27" y1="1250.30" x2="185.27" y2="1253.50" stroke="#1a1a1a" stroke-width="0.9"/>
<line x1="190.32" y1="1250.30" x2="190.32" y2="1259.80" stroke="#1a1a1a" stroke-width="1.2"/>
<line x1="195.37" y1="1250.30" x2="195.37" y2="1253.50" stroke="#1a1a1a" stroke-width="0.9"/>
<line x1="200.41" y1="1250.30" x2="200.41" y2="1253.50" stroke="#1a1a1a" stroke-width="0.9"/>
<line x1="205.46" y1="1250.30" x2="205.46" y2="1253.50" stroke="#1a1a1a" stroke-width="0.9"/>
<line x1="210.50" y1="1250.30" x2="210.50" y2="1253.50" stroke="#1a1a1a" stroke-width="0.9"/>
<line x1="215.55" y1="1250.30" x2="215.55" y2="1257.30" stroke="#1a1a1a" stroke-width="1.1"/>
<line x1="220.60" y1="1250.30" x2="220.60" y2="1253.50" stroke="#1a1a1a" stroke-width="0.9"/>
<line x1="225.64" y1="1250.30" x2="225.64" y2="1253.50" stroke="#1a1a1a" stroke-width="0.9"/>
<line x1="230.69" y1="1250.30" x2="230.69" y2="1253.50" stroke="#1a1a1a" stroke-width="0.9"/>
<line x1="235.73" y1="1250.30" x2="235.73" y2="1253.50" stroke="#1a1a1a" stroke-width="0.9"/>
<line x1="240.78" y1="1250.30" x2="240.78" y2="1257.30" stroke="#1a1a1a" stroke-width="1.1"/>
<line x1="245.83" y1="1250.30" x2="245.83" y2="1253.50" stroke="#1a1a1a" stroke-width="0.9"/>
<line x1="250.87" y1="1250.30" x2="250.87" y2="1253.50" stroke="#1a1a1a" stroke-width="0.9"/>
<line x1="255.92" y1="1250.30" x2="255.92" y2="1253.50" stroke="#1a1a1a" stroke-width="0.9"/>
<line x1="260.96" y1="1250.30" x2="260.96" y2="1253.50" stroke="#1a1a1a" stroke-width="0.9"/>
<line x1="266.01" y1="1250.30" x2="266.01" y2="1257.30" stroke="#1a1a1a" stroke-width="1.1"/>
<line x1="271.06" y1="1250.30" x2="271.06" y2="1253.50" stroke="#1a1a1a" stroke-width="0.9"/>
<line x1="276.10" y1="1250.30" x2="276.10" y2="1253.50" stroke="#1a1a1a" stroke-width="0.9"/>
<line x1="281.15" y1="1250.30" x2="281.15" y2="1253.50" stroke="#1a1a1a" stroke-width="0.9"/>
<line x1="286.19" y1="1250.30" x2="286.19" y2="1253.50" stroke="#1a1a1a" stroke-width="0.9"/>
<line x1="291.24" y1="1250.30" x2="291.24" y2="1259.80" stroke="#1a1a1a" stroke-width="1.2"/>
<line x1="296.29" y1="1250.30" x2="296.29" y2="1253.50" stroke="#1a1a1a" stroke-width="0.9"/>
<line x1="301.33" y1="1250.30" x2="301.33" y2="1253.50" stroke="#1a1a1a" stroke-width="0.9"/>
<line x1="306.38" y1="1250.30" x2="306.38" y2="1253.50" stroke="#1a1a1a" stroke-width="0.9"/>
<line x1="311.42" y1="1250.30" x2="311.42" y2="1253.50" stroke="#1a1a1a" stroke-width="0.9"/>
<line x1="316.47" y1="1250.30" x2="316.47" y2="1257.30" stroke="#1a1a1a" stroke-width="1.1"/>
<line x1="321.52" y1="1250.30" x2="321.52" y2="1253.50" stroke="#1a1a1a" stroke-width="0.9"/>
<line x1="326.56" y1="1250.30" x2="326.56" y2="1253.50" stroke="#1a1a1a" stroke-width="0.9"/>
<line x1="331.61" y1="1250.30" x2="331.61" y2="1253.50" stroke="#1a1a1a" stroke-width="0.9"/>
<line x1="336.65" y1="1250.30" x2="336.65" y2="1253.50" stroke="#1a1a1a" stroke-width="0.9"/>
<line x1="341.70" y1="1250.30" x2="341.70" y2="1257.30" stroke="#1a1a1a" stroke-width="1.1"/>
<line x1="346.75" y1="1250.30" x2="346.75" y2="1253.50" stroke="#1a1a1a" stroke-width="0.9"/>
<line x1="351.79" y1="1250.30" x2="351.79" y2="1253.50" stroke="#1a1a1a" stroke-width="0.9"/>
<line x1="356.84" y1="1250.30" x2="356.84" y2="1253.50" stroke="#1a1a1a" stroke-width="0.9"/>
<line x1="361.88" y1="1250.30" x2="361.88" y2="1253.50" stroke="#1a1a1a" stroke-width="0.9"/>
<line x1="366.93" y1="1250.30" x2="366.93" y2="1257.30" stroke="#1a1a1a" stroke-width="1.1"/>
<line x1="371.98" y1="1250.30" x2="371.98" y2="1253.50" stroke="#1a1a1a" stroke-width="0.9"/>
<line x1="377.02" y1="1250.30" x2="377.02" y2="1253.50" stroke="#1a1a1a" stroke-width="0.9"/>
<line x1="382.07" y1="1250.30" x2="382.07" y2="1253.50" stroke="#1a1a1a" stroke-width="0.9"/>
<line x1="387.11" y1="1250.30" x2="387.11" y2="1253.50" stroke="#1a1a1a" stroke-width="0.9"/>
<line x1="392.16" y1="1250.30" x2="392.16" y2="1259.80" stroke="#1a1a1a" stroke-width="1.2"/>
<line x1="397.21" y1="1250.30" x2="397.21" y2="1253.50" stroke="#1a1a1a" stroke-width="0.9"/>
<line x1="402.25" y1="1250.30" x2="402.25" y2="1253.50" stroke="#1a1a1a" stroke-width="0.9"/>
<line x1="407.30" y1="1250.30" x2="407.30" y2="1253.50" stroke="#1a1a1a" stroke-width="0.9"/>
<line x1="412.34" y1="1250.30" x2="412.34" y2="1253.50" stroke="#1a1a1a" stroke-width="0.9"/>
<line x1="417.39" y1="1250.30" x2="417.39" y2="1257.30" stroke="#1a1a1a" stroke-width="1.1"/>
<line x1="422.44" y1="1250.30" x2="422.44" y2="1253.50" stroke="#1a1a1a" stroke-width="0.9"/>
<line x1="427.48" y1="1250.30" x2="427.48" y2="1253.50" stroke="#1a1a1a" stroke-width="0.9"/>
<line x1="432.53" y1="1250.30" x2="432.53" y2="1253.50" stroke="#1a1a1a" stroke-width="0.9"/>
<line x1="437.57" y1="1250.30" x2="437.57" y2="1253.50" stroke="#1a1a1a" stroke-width="0.9"/>
<line x1="442.62" y1="1250.30" x2="442.62" y2="1257.30" stroke="#1a1a1a" stroke-width="1.1"/>
<line x1="447.67" y1="1250.30" x2="447.67" y2="1253.50" stroke="#1a1a1a" stroke-width="0.9"/>
<line x1="452.71" y1="1250.30" x2="452.71" y2="1253.50" stroke="#1a1a1a" stroke-width="0.9"/>
<line x1="457.76" y1="1250.30" x2="457.76" y2="1253.50" stroke="#1a1a1a" stroke-width="0.9"/>
<line x1="462.80" y1="1250.30" x2="462.80" y2="1253.50" stroke="#1a1a1a" stroke-width="0.9"/>
<line x1="467.85" y1="1250.30" x2="467.85" y2="1257.30" stroke="#1a1a1a" stroke-width="1.1"/>
<line x1="472.90" y1="1250.30" x2="472.90" y2="1253.50" stroke="#1a1a1a" stroke-width="0.9"/>
<line x1="477.94" y1="1250.30" x2="477.94" y2="1253.50" stroke="#1a1a1a" stroke-width="0.9"/>
<line x1="482.99" y1="1250.30" x2="482.99" y2="1253.50" stroke="#1a1a1a" stroke-width="0.9"/>
<line x1="488.03" y1="1250.30" x2="488.03" y2="1253.50" stroke="#1a1a1a" stroke-width="0.9"/>
<line x1="493.08" y1="1250.30" x2="493.08" y2="1259.80" stroke="#1a1a1a" stroke-width="1.2"/>
<line x1="498.13" y1="1250.30" x2="498.13" y2="1253.50" stroke="#1a1a1a" stroke-width="0.9"/>
<line x1="503.17" y1="1250.30" x2="503.17" y2="1253.50" stroke="#1a1a1a" stroke-width="0.9"/>
<line x1="508.22" y1="1250.30" x2="508.22" y2="1253.50" stroke="#1a1a1a" stroke-width="0.9"/>
<line x1="513.26" y1="1250.30" x2="513.26" y2="1253.50" stroke="#1a1a1a" stroke-width="0.9"/>
<line x1="518.31" y1="1250.30" x2="518.31" y2="1257.30" stroke="#1a1a1a" stroke-width="1.1"/>
<line x1="523.36" y1="1250.30" x2="523.36" y2="1253.50" stroke="#1a1a1a" stroke-width="0.9"/>
<line x1="528.40" y1="1250.30" x2="528.40" y2="1253.50" stroke="#1a1a1a" stroke-width="0.9"/>
<line x1="533.45" y1="1250.30" x2="533.45" y2="1253.50" stroke="#1a1a1a" stroke-width="0.9"/>
<line x1="538.49" y1="1250.30" x2="538.49" y2="1253.50" stroke="#1a1a1a" stroke-width="0.9"/>
<line x1="543.54" y1="1250.30" x2="543.54" y2="1257.30" stroke="#1a1a1a" stroke-width="1.1"/>
<line x1="548.59" y1="1250.30" x2="548.59" y2="1253.50" stroke="#1a1a1a" stroke-width="0.9"/>
<line x1="553.63" y1="1250.30" x2="553.63" y2="1253.50" stroke="#1a1a1a" stroke-width="0.9"/>
<line x1="558.68" y1="1250.30" x2="558.68" y2="1253.50" stroke="#1a1a1a" stroke-width="0.9"/>
<line x1="563.72" y1="1250.30" x2="563.72" y2="1253.50" stroke="#1a1a1a" stroke-width="0.9"/>
<line x1="568.77" y1="1250.30" x2="568.77" y2="1257.30" stroke="#1a1a1a" stroke-width="1.1"/>
<line x1="573.82" y1="1250.30" x2="573.82" y2="1253.50" stroke="#1a1a1a" stroke-width="0.9"/>
<line x1="578.86" y1="1250.30" x2="578.86" y2="1253.50" stroke="#1a1a1a" stroke-width="0.9"/>
<line x1="583.91" y1="1250.30" x2="583.91" y2="1253.50" stroke="#1a1a1a" stroke-width="0.9"/>
<line x1="588.95" y1="1250.30" x2="588.95" y2="1253.50" stroke="#1a1a1a" stroke-width="0.9"/>
<line x1="594.00" y1="1250.30" x2="594.00" y2="1259.80" stroke="#1a1a1a" stroke-width="1.2"/>
<line x1="599.05" y1="1250.30" x2="599.05" y2="1253.50" stroke="#1a1a1a" stroke-width="0.9"/>
<line x1="604.09" y1="1250.30" x2="604.09" y2="1253.50" stroke="#1a1a1a" stroke-width="0.9"/>
<line x1="609.14" y1="1250.30" x2="609.14" y2="1253.50" stroke="#1a1a1a" stroke-width="0.9"/>
<line x1="614.18" y1="1250.30" x2="614.18" y2="1253.50" stroke="#1a1a1a" stroke-width="0.9"/>
<line x1="619.23" y1="1250.30" x2="619.23" y2="1257.30" stroke="#1a1a1a" stroke-width="1.1"/>
<line x1="624.28" y1="1250.30" x2="624.28" y2="1253.50" stroke="#1a1a1a" stroke-width="0.9"/>
<line x1="629.32" y1="1250.30" x2="629.32" y2="1253.50" stroke="#1a1a1a" stroke-width="0.9"/>
<line x1="634.37" y1="1250.30" x2="634.37" y2="1253.50" stroke="#1a1a1a" stroke-width="0.9"/>
<line x1="639.41" y1="1250.30" x2="639.41" y2="1253.50" stroke="#1a1a1a" stroke-width="0.9"/>
<line x1="644.46" y1="1250.30" x2="644.46" y2="1257.30" stroke="#1a1a1a" stroke-width="1.1"/>
<line x1="649.51" y1="1250.30" x2="649.51" y2="1253.50" stroke="#1a1a1a" stroke-width="0.9"/>
<line x1="654.55" y1="1250.30" x2="654.55" y2="1253.50" stroke="#1a1a1a" stroke-width="0.9"/>
<line x1="659.60" y1="1250.30" x2="659.60" y2="1253.50" stroke="#1a1a1a" stroke-width="0.9"/>
<line x1="664.64" y1="1250.30" x2="664.64" y2="1253.50" stroke="#1a1a1a" stroke-width="0.9"/>
<line x1="669.69" y1="1250.30" x2="669.69" y2="1257.30" stroke="#1a1a1a" stroke-width="1.1"/>
<line x1="674.74" y1="1250.30" x2="674.74" y2="1253.50" stroke="#1a1a1a" stroke-width="0.9"/>
<line x1="679.78" y1="1250.30" x2="679.78" y2="1253.50" stroke="#1a1a1a" stroke-width="0.9"/>
<line x1="684.83" y1="1250.30" x2="684.83" y2="1253.50" stroke="#1a1a1a" stroke-width="0.9"/>
<line x1="689.87" y1="1250.30" x2="689.87" y2="1253.50" stroke="#1a1a1a" stroke-width="0.9"/>
<line x1="694.92" y1="1250.30" x2="694.92" y2="1259.80" stroke="#1a1a1a" stroke-width="1.2"/>
<line x1="699.97" y1="1250.30" x2="699.97" y2="1253.50" stroke="#1a1a1a" stroke-width="0.9"/>
<line x1="705.01" y1="1250.30" x2="705.01" y2="1253.50" stroke="#1a1a1a" stroke-width="0.9"/>
<line x1="710.06" y1="1250.30" x2="710.06" y2="1253.50" stroke="#1a1a1a" stroke-width="0.9"/>
<line x1="715.10" y1="1250.30" x2="715.10" y2="1253.50" stroke="#1a1a1a" stroke-width="0.9"/>
<line x1="720.15" y1="1250.30" x2="720.15" y2="1257.30" stroke="#1a1a1a" stroke-width="1.1"/>
<line x1="725.20" y1="1250.30" x2="725.20" y2="1253.50" stroke="#1a1a1a" stroke-width="0.9"/>
<line x1="730.24" y1="1250.30" x2="730.24" y2="1253.50" stroke="#1a1a1a" stroke-width="0.9"/>
<line x1="735.29" y1="1250.30" x2="735.29" y2="1253.50" stroke="#1a1a1a" stroke-width="0.9"/>
<line x1="740.33" y1="1250.30" x2="740.33" y2="1253.50" stroke="#1a1a1a" stroke-width="0.9"/>
<line x1="745.38" y1="1250.30" x2="745.38" y2="1257.30" stroke="#1a1a1a" stroke-width="1.1"/>
<line x1="750.43" y1="1250.30" x2="750.43" y2="1253.50" stroke="#1a1a1a" stroke-width="0.9"/>
<line x1="755.47" y1="1250.30" x2="755.47" y2="1253.50" stroke="#1a1a1a" stroke-width="0.9"/>
<line x1="760.52" y1="1250.30" x2="760.52" y2="1253.50" stroke="#1a1a1a" stroke-width="0.9"/>
<line x1="765.56" y1="1250.30" x2="765.56" y2="1253.50" stroke="#1a1a1a" stroke-width="0.9"/>
<line x1="770.61" y1="1250.30" x2="770.61" y2="1257.30" stroke="#1a1a1a" stroke-width="1.1"/>
<line x1="775.66" y1="1250.30" x2="775.66" y2="1253.50" stroke="#1a1a1a" stroke-width="0.9"/>
<line x1="780.70" y1="1250.30" x2="780.70" y2="1253.50" stroke="#1a1a1a" stroke-width="0.9"/>
<line x1="785.75" y1="1250.30" x2="785.75" y2="1253.50" stroke="#1a1a1a" stroke-width="0.9"/>
<line x1="790.79" y1="1250.30" x2="790.79" y2="1253.50" stroke="#1a1a1a" stroke-width="0.9"/>
<line x1="795.84" y1="1250.30" x2="795.84" y2="1259.80" stroke="#1a1a1a" stroke-width="1.2"/>
<line x1="800.89" y1="1250.30" x2="800.89" y2="1253.50" stroke="#1a1a1a" stroke-width="0.9"/>
<line x1="805.93" y1="1250.30" x2="805.93" y2="1253.50" stroke="#1a1a1a" stroke-width="0.9"/>
<line x1="810.98" y1="1250.30" x2="810.98" y2="1253.50" stroke="#1a1a1a" stroke-width="0.9"/>
<line x1="816.02" y1="1250.30" x2="816.02" y2="1253.50" stroke="#1a1a1a" stroke-width="0.9"/>
<line x1="821.07" y1="1250.30" x2="821.07" y2="1257.30" stroke="#1a1a1a" stroke-width="1.1"/>
<line x1="826.12" y1="1250.30" x2="826.12" y2="1253.50" stroke="#1a1a1a" stroke-width="0.9"/>
<line x1="831.16" y1="1250.30" x2="831.16" y2="1253.50" stroke="#1a1a1a" stroke-width="0.9"/>
<line x1="836.21" y1="1250.30" x2="836.21" y2="1253.50" stroke="#1a1a1a" stroke-width="0.9"/>
<line x1="841.25" y1="1250.30" x2="841.25" y2="1253.50" stroke="#1a1a1a" stroke-width="0.9"/>
<line x1="846.30" y1="1250.30" x2="846.30" y2="1257.30" stroke="#1a1a1a" stroke-width="1.1"/>
<line x1="851.35" y1="1250.30" x2="851.35" y2="1253.50" stroke="#1a1a1a" stroke-width="0.9"/>
<line x1="856.39" y1="1250.30" x2="856.39" y2="1253.50" stroke="#1a1a1a" stroke-width="0.9"/>
<line x1="861.44" y1="1250.30" x2="861.44" y2="1253.50" stroke="#1a1a1a" stroke-width="0.9"/>
<line x1="866.48" y1="1250.30" x2="866.48" y2="1253.50" stroke="#1a1a1a" stroke-width="0.9"/>
<line x1="871.53" y1="1250.30" x2="871.53" y2="1257.30" stroke="#1a1a1a" stroke-width="1.1"/>
<line x1="876.58" y1="1250.30" x2="876.58" y2="1253.50" stroke="#1a1a1a" stroke-width="0.9"/>
<line x1="881.62" y1="1250.30" x2="881.62" y2="1253.50" stroke="#1a1a1a" stroke-width="0.9"/>
<line x1="886.67" y1="1250.30" x2="886.67" y2="1253.50" stroke="#1a1a1a" stroke-width="0.9"/>
<line x1="891.71" y1="1250.30" x2="891.71" y2="1253.50" stroke="#1a1a1a" stroke-width="0.9"/>
<line x1="896.76" y1="1250.30" x2="896.76" y2="1259.80" stroke="#1a1a1a" stroke-width="1.2"/>
<line x1="901.81" y1="1250.30" x2="901.81" y2="1253.50" stroke="#1a1a1a" stroke-width="0.9"/>
<line x1="906.85" y1="1250.30" x2="906.85" y2="1253.50" stroke="#1a1a1a" stroke-width="0.9"/>
<line x1="911.90" y1="1250.30" x2="911.90" y2="1253.50" stroke="#1a1a1a" stroke-width="0.9"/>
<line x1="916.94" y1="1250.30" x2="916.94" y2="1253.50" stroke="#1a1a1a" stroke-width="0.9"/>
<line x1="921.99" y1="1250.30" x2="921.99" y2="1257.30" stroke="#1a1a1a" stroke-width="1.1"/>
<line x1="927.04" y1="1250.30" x2="927.04" y2="1253.50" stroke="#1a1a1a" stroke-width="0.9"/>
<line x1="932.08" y1="1250.30" x2="932.08" y2="1253.50" stroke="#1a1a1a" stroke-width="0.9"/>
<line x1="937.13" y1="1250.30" x2="937.13" y2="1253.50" stroke="#1a1a1a" stroke-width="0.9"/>
<line x1="942.17" y1="1250.30" x2="942.17" y2="1253.50" stroke="#1a1a1a" stroke-width="0.9"/>
<line x1="947.22" y1="1250.30" x2="947.22" y2="1257.30" stroke="#1a1a1a" stroke-width="1.1"/>
<line x1="952.27" y1="1250.30" x2="952.27" y2="1253.50" stroke="#1a1a1a" stroke-width="0.9"/>
<line x1="957.31" y1="1250.30" x2="957.31" y2="1253.50" stroke="#1a1a1a" stroke-width="0.9"/>
<line x1="962.36" y1="1250.30" x2="962.36" y2="1253.50" stroke="#1a1a1a" stroke-width="0.9"/>
<line x1="967.40" y1="1250.30" x2="967.40" y2="1253.50" stroke="#1a1a1a" stroke-width="0.9"/>
<line x1="972.45" y1="1250.30" x2="972.45" y2="1257.30" stroke="#1a1a1a" stroke-width="1.1"/>
<line x1="977.50" y1="1250.30" x2="977.50" y2="1253.50" stroke="#1a1a1a" stroke-width="0.9"/>
<line x1="982.54" y1="1250.30" x2="982.54" y2="1253.50" stroke="#1a1a1a" stroke-width="0.9"/>
<line x1="987.59" y1="1250.30" x2="987.59" y2="1253.50" stroke="#1a1a1a" stroke-width="0.9"/>
<line x1="992.63" y1="1250.30" x2="992.63" y2="1253.50" stroke="#1a1a1a" stroke-width="0.9"/>
<line x1="997.68" y1="1250.30" x2="997.68" y2="1259.80" stroke="#1a1a1a" stroke-width="1.2"/>
<text x="79.08" y="1276.40" font-size="15.47" fill="#222" textLength="20.50" lengthAdjust="spacingAndGlyphs">200</text>
<text x="180.34" y="1276.40" font-size="15.47" fill="#222" textLength="20.15" lengthAdjust="spacingAndGlyphs">400</text>
<text x="280.92" y="1276.40" font-size="15.47" fill="#222" textLength="20.50" lengthAdjust="spacingAndGlyphs">600</text>
<text x="381.93" y="1276.40" font-size="15.47" fill="#222" textLength="20.41" lengthAdjust="spacingAndGlyphs">800</text>
<text x="479.89" y="1276.40" font-size="15.47" fill="#222" textLength="25.94" lengthAdjust="spacingAndGlyphs">1000</text>
<text x="580.81" y="1276.40" font-size="15.47" fill="#222" textLength="25.94" lengthAdjust="spacingAndGlyphs">1200</text>
<text x="681.73" y="1276.40" font-size="15.47" fill="#222" textLength="25.94" lengthAdjust="spacingAndGlyphs">1400</text>
<text x="782.65" y="1276.40" font-size="15.47" fill="#222" textLength="25.94" lengthAdjust="spacingAndGlyphs">1600</text>
<text x="883.57" y="1276.40" font-size="15.47" fill="#222" textLength="25.94" lengthAdjust="spacingAndGlyphs">1800</text>
<text x="984.80" y="1276.40" font-size="15.47" fill="#222" textLength="25.63" lengthAdjust="spacingAndGlyphs">2000</text>
<text x="522.22" y="1297.50" font-size="14.90" fill="#222" textLength="18.97" lengthAdjust="spacingAndGlyphs">m/z</text>
<path d="M61.47 1250.30V1243.67M66.69 1250.30V1245.98M81.54 1250.30V1248.35M103.57 1250.30V1242.47M104.44 1250.30V1248.25M108.49 1250.30V1248.77M112.89 1250.30V1235.02M143.47 1250.30V1247.29M145.28 1250.30V1243.16M150.99 1250.30V1247.21M171.68 1250.30V1243.10M175.79 1250.30V1239.80M187.95 1250.30V1245.52M191.97 1250.30V1242.87M193.72 1250.30V1241.95M194.44 1250.30V1247.19M201.73 1250.30V1234.30M209.55 1250.30V1247.81M210.66 1250.30V1248.38M218.40 1250.30V1243.03M230.58 1250.30V1245.88M238.78 1250.30V1248.25M243.67 1250.30V1237.59M248.92 1250.30V1248.12M270.14 1250.30V1247.66M280.98 1250.30V1242.77M291.97 1250.30V1245.96M313.23 1250.30V1244.98M314.82 1250.30V1247.85M319.57 1250.30V1248.19M320.89 1250.30V1247.93M337.67 1250.30V1241.77M344.78 1250.30V1247.69M357.91 1250.30V1247.53M371.80 1250.30V1245.10M390.71 1250.30V1244.30M406.78 1250.30V1248.10M415.54 1250.30V1242.22M437.73 1250.30V1242.21M438.77 1250.30V1245.21M439.65 1250.30V1243.76M468.98 1250.30V1241.90M469.88 1250.30V1247.09M474.74 1250.30V1245.10M489.57 1250.30V1245.67M492.25 1250.30V1245.75M505.09 1250.30V1247.04M518.71 1250.30V1243.57M531.50 1250.30V1248.74M549.17 1250.30V1246.99M567.26 1250.30V1248.65M577.40 1250.30V1240.23M587.60 1250.30V1240.26M601.85 1250.30V1240.70M605.95 1250.30V1238.00M609.97 1250.30V1236.19M613.22 1250.30V1244.17M618.60 1250.30V1248.15M633.81 1250.30V1246.20M645.39 1250.30V1245.39M647.69 1250.30V1243.90M670.72 1250.30V1247.40M675.92 1250.30V1247.48M678.01 1250.30V1248.40M681.03 1250.30V1247.26M690.39 1250.30V1239.10M698.29 1250.30V1241.57M710.85 1250.30V1246.87M732.90 1250.30V1243.53M742.69 1250.30V1247.66M778.31 1250.30V1245.58M799.24 1250.30V1246.34M822.26 1250.30V1248.11M836.37 1250.30V1246.29M849.06 1250.30V1243.76M858.17 1250.30V1243.97M862.11 1250.30V1248.49M895.24 1250.30V1248.54M958.11 1250.30V1247.67M969.44 1250.30V1247.31M986.37 1250.30V1247.97" stroke="#555" stroke-width="0.9" fill="none"/>
<path d="M60.00 1250.30V1247.83M61.07 1250.30V1247.67M62.99 1250.30V1249.36M64.28 1250.30V1244.58M66.29 1250.30V1248.00M67.14 1250.30V1248.32M68.58 1250.30V1247.35M69.84 1250.30V1249.01M72.74 1250.30V1249.14M76.85 1250.30V1249.18M78.92 1250.30V1247.42M79.79 1250.30V1248.85M81.14 1250.30V1249.10M82.54 1250.30V1247.84M84.78 1250.30V1249.17M88.07 1250.30V1245.75M89.58 1250.30V1246.41M90.48 1250.30V1249.36M92.29 1250.30V1244.80M94.25 1250.30V1245.27M95.10 1250.30V1246.67M98.40 1250.30V1249.39M101.29 1250.30V1249.25M101.96 1250.30V1247.84M103.17 1250.30V1245.19M104.04 1250.30V1249.38M105.21 1250.30V1248.74M108.09 1250.30V1249.30M111.16 1250.30V1247.38M112.49 1250.30V1244.41M121.49 1250.30V1247.45M126.27 1250.30V1246.70M129.71 1250.30V1246.96M131.78 1250.30V1248.95M132.58 1250.30V1245.30M135.35 1250.30V1246.15M136.83 1250.30V1247.70M137.57 1250.30V1245.90M139.75 1250.30V1248.38M140.57 1250.30V1247.44M143.07 1250.30V1249.37M144.88 1250.30V1246.27M145.93 1250.30V1245.96M146.67 1250.30V1247.42M150.59 1250.30V1248.27M152.45 1250.30V1248.80M154.92 1250.30V1246.26M156.93 1250.30V1248.37M158.44 1250.30V1247.78M164.44 1250.30V1245.35M166.02 1250.30V1246.27M168.48 1250.30V1248.43M169.85 1250.30V1249.40M171.28 1250.30V1246.30M175.39 1250.30V1244.90M176.51 1250.30V1246.74M178.80 1250.30V1248.67M180.30 1250.30V1245.78M181.42 1250.30V1249.20M184.27 1250.30V1246.19M186.02 1250.30V1248.54M187.55 1250.30V1248.28M190.04 1250.30V1249.22M191.57 1250.30V1246.36M193.32 1250.30V1247.48M194.04 1250.30V1249.09M195.07 1250.30V1248.55M195.83 1250.30V1247.41M201.33 1250.30V1245.14M202.82 1250.30V1249.11M203.68 1250.30V1245.94M205.07 1250.30V1248.59M205.69 1250.30V1247.07M207.26 1250.30V1248.12M209.15 1250.30V1249.34M210.26 1250.30V1249.29M213.23 1250.30V1249.38M215.22 1250.30V1248.07M216.42 1250.30V1246.94M217.20 1250.30V1246.67M218.00 1250.30V1248.09M221.86 1250.30V1248.13M223.27 1250.30V1245.25M230.18 1250.30V1248.30M233.51 1250.30V1247.22M234.65 1250.30V1244.40M237.53 1250.30V1247.51M238.38 1250.30V1249.39M239.08 1250.30V1245.30M243.27 1250.30V1246.52M244.03 1250.30V1249.26M245.24 1250.30V1244.93M246.37 1250.30V1248.73M247.63 1250.30V1249.00M248.52 1250.30V1249.10M249.88 1250.30V1245.37M252.07 1250.30V1245.30M253.99 1250.30V1245.01M258.25 1250.30V1249.39M258.97 1250.30V1247.17M259.84 1250.30V1248.52M263.36 1250.30V1245.42M264.58 1250.30V1249.03M265.75 1250.30V1247.40M266.54 1250.30V1244.60M268.02 1250.30V1249.38M269.74 1250.30V1249.37M271.87 1250.30V1249.18M273.89 1250.30V1246.13M275.25 1250.30V1248.50M276.66 1250.30V1247.26M277.59 1250.30V1246.62M278.62 1250.30V1249.35M279.30 1250.30V1247.81M280.58 1250.30V1246.39M281.84 1250.30V1248.94M283.14 1250.30V1249.30M284.46 1250.30V1249.33M289.12 1250.30V1248.60M290.61 1250.30V1248.75M291.57 1250.30V1248.65M292.97 1250.30V1245.90M295.23 1250.30V1249.40M296.37 1250.30V1244.73M297.78 1250.30V1247.90M298.46 1250.30V1246.68M301.14 1250.30V1249.16M303.25 1250.30V1244.71M304.35 1250.30V1246.80M305.86 1250.30V1245.99M312.83 1250.30V1248.52M314.42 1250.30V1249.26M315.98 1250.30V1249.33M317.35 1250.30V1249.38M319.17 1250.30V1249.23M320.49 1250.30V1249.15M322.17 1250.30V1246.06M324.55 1250.30V1247.90M325.63 1250.30V1249.39M327.03 1250.30V1248.01M329.16 1250.30V1249.40M332.21 1250.30V1248.88M333.68 1250.30V1247.37M334.54 1250.30V1249.29M337.27 1250.30V1246.83M342.95 1250.30V1248.43M344.38 1250.30V1249.06M347.11 1250.30V1248.65M349.15 1250.30V1247.64M350.32 1250.30V1249.40M351.72 1250.30V1248.07M352.69 1250.30V1249.09M354.54 1250.30V1247.53M356.09 1250.30V1247.57M357.51 1250.30V1249.33M358.82 1250.30V1248.83M360.02 1250.30V1249.22M360.74 1250.30V1249.38M361.77 1250.30V1247.93M363.19 1250.30V1249.02M363.80 1250.30V1247.69M366.40 1250.30V1249.02M367.65 1250.30V1248.90M370.25 1250.30V1247.34M371.40 1250.30V1248.52M372.99 1250.30V1247.61M375.01 1250.30V1249.38M378.08 1250.30V1249.35M379.96 1250.30V1248.30M385.34 1250.30V1246.98M386.48 1250.30V1249.40M389.33 1250.30V1247.82M390.31 1250.30V1247.14M391.38 1250.30V1248.88M392.15 1250.30V1249.16M395.67 1250.30V1248.81M398.31 1250.30V1245.94M399.76 1250.30V1248.74M401.27 1250.30V1248.44M402.77 1250.30V1249.39M406.38 1250.30V1249.38M407.48 1250.30V1249.39M408.61 1250.30V1249.07M409.44 1250.30V1246.49M415.14 1250.30V1246.23M416.04 1250.30V1249.39M417.45 1250.30V1248.96M418.10 1250.30V1246.57M420.78 1250.30V1249.25M424.05 1250.30V1249.30M425.64 1250.30V1248.00M427.12 1250.30V1249.36M431.78 1250.30V1249.38M433.48 1250.30V1249.21M434.87 1250.30V1247.87M436.06 1250.30V1249.08M437.33 1250.30V1247.97M438.37 1250.30V1248.41M439.25 1250.30V1247.14M440.61 1250.30V1249.13M442.98 1250.30V1248.65M445.07 1250.30V1248.32M447.41 1250.30V1248.51M448.70 1250.30V1246.23M450.08 1250.30V1248.11M453.34 1250.30V1249.23M454.44 1250.30V1248.15M456.39 1250.30V1249.40M457.42 1250.30V1249.16M459.27 1250.30V1247.21M460.01 1250.30V1249.39M461.23 1250.30V1249.15M462.69 1250.30V1249.31M464.79 1250.30V1248.94M466.36 1250.30V1248.56M467.94 1250.30V1248.67M468.58 1250.30V1246.63M469.48 1250.30V1249.38M471.67 1250.30V1248.33M473.70 1250.30V1246.03M474.34 1250.30V1247.92M477.89 1250.30V1246.91M479.27 1250.30V1248.98M480.42 1250.30V1249.25M481.48 1250.30V1248.70M483.57 1250.30V1249.38M484.53 1250.30V1249.40M485.39 1250.30V1246.41M486.26 1250.30V1249.32M489.17 1250.30V1248.88M491.21 1250.30V1248.86M491.85 1250.30V1248.16M492.87 1250.30V1249.34M495.00 1250.30V1249.25M496.31 1250.30V1248.88M497.14 1250.30V1248.98M497.78 1250.30V1248.01M501.61 1250.30V1247.74M504.69 1250.30V1248.86M505.61 1250.30V1249.13M506.62 1250.30V1249.30M507.46 1250.30V1248.99M508.21 1250.30V1247.68M509.51 1250.30V1248.86M510.17 1250.30V1249.39M511.36 1250.30V1249.03M511.98 1250.30V1246.62M513.63 1250.30V1248.08M514.59 1250.30V1246.29M516.83 1250.30V1249.13M518.31 1250.30V1246.50M519.42 1250.30V1248.95M520.17 1250.30V1249.22M521.00 1250.30V1248.36M521.84 1250.30V1247.92M523.06 1250.30V1246.98M524.00 1250.30V1246.65M528.02 1250.30V1248.05M529.19 1250.30V1249.11M530.32 1250.30V1249.18M531.10 1250.30V1249.34M532.52 1250.30V1247.31M534.75 1250.30V1249.17M536.14 1250.30V1247.61M537.46 1250.30V1249.01M540.07 1250.30V1247.65M542.23 1250.30V1247.83M543.01 1250.30V1248.20M544.58 1250.30V1247.75M545.81 1250.30V1246.35M547.18 1250.30V1249.11M548.77 1250.30V1249.02M549.86 1250.30V1249.07M551.30 1250.30V1248.86M555.54 1250.30V1249.36M556.39 1250.30V1249.35M557.01 1250.30V1249.33M557.89 1250.30V1248.59M558.75 1250.30V1249.39M559.66 1250.30V1249.28M561.25 1250.30V1246.77M563.26 1250.30V1248.34M564.49 1250.30V1246.31M566.08 1250.30V1246.97M566.86 1250.30V1249.30M568.73 1250.30V1249.40M570.29 1250.30V1248.43M575.69 1250.30V1246.24M577.00 1250.30V1246.50M577.82 1250.30V1248.92M579.23 1250.30V1247.98M581.03 1250.30V1249.01M583.77 1250.30V1249.33M584.80 1250.30V1248.52M585.72 1250.30V1246.23M587.20 1250.30V1247.41M589.05 1250.30V1247.66M591.47 1250.30V1249.28M593.06 1250.30V1247.99M594.31 1250.30V1248.07M596.87 1250.30V1249.35M598.16 1250.30V1247.85M599.14 1250.30V1248.14M600.26 1250.30V1248.02M601.45 1250.30V1246.36M605.55 1250.30V1246.77M606.64 1250.30V1246.93M609.57 1250.30V1245.94M610.88 1250.30V1247.12M612.82 1250.30V1247.95M614.20 1250.30V1249.20M618.20 1250.30V1248.93M620.58 1250.30V1249.28M623.54 1250.30V1245.98M626.09 1250.30V1247.84M626.71 1250.30V1249.05M628.88 1250.30V1249.34M629.95 1250.30V1249.35M631.16 1250.30V1249.27M633.41 1250.30V1248.82M635.44 1250.30V1248.50M637.22 1250.30V1249.12M639.39 1250.30V1246.35M641.78 1250.30V1248.79M644.99 1250.30V1248.81M645.84 1250.30V1248.99M647.29 1250.30V1248.36M647.98 1250.30V1248.91M649.24 1250.30V1246.58M650.94 1250.30V1248.64M655.37 1250.30V1247.00M657.34 1250.30V1248.84M658.97 1250.30V1249.33M660.31 1250.30V1249.30M664.43 1250.30V1249.40M666.60 1250.30V1248.39M668.22 1250.30V1249.35M668.95 1250.30V1248.48M670.32 1250.30V1248.80M671.38 1250.30V1248.66M673.96 1250.30V1248.09M675.52 1250.30V1249.40M677.61 1250.30V1249.40M680.63 1250.30V1248.79M682.27 1250.30V1247.90M683.81 1250.30V1248.52M684.81 1250.30V1247.49M685.78 1250.30V1248.60M686.81 1250.30V1249.39M687.47 1250.30V1248.35M688.29 1250.30V1248.92M689.38 1250.30V1247.43M689.99 1250.30V1246.13M691.55 1250.30V1248.15M693.64 1250.30V1248.53M694.99 1250.30V1249.37M697.89 1250.30V1247.78M699.32 1250.30V1249.05M704.40 1250.30V1247.65M705.58 1250.30V1248.31M708.38 1250.30V1248.18M709.73 1250.30V1249.00M710.45 1250.30V1248.32M713.03 1250.30V1249.37M714.59 1250.30V1247.70M715.60 1250.30V1247.99M717.07 1250.30V1249.40M719.58 1250.30V1248.45M720.96 1250.30V1248.30M722.14 1250.30V1249.16M723.09 1250.30V1248.86M725.23 1250.30V1248.94M726.99 1250.30V1248.33M727.84 1250.30V1248.04M729.16 1250.30V1248.64M731.79 1250.30V1249.29M732.50 1250.30V1247.96M733.66 1250.30V1249.18M736.62 1250.30V1248.17M737.42 1250.30V1248.66M738.78 1250.30V1247.78M740.07 1250.30V1247.59M742.29 1250.30V1249.28M743.14 1250.30V1249.27M744.23 1250.30V1249.24M752.21 1250.30V1247.65M753.60 1250.30V1248.99M756.03 1250.30V1249.16M757.58 1250.30V1247.63M758.96 1250.30V1249.37M761.20 1250.30V1248.75M763.87 1250.30V1249.39M764.65 1250.30V1249.15M766.46 1250.30V1249.39M768.78 1250.30V1249.22M774.72 1250.30V1248.92M777.91 1250.30V1247.56M780.00 1250.30V1248.02M781.12 1250.30V1248.25M781.72 1250.30V1248.14M783.15 1250.30V1249.17M784.63 1250.30V1248.85M785.91 1250.30V1249.29M786.68 1250.30V1249.27M788.07 1250.30V1249.29M788.93 1250.30V1249.27M789.71 1250.30V1249.22M792.43 1250.30V1249.39M793.27 1250.30V1249.06M794.24 1250.30V1247.74M795.23 1250.30V1248.15M797.15 1250.30V1248.70M798.84 1250.30V1249.11M799.58 1250.30V1247.86M801.11 1250.30V1247.67M803.22 1250.30V1248.48M805.60 1250.30V1249.37M807.14 1250.30V1249.33M807.79 1250.30V1249.33M808.91 1250.30V1248.76M810.72 1250.30V1249.39M813.19 1250.30V1249.18M815.65 1250.30V1248.67M816.72 1250.30V1247.62M818.34 1250.30V1249.35M819.68 1250.30V1249.40M821.08 1250.30V1248.55M821.86 1250.30V1249.21M823.08 1250.30V1248.95M824.00 1250.30V1247.84M825.02 1250.30V1248.98M826.53 1250.30V1247.65M828.01 1250.30V1248.88M828.90 1250.30V1248.35M830.08 1250.30V1247.60M831.73 1250.30V1248.91M832.84 1250.30V1249.40M833.71 1250.30V1248.60M834.40 1250.30V1248.94M835.97 1250.30V1249.01M838.20 1250.30V1247.77M839.23 1250.30V1247.61M840.31 1250.30V1247.98M841.25 1250.30V1249.31M848.66 1250.30V1247.71M855.19 1250.30V1249.33M857.77 1250.30V1248.34M860.62 1250.30V1248.73M861.71 1250.30V1249.31M863.10 1250.30V1249.08M864.40 1250.30V1249.33M868.91 1250.30V1248.72M871.41 1250.30V1249.20M873.18 1250.30V1248.98M873.98 1250.30V1249.36M874.65 1250.30V1249.31M877.21 1250.30V1249.36M878.77 1250.30V1249.26M880.13 1250.30V1249.09M881.64 1250.30V1249.18M882.76 1250.30V1248.96M883.51 1250.30V1249.34M884.84 1250.30V1248.96M886.15 1250.30V1249.26M888.71 1250.30V1249.40M890.01 1250.30V1249.39M894.84 1250.30V1249.23M895.83 1250.30V1249.39M897.28 1250.30V1249.14M898.86 1250.30V1249.33M900.33 1250.30V1249.27M901.82 1250.30V1248.93M902.87 1250.30V1249.26M904.79 1250.30V1248.95M906.92 1250.30V1248.80M908.31 1250.30V1249.06M912.02 1250.30V1249.08M913.39 1250.30V1248.68M914.70 1250.30V1249.27M916.38 1250.30V1248.66M917.90 1250.30V1249.15M919.33 1250.30V1249.14M921.87 1250.30V1249.03M926.23 1250.30V1249.16M927.33 1250.30V1249.11M928.59 1250.30V1248.91M930.39 1250.30V1248.66M931.95 1250.30V1248.97M935.12 1250.30V1249.30M935.74 1250.30V1249.08M938.19 1250.30V1249.38M940.21 1250.30V1249.22M942.30 1250.30V1249.03M944.05 1250.30V1249.33M945.47 1250.30V1249.12M946.29 1250.30V1249.11M947.85 1250.30V1249.25M950.56 1250.30V1249.31M952.85 1250.30V1249.30M954.17 1250.30V1249.04M955.61 1250.30V1249.14M956.25 1250.30V1248.67M957.71 1250.30V1249.39M958.49 1250.30V1249.07M959.41 1250.30V1249.34M960.37 1250.30V1249.35M961.23 1250.30V1249.33M962.10 1250.30V1248.86M963.21 1250.30V1248.81M965.73 1250.30V1249.27M966.83 1250.30V1249.19M969.04 1250.30V1249.33M970.26 1250.30V1249.37M974.04 1250.30V1249.17M977.07 1250.30V1249.35M978.21 1250.30V1249.33M980.62 1250.30V1249.29M981.33 1250.30V1248.74M982.69 1250.30V1249.15M985.03 1250.30V1249.25M985.97 1250.30V1249.10M987.23 1250.30V1249.40M989.32 1250.30V1249.10M992.09 1250.30V1249.40M992.83 1250.30V1249.40M994.83 1250.30V1248.89M997.60 1250.30V1249.16M999.02 1250.30V1249.02" stroke="#111" stroke-width="1.0" fill="none"/>
<path d="M59.90 1250.30V1226.60M61.00 1250.30V1226.60M68.80 1250.30V1209.00M74.80 1250.30V1171.10M77.10 1250.30V1226.30M80.20 1250.30V1244.50M82.60 1250.30V1222.70M89.10 1250.30V1216.40M95.40 1250.30V1228.10M104.00 1250.30V1124.40M109.40 1250.30V1047.30M119.20 1250.30V1071.60M130.70 1250.30V1230.90M138.50 1250.30V1236.00M140.10 1250.30V1219.50M145.50 1250.30V1195.60M154.10 1250.30V1188.80M157.30 1250.30V1236.00M159.50 1250.30V1063.70M161.00 1250.30V1232.00M166.90 1250.30V1220.30M168.90 1250.30V1147.30M176.80 1250.30V1187.50M181.00 1250.30V1238.30M188.50 1250.30V1223.40M194.80 1250.30V1222.20M197.90 1250.30V1222.20M201.00 1250.30V1235.60M203.30 1250.30V1234.40M208.80 1250.30V1239.40M212.00 1250.30V1217.50M215.40 1250.30V1241.00M217.10 1250.30V1217.70M221.10 1250.30V1230.60M225.60 1250.30V1199.80M229.90 1250.30V1202.00M234.00 1250.30V1224.80M238.70 1250.30V1240.00M245.70 1250.30V1234.10M251.60 1250.30V1230.60M255.10 1250.30V1230.60M261.40 1250.30V1217.70M265.60 1250.30V1225.90M274.30 1250.30V1195.90M282.40 1250.30V1178.60M290.20 1250.30V1237.60M296.10 1250.30V1192.00M303.00 1250.30V1238.00M310.00 1250.30V1236.00M316.70 1250.30V1235.30M325.20 1250.30V1110.80M331.20 1250.30V1222.40M331.90 1250.30V1222.50M337.00 1250.30V1246.00M340.60 1250.30V1185.60M348.80 1250.30V1246.00M353.10 1250.30V1235.30M356.30 1250.30V1238.80M367.50 1250.30V1246.00M377.70 1250.30V1240.80M382.30 1250.30V1214.70M385.50 1250.30V1237.70M389.70 1250.30V1230.30M393.90 1250.30V1164.20M395.60 1250.30V1228.30M398.00 1250.30V1236.60M406.60 1250.30V1238.40M410.90 1250.30V1212.20M414.40 1250.30V1241.60M420.60 1250.30V1246.00M433.40 1250.30V1240.80M436.30 1250.30V1241.00M445.30 1250.30V1186.80M452.70 1250.30V1240.80M457.80 1250.30V1234.50M474.50 1250.30V1240.80M487.60 1250.30V1233.00M492.10 1250.30V1237.50M496.80 1250.30V1039.50M500.80 1250.30V1164.80M545.50 1250.30V1227.00M554.20 1250.30V1187.80M573.00 1250.30V1235.10M581.20 1250.30V1230.50M594.80 1250.30V1201.20M603.70 1250.30V635.20M615.10 1250.30V1244.50M630.40 1250.30V1241.70M638.60 1250.30V1237.50M643.70 1250.30V1241.00M652.60 1250.30V1172.50M660.90 1250.30V801.00M666.80 1250.30V1206.70M709.70 1250.30V1240.00M718.30 1250.30V1118.50M724.10 1250.30V1240.00M744.50 1250.30V1245.40M754.20 1250.30V1245.40M757.80 1250.30V1244.50M767.10 1250.30V1214.30M776.10 1250.30V1006.40M781.50 1250.30V1226.10M824.00 1250.30V1236.80M833.00 1250.30V1145.50M838.60 1250.30V1226.10M883.30 1250.30V1246.70M927.60 1250.30V1246.70" stroke="#4a4a4a" stroke-width="1.1" fill="none"/>
<path d="M59.90 1250.30V1229.70M68.80 1250.30V1240.00M74.80 1250.30V1239.80M77.10 1250.30V1240.00M82.60 1250.30V1242.00M89.10 1250.30V1244.00M95.40 1250.30V1240.30M104.00 1250.30V1242.00M109.40 1250.30V1228.90M119.20 1250.30V1230.00M130.70 1250.30V1239.80M138.50 1250.30V1244.50M145.50 1250.30V1244.00M154.10 1250.30V1225.00M157.30 1250.30V1240.00M159.50 1250.30V1205.90M161.00 1250.30V1232.00M166.90 1250.30V1240.00M168.90 1250.30V1241.40M176.80 1250.30V1245.00M188.50 1250.30V1234.40M194.80 1250.30V1244.00M203.30 1250.30V1244.00M212.00 1250.30V1242.00M217.10 1250.30V1244.00M221.10 1250.30V1242.00M225.60 1250.30V1226.50M229.90 1250.30V1244.00M234.00 1250.30V1240.00M245.70 1250.30V1244.00M255.10 1250.30V1244.00M261.40 1250.30V1240.00M265.60 1250.30V1242.00M274.30 1250.30V1238.00M282.40 1250.30V1201.30M296.10 1250.30V1204.00M310.00 1250.30V1244.00M316.70 1250.30V1240.00M325.20 1250.30V1209.50M331.20 1250.30V1244.00M340.60 1250.30V1223.60M353.10 1250.30V1242.00M382.30 1250.30V1216.00M389.70 1250.30V1244.00M393.90 1250.30V1209.50M395.60 1250.30V1228.30M406.60 1250.30V1244.00M410.90 1250.30V1234.50M445.30 1250.30V1225.20M457.80 1250.30V1244.00M487.60 1250.30V1236.00M496.80 1250.30V1218.70M500.80 1250.30V1240.00M545.50 1250.30V1236.00M554.20 1250.30V1210.50M581.20 1250.30V1244.00M594.80 1250.30V1210.00M603.70 1250.30V1132.00M638.60 1250.30V1244.00M652.60 1250.30V1189.40M660.90 1250.30V826.60M666.80 1250.30V1212.00M709.70 1250.30V1244.00M718.30 1250.30V1144.00M724.10 1250.30V1244.00M767.10 1250.30V1218.00M776.10 1250.30V1050.20M781.50 1250.30V1230.00M824.00 1250.30V1240.00M833.00 1250.30V1161.60M838.60 1250.30V1228.00" stroke="#000" stroke-width="1.6" fill="none"/>
<line x1="72.50" y1="1170.50" x2="75.50" y2="1168.50" stroke="#6cc86c" stroke-width="1.1"/>
<line x1="89.40" y1="1120.60" x2="104.10" y2="1123.20" stroke="#6cc86c" stroke-width="1.1"/>
<line x1="140.00" y1="1184.20" x2="154.40" y2="1186.50" stroke="#6cc86c" stroke-width="1.1"/>
<line x1="168.80" y1="1144.50" x2="177.20" y2="1142.50" stroke="#6cc86c" stroke-width="1.1"/>
<line x1="176.50" y1="1184.00" x2="187.50" y2="1182.00" stroke="#6cc86c" stroke-width="1.1"/>
<line x1="246.90" y1="1176.70" x2="261.40" y2="1216.60" stroke="#6cc86c" stroke-width="1.1"/>
<line x1="305.90" y1="1151.40" x2="317.20" y2="1232.50" stroke="#6cc86c" stroke-width="1.1"/>
<line x1="340.60" y1="1183.00" x2="342.50" y2="1181.00" stroke="#6cc86c" stroke-width="1.1"/>
<line x1="353.50" y1="1232.00" x2="359.00" y2="1230.00" stroke="#6cc86c" stroke-width="1.1"/>
<line x1="374.60" y1="1210.70" x2="382.30" y2="1213.00" stroke="#6cc86c" stroke-width="1.1"/>
<line x1="395.00" y1="1208.30" x2="410.90" y2="1206.00" stroke="#6cc86c" stroke-width="1.1"/>
<line x1="445.20" y1="1223.00" x2="462.80" y2="1219.90" stroke="#6cc86c" stroke-width="1.1"/>
<line x1="475.70" y1="1133.90" x2="488.10" y2="1230.90" stroke="#6cc86c" stroke-width="1.1"/>
<line x1="501.50" y1="1163.70" x2="517.20" y2="1160.60" stroke="#6cc86c" stroke-width="1.1"/>
<line x1="532.00" y1="1223.00" x2="545.50" y2="1225.30" stroke="#6cc86c" stroke-width="1.1"/>
<line x1="580.50" y1="1159.70" x2="594.80" y2="1200.00" stroke="#6cc86c" stroke-width="1.1"/>
<line x1="638.60" y1="1170.00" x2="652.20" y2="1171.90" stroke="#6cc86c" stroke-width="1.1"/>
<line x1="631.10" y1="1234.00" x2="638.60" y2="1235.60" stroke="#6cc86c" stroke-width="1.1"/>
<line x1="666.80" y1="1205.70" x2="683.30" y2="1202.90" stroke="#6cc86c" stroke-width="1.1"/>
<line x1="695.50" y1="1236.40" x2="709.10" y2="1238.50" stroke="#6cc86c" stroke-width="1.1"/>
<line x1="724.80" y1="1237.30" x2="740.20" y2="1235.10" stroke="#6cc86c" stroke-width="1.1"/>
<line x1="754.80" y1="1209.30" x2="767.10" y2="1212.80" stroke="#6cc86c" stroke-width="1.1"/>
<line x1="781.50" y1="1223.90" x2="797.80" y2="1221.80" stroke="#6cc86c" stroke-width="1.1"/>
<line x1="839.00" y1="1222.90" x2="855.20" y2="1220.70" stroke="#6cc86c" stroke-width="1.1"/>
<text x="62.88" y="1166.60" font-size="16.86" fill="#1c1c1c" textLength="30.31" lengthAdjust="spacingAndGlyphs">171.1</text>
<text x="73.40" y="1119.80" font-size="16.61" fill="#1c1c1c" textLength="29.99" lengthAdjust="spacingAndGlyphs">228.1</text>
<text x="93.10" y="1041.80" font-size="16.61" fill="#1c1c1c" textLength="29.99" lengthAdjust="spacingAndGlyphs">240.1</text>
<text x="124.85" y="1182.30" font-size="16.61" fill="#1c1c1c" textLength="29.85" lengthAdjust="spacingAndGlyphs">329.2</text>
<text x="143.85" y="1058.90" font-size="16.61" fill="#1c1c1c" textLength="29.85" lengthAdjust="spacingAndGlyphs">339.2</text>
<text x="162.35" y="1143.70" font-size="16.61" fill="#1c1c1c" textLength="29.85" lengthAdjust="spacingAndGlyphs">357.2</text>
<text x="172.25" y="1181.80" font-size="16.61" fill="#1c1c1c" textLength="29.85" lengthAdjust="spacingAndGlyphs">371.2</text>
<text x="211.13" y="1195.40" font-size="16.61" fill="#1c1c1c" textLength="29.59" lengthAdjust="spacingAndGlyphs">470.3</text>
<text x="230.82" y="1174.30" font-size="16.61" fill="#1c1c1c" textLength="29.80" lengthAdjust="spacingAndGlyphs">539.3</text>
<text x="267.62" y="1172.00" font-size="16.61" fill="#1c1c1c" textLength="29.80" lengthAdjust="spacingAndGlyphs">584.3</text>
<text x="290.90" y="1148.50" font-size="16.61" fill="#1c1c1c" textLength="29.75" lengthAdjust="spacingAndGlyphs">652.4</text>
<text x="309.49" y="1106.00" font-size="16.61" fill="#1c1c1c" textLength="29.93" lengthAdjust="spacingAndGlyphs">667.3</text>
<text x="328.20" y="1179.60" font-size="16.61" fill="#1c1c1c" textLength="29.75" lengthAdjust="spacingAndGlyphs">697.4</text>
<text x="343.89" y="1228.40" font-size="16.61" fill="#1c1c1c" textLength="29.94" lengthAdjust="spacingAndGlyphs">723.3</text>
<text x="358.59" y="1209.30" font-size="16.61" fill="#1c1c1c" textLength="29.76" lengthAdjust="spacingAndGlyphs">780.4</text>
<text x="378.88" y="1157.40" font-size="16.61" fill="#1c1c1c" textLength="29.84" lengthAdjust="spacingAndGlyphs">804.3</text>
<text x="396.18" y="1204.80" font-size="16.61" fill="#1c1c1c" textLength="29.84" lengthAdjust="spacingAndGlyphs">805.3</text>
<text x="429.74" y="1180.80" font-size="16.61" fill="#1c1c1c" textLength="29.70" lengthAdjust="spacingAndGlyphs">905.4</text>
<text x="448.04" y="1218.30" font-size="16.61" fill="#1c1c1c" textLength="29.70" lengthAdjust="spacingAndGlyphs">906.4</text>
<text x="460.74" y="1132.00" font-size="16.61" fill="#1c1c1c" textLength="29.70" lengthAdjust="spacingAndGlyphs">989.4</text>
<text x="478.67" y="1032.80" font-size="16.61" fill="#1c1c1c" textLength="35.53" lengthAdjust="spacingAndGlyphs">1006.4</text>
<text x="499.86" y="1159.40" font-size="16.61" fill="#1c1c1c" textLength="35.68" lengthAdjust="spacingAndGlyphs">1015.5</text>
<text x="513.97" y="1221.00" font-size="16.61" fill="#1c1c1c" textLength="35.52" lengthAdjust="spacingAndGlyphs">1104.4</text>
<text x="536.16" y="1181.20" font-size="16.61" fill="#1c1c1c" textLength="35.68" lengthAdjust="spacingAndGlyphs">1121.5</text>
<text x="561.96" y="1157.80" font-size="16.61" fill="#1c1c1c" textLength="35.68" lengthAdjust="spacingAndGlyphs">1201.5</text>
<text x="585.76" y="628.50" font-size="16.61" fill="#1c1c1c" textLength="35.68" lengthAdjust="spacingAndGlyphs">1218.5</text>
<text x="612.36" y="1231.10" font-size="16.61" fill="#1c1c1c" textLength="35.68" lengthAdjust="spacingAndGlyphs">1288.5</text>
<text x="620.56" y="1167.80" font-size="16.61" fill="#1c1c1c" textLength="35.68" lengthAdjust="spacingAndGlyphs">1315.5</text>
<text x="642.36" y="795.70" font-size="16.61" fill="#1c1c1c" textLength="35.70" lengthAdjust="spacingAndGlyphs">1332.6</text>
<text x="665.86" y="1202.90" font-size="16.61" fill="#1c1c1c" textLength="35.68" lengthAdjust="spacingAndGlyphs">1343.5</text>
<text x="677.46" y="1235.10" font-size="16.61" fill="#1c1c1c" textLength="35.70" lengthAdjust="spacingAndGlyphs">1428.6</text>
<text x="700.36" y="1113.40" font-size="16.61" fill="#1c1c1c" textLength="35.70" lengthAdjust="spacingAndGlyphs">1445.6</text>
<text x="722.66" y="1234.00" font-size="16.61" fill="#1c1c1c" textLength="35.70" lengthAdjust="spacingAndGlyphs">1456.6</text>
<text x="735.06" y="1207.80" font-size="16.61" fill="#1c1c1c" textLength="35.78" lengthAdjust="spacingAndGlyphs">1543.7</text>
<text x="757.56" y="1000.90" font-size="16.61" fill="#1c1c1c" textLength="35.78" lengthAdjust="spacingAndGlyphs">1559.7</text>
<text x="780.16" y="1220.10" font-size="16.61" fill="#1c1c1c" textLength="35.78" lengthAdjust="spacingAndGlyphs">1570.7</text>
<text x="814.96" y="1139.90" font-size="16.61" fill="#1c1c1c" textLength="35.70" lengthAdjust="spacingAndGlyphs">1673.8</text>
<text x="837.56" y="1219.80" font-size="16.61" fill="#1c1c1c" textLength="35.78" lengthAdjust="spacingAndGlyphs">1684.7</text>
<text x="864.66" y="1241.60" font-size="16.61" fill="#1c1c1c" textLength="35.74" lengthAdjust="spacingAndGlyphs">1772.9</text>
<text x="909.56" y="1241.60" font-size="16.61" fill="#1c1c1c" textLength="35.74" lengthAdjust="spacingAndGlyphs">1860.9</text>
<text x="589.30" y="602.90" font-size="22.38" fill="#25acea" textLength="12.10" lengthAdjust="spacingAndGlyphs">Y</text>
<text x="601.90" y="608.60" font-size="15.26" fill="#25acea" textLength="16.00" lengthAdjust="spacingAndGlyphs">11</text>
<text x="691.89" y="850.70" font-size="22.38" fill="#25acea" textLength="12.31" lengthAdjust="spacingAndGlyphs">Y</text>
<text x="704.84" y="856.40" font-size="15.18" fill="#25acea" textLength="16.92" lengthAdjust="spacingAndGlyphs">12</text>
<line x1="689.00" y1="839.70" x2="667.97" y2="839.70" stroke="#25acea" stroke-width="1.9" stroke-linecap="round"/>
<path d="M674.47 844.47L666.83 839.70L674.47 834.93" fill="none" stroke="#25acea" stroke-width="1.9" stroke-linecap="round" stroke-linejoin="miter" stroke-miterlimit="10"/>
<text x="760.49" y="974.50" font-size="22.67" fill="#25acea" textLength="12.31" lengthAdjust="spacingAndGlyphs">Y</text>
<text x="773.03" y="980.00" font-size="15.12" fill="#25acea" textLength="17.01" lengthAdjust="spacingAndGlyphs">14</text>
<text x="486.77" y="1007.90" font-size="23.11" fill="#25acea" font-weight="bold" textLength="13.05" lengthAdjust="spacingAndGlyphs">Y</text>
<text x="500.48" y="1013.20" font-size="14.75" fill="#25acea" font-weight="bold" textLength="8.38" lengthAdjust="spacingAndGlyphs">9</text>
<text x="700.49" y="1081.90" font-size="22.67" fill="#25acea" textLength="12.31" lengthAdjust="spacingAndGlyphs">Y</text>
<text x="712.99" y="1087.50" font-size="15.04" fill="#25acea" textLength="17.71" lengthAdjust="spacingAndGlyphs">13</text>
<text x="820.50" y="1114.90" font-size="22.67" fill="#25acea" textLength="12.10" lengthAdjust="spacingAndGlyphs">Y</text>
<text x="833.05" y="1120.60" font-size="15.41" fill="#25acea" textLength="16.78" lengthAdjust="spacingAndGlyphs">15</text>
<text x="315.40" y="1073.90" font-size="23.11" fill="#25acea" textLength="12.20" lengthAdjust="spacingAndGlyphs">Y</text>
<text x="327.91" y="1079.30" font-size="15.32" fill="#25acea" textLength="8.68" lengthAdjust="spacingAndGlyphs">6</text>
<text x="383.79" y="1131.90" font-size="23.11" fill="#25acea" textLength="12.31" lengthAdjust="spacingAndGlyphs">Y</text>
<text x="396.54" y="1136.90" font-size="14.97" fill="#25acea" textLength="8.20" lengthAdjust="spacingAndGlyphs">7</text>
<text x="435.40" y="1156.50" font-size="23.26" fill="#25acea" textLength="12.10" lengthAdjust="spacingAndGlyphs">Y</text>
<text x="448.36" y="1161.80" font-size="15.18" fill="#25acea" textLength="8.18" lengthAdjust="spacingAndGlyphs">8</text>
<text x="537.76" y="1106.70" font-size="22.67" fill="#25acea" font-weight="bold" textLength="13.37" lengthAdjust="spacingAndGlyphs">Y</text>
<text x="551.92" y="1112.00" font-size="14.61" fill="#25acea" font-weight="bold" textLength="17.32" lengthAdjust="spacingAndGlyphs">10</text>
<line x1="552.30" y1="1120.30" x2="552.30" y2="1158.22" stroke="#25acea" stroke-width="2.2" stroke-linecap="round"/>
<path d="M557.70 1150.19L552.30 1159.54L546.90 1150.19" fill="none" stroke="#25acea" stroke-width="2.2" stroke-linecap="round" stroke-linejoin="miter" stroke-miterlimit="10"/>
<text x="67.42" y="1090.50" font-size="22.97" fill="#e8782a" textLength="13.66" lengthAdjust="spacingAndGlyphs">B</text>
<text x="81.24" y="1095.80" font-size="15.32" fill="#e8782a" textLength="8.42" lengthAdjust="spacingAndGlyphs">2</text>
<line x1="73.40" y1="1096.50" x2="73.40" y2="1140.42" stroke="#25acea" stroke-width="2.2" stroke-linecap="round"/>
<path d="M78.80 1132.39L73.40 1141.74L68.00 1132.39" fill="none" stroke="#25acea" stroke-width="2.2" stroke-linecap="round" stroke-linejoin="miter" stroke-miterlimit="10"/>
<text x="136.00" y="1024.60" font-size="22.97" fill="#e8782a" textLength="13.03" lengthAdjust="spacingAndGlyphs">B</text>
<text x="149.64" y="1029.90" font-size="15.04" fill="#e8782a" textLength="8.21" lengthAdjust="spacingAndGlyphs">3</text>
<line x1="142.00" y1="1029.70" x2="126.21" y2="1066.67" stroke="#25acea" stroke-width="2.2" stroke-linecap="round"/>
<path d="M134.33 1061.40L125.69 1067.88L124.40 1057.16" fill="none" stroke="#25acea" stroke-width="2.2" stroke-linecap="round" stroke-linejoin="miter" stroke-miterlimit="10"/>
<text x="195.87" y="1082.20" font-size="22.97" fill="#e8782a" textLength="13.28" lengthAdjust="spacingAndGlyphs">B</text>
<text x="209.69" y="1087.20" font-size="14.97" fill="#e8782a" textLength="7.62" lengthAdjust="spacingAndGlyphs">4</text>
<line x1="193.00" y1="1087.70" x2="176.93" y2="1124.48" stroke="#25acea" stroke-width="2.2" stroke-linecap="round"/>
<path d="M185.10 1119.28L176.40 1125.69L175.20 1114.95" fill="none" stroke="#25acea" stroke-width="2.2" stroke-linecap="round" stroke-linejoin="miter" stroke-miterlimit="10"/>
<text x="221.30" y="1131.90" font-size="22.97" fill="#e8782a" textLength="13.79" lengthAdjust="spacingAndGlyphs">B</text>
<text x="235.31" y="1137.20" font-size="15.41" fill="#e8782a" textLength="8.21" lengthAdjust="spacingAndGlyphs">5</text>
<line x1="227.40" y1="1136.90" x2="227.40" y2="1174.82" stroke="#25acea" stroke-width="2.2" stroke-linecap="round"/>
<path d="M232.80 1166.79L227.40 1176.14L222.00 1166.79" fill="none" stroke="#25acea" stroke-width="2.2" stroke-linecap="round" stroke-linejoin="miter" stroke-miterlimit="10"/>
<text x="272.85" y="1115.20" font-size="22.97" fill="#e8782a" textLength="13.41" lengthAdjust="spacingAndGlyphs">B</text>
<text x="286.21" y="1120.60" font-size="15.47" fill="#e8782a" textLength="8.68" lengthAdjust="spacingAndGlyphs">6</text>
<line x1="279.00" y1="1120.50" x2="279.00" y2="1149.02" stroke="#25acea" stroke-width="2.2" stroke-linecap="round"/>
<path d="M284.40 1140.99L279.00 1150.34L273.60 1140.99" fill="none" stroke="#25acea" stroke-width="2.2" stroke-linecap="round" stroke-linejoin="miter" stroke-miterlimit="10"/>
<text x="720.09" y="802.80" font-size="48.17" fill="#000" font-weight="bold" textLength="61.82" lengthAdjust="spacingAndGlyphs">(b)</text>
<rect x="665.30" y="585.00" width="300.80" height="148.50" fill="#fff" stroke="#000" stroke-width="2.8"/>
<text x="675.13" y="623.70" font-size="31.69" fill="#000" font-weight="bold" textLength="181.70" lengthAdjust="spacingAndGlyphs">Q Exactive-</text>
<text x="674.88" y="671.30" font-size="32.99" fill="#000" textLength="161.57" lengthAdjust="spacingAndGlyphs">MS/MS of</text>
<text x="675.50" y="718.00" font-size="32.85" fill="#000" textLength="273.73" lengthAdjust="spacingAndGlyphs">m/z 1014.99 (2+)</text>
<rect x="800.00" y="748.00" width="208.90" height="341.50" fill="#fff" stroke="#000" stroke-width="2.6"/>
<line x1="801.50" y1="1062.60" x2="1007.50" y2="1062.60" stroke="#1a1a1a" stroke-width="1.2"/>
<line x1="804.64" y1="1062.60" x2="804.64" y2="1065.20" stroke="#1a1a1a" stroke-width="0.9"/>
<line x1="812.86" y1="1062.60" x2="812.86" y2="1065.20" stroke="#1a1a1a" stroke-width="0.9"/>
<line x1="821.08" y1="1062.60" x2="821.08" y2="1065.20" stroke="#1a1a1a" stroke-width="0.9"/>
<line x1="829.30" y1="1062.60" x2="829.30" y2="1065.20" stroke="#1a1a1a" stroke-width="0.9"/>
<line x1="837.52" y1="1062.60" x2="837.52" y2="1065.20" stroke="#1a1a1a" stroke-width="0.9"/>
<line x1="845.74" y1="1062.60" x2="845.74" y2="1065.20" stroke="#1a1a1a" stroke-width="0.9"/>
<line x1="853.96" y1="1062.60" x2="853.96" y2="1065.20" stroke="#1a1a1a" stroke-width="0.9"/>
<line x1="862.18" y1="1062.60" x2="862.18" y2="1065.20" stroke="#1a1a1a" stroke-width="0.9"/>
<line x1="870.40" y1="1062.60" x2="870.40" y2="1065.20" stroke="#1a1a1a" stroke-width="0.9"/>
<line x1="878.62" y1="1062.60" x2="878.62" y2="1065.20" stroke="#1a1a1a" stroke-width="0.9"/>
<line x1="886.84" y1="1062.60" x2="886.84" y2="1065.20" stroke="#1a1a1a" stroke-width="0.9"/>
<line x1="895.06" y1="1062.60" x2="895.06" y2="1065.20" stroke="#1a1a1a" stroke-width="0.9"/>
<line x1="903.28" y1="1062.60" x2="903.28" y2="1065.20" stroke="#1a1a1a" stroke-width="0.9"/>
<line x1="911.50" y1="1062.60" x2="911.50" y2="1065.20" stroke="#1a1a1a" stroke-width="0.9"/>
<line x1="919.72" y1="1062.60" x2="919.72" y2="1065.20" stroke="#1a1a1a" stroke-width="0.9"/>
<line x1="927.94" y1="1062.60" x2="927.94" y2="1065.20" stroke="#1a1a1a" stroke-width="0.9"/>
<line x1="936.16" y1="1062.60" x2="936.16" y2="1065.20" stroke="#1a1a1a" stroke-width="0.9"/>
<line x1="944.38" y1="1062.60" x2="944.38" y2="1065.20" stroke="#1a1a1a" stroke-width="0.9"/>
<line x1="952.60" y1="1062.60" x2="952.60" y2="1065.20" stroke="#1a1a1a" stroke-width="0.9"/>
<line x1="960.82" y1="1062.60" x2="960.82" y2="1065.20" stroke="#1a1a1a" stroke-width="0.9"/>
<line x1="969.04" y1="1062.60" x2="969.04" y2="1065.20" stroke="#1a1a1a" stroke-width="0.9"/>
<line x1="977.26" y1="1062.60" x2="977.26" y2="1065.20" stroke="#1a1a1a" stroke-width="0.9"/>
<line x1="985.48" y1="1062.60" x2="985.48" y2="1065.20" stroke="#1a1a1a" stroke-width="0.9"/>
<line x1="993.70" y1="1062.60" x2="993.70" y2="1065.20" stroke="#1a1a1a" stroke-width="0.9"/>
<line x1="1001.92" y1="1062.60" x2="1001.92" y2="1065.20" stroke="#1a1a1a" stroke-width="0.9"/>
<polyline points="824.30,1062.60 825.30,1059.60 825.30,1024.00 826.70,1021.00 826.70,909.00 829.90,909.00 829.90,1021.00 831.30,1024.00 831.30,1059.60 832.30,1062.60" fill="#fff" stroke="#3a3a3a" stroke-width="0.9" stroke-linejoin="round"/>
<line x1="828.30" y1="763.60" x2="828.30" y2="895.00" stroke="#111" stroke-width="1.1"/>
<line x1="828.30" y1="895.00" x2="828.30" y2="909.00" stroke="#6a6a6a" stroke-width="2.8"/>
<polyline points="865.60,1062.60 866.60,1059.60 866.60,985.00 868.00,982.00 868.00,900.30 871.20,900.30 871.20,982.00 872.60,985.00 872.60,1059.60 873.60,1062.60" fill="#fff" stroke="#3a3a3a" stroke-width="0.9" stroke-linejoin="round"/>
<line x1="869.60" y1="766.50" x2="869.60" y2="855.00" stroke="#111" stroke-width="1.1"/>
<line x1="869.60" y1="855.00" x2="869.60" y2="900.30" stroke="#6a6a6a" stroke-width="2.8"/>
<polyline points="907.30,1062.60 908.30,1059.60 908.30,999.00 909.70,996.00 909.70,901.70 912.90,901.70 912.90,996.00 914.30,999.00 914.30,1059.60 915.30,1062.60" fill="#fff" stroke="#3a3a3a" stroke-width="0.9" stroke-linejoin="round"/>
<line x1="911.30" y1="877.00" x2="911.30" y2="892.70" stroke="#111" stroke-width="1.1"/>
<line x1="911.30" y1="892.70" x2="911.30" y2="901.70" stroke="#6a6a6a" stroke-width="2.8"/>
<polyline points="949.20,1062.60 950.20,1059.60 950.20,1015.00 951.20,1012.00 951.20,1000.00 954.40,1000.00 954.40,1012.00 955.40,1015.00 955.40,1059.60 956.40,1062.60" fill="#fff" stroke="#3a3a3a" stroke-width="0.9" stroke-linejoin="round"/>
<line x1="952.80" y1="979.20" x2="952.80" y2="991.60" stroke="#111" stroke-width="1.1"/>
<line x1="952.80" y1="991.60" x2="952.80" y2="1000.00" stroke="#6a6a6a" stroke-width="2.8"/>
<polyline points="991.40,1062.60 992.40,1059.60 992.40,1055.00 993.20,1052.00 993.20,1046.00 995.60,1046.00 995.60,1052.00 996.40,1055.00 996.40,1059.60 997.40,1062.60" fill="#fff" stroke="#3a3a3a" stroke-width="0.9" stroke-linejoin="round"/>
<line x1="994.40" y1="1033.60" x2="994.40" y2="1040.00" stroke="#111" stroke-width="1.1"/>
<line x1="994.40" y1="1040.00" x2="994.40" y2="1046.00" stroke="#6a6a6a" stroke-width="2.8"/>
<text x="816.71" y="762.20" font-size="6.87" fill="#222" font-weight="bold" textLength="24.99" lengthAdjust="spacingAndGlyphs">1014.99</text>
<text x="857.81" y="764.20" font-size="6.87" fill="#222" font-weight="bold" textLength="24.99" lengthAdjust="spacingAndGlyphs">1015.49</text>
<text x="899.11" y="874.40" font-size="6.87" fill="#222" font-weight="bold" textLength="24.99" lengthAdjust="spacingAndGlyphs">1015.99</text>
<text x="940.71" y="977.10" font-size="6.87" fill="#222" font-weight="bold" textLength="25.02" lengthAdjust="spacingAndGlyphs">1016.50</text>
<text x="982.41" y="1028.40" font-size="6.87" fill="#222" font-weight="bold" textLength="25.02" lengthAdjust="spacingAndGlyphs">1017.00</text>
<text x="916.72" y="1027.90" font-size="6.87" fill="#222" font-weight="bold" textLength="24.95" lengthAdjust="spacingAndGlyphs">1016.08</text>
<text x="800.61" y="1058.70" font-size="6.87" fill="#222" font-weight="bold" textLength="22.42" lengthAdjust="spacingAndGlyphs">1014.84</text>
<text x="1000.64" y="1059.70" font-size="6.87" fill="#222" font-weight="bold" textLength="6.40" lengthAdjust="spacingAndGlyphs">10</text>
<line x1="1004.00" y1="1061.60" x2="1006.80" y2="1061.40" stroke="#6cc86c" stroke-width="1.0"/>
<line x1="929.30" y1="1029.30" x2="917.00" y2="1062.60" stroke="#6cc86c" stroke-width="0.9"/>
<line x1="808.00" y1="1059.50" x2="815.00" y2="1061.50" stroke="#6cc86c" stroke-width="0.9"/>
<text x="817.83" y="1073.50" font-size="6.87" fill="#222" font-weight="bold" textLength="22.77" lengthAdjust="spacingAndGlyphs">1015.0</text>
<text x="858.93" y="1073.50" font-size="6.87" fill="#222" font-weight="bold" textLength="22.67" lengthAdjust="spacingAndGlyphs">1015.5</text>
<text x="900.93" y="1073.50" font-size="6.87" fill="#222" font-weight="bold" textLength="22.77" lengthAdjust="spacingAndGlyphs">1016.0</text>
<text x="942.03" y="1073.50" font-size="6.87" fill="#222" font-weight="bold" textLength="22.67" lengthAdjust="spacingAndGlyphs">1016.5</text>
<text x="982.93" y="1073.50" font-size="6.87" fill="#222" font-weight="bold" textLength="22.77" lengthAdjust="spacingAndGlyphs">1017.0</text>
<text x="888.06" y="1082.70" font-size="6.07" fill="#222" font-weight="bold" textLength="12.46" lengthAdjust="spacingAndGlyphs">m/z</text>
<text x="36.96" y="609.60" font-size="18.47" fill="#2222aa" textLength="22.22" lengthAdjust="spacingAndGlyphs">TMS</text>
<text x="62.06" y="607.50" font-size="12.99" fill="#2222aa" textLength="6.49" lengthAdjust="spacingAndGlyphs">+</text>
<line x1="45.80" y1="593.20" x2="51.60" y2="593.20" stroke="#2222aa" stroke-width="1.2"/>
<rect x="32.40" y="596.80" width="1.20" height="1.20" fill="#5555bb"/>
<rect x="32.40" y="602.80" width="1.20" height="1.20" fill="#8888cc"/>
<rect x="73.90" y="592.40" width="504.10" height="387.00" fill="#fff"/>
<rect x="73.90" y="592.40" width="504.10" height="24.10" fill="#ece9d8"/>
<line x1="73.90" y1="615.70" x2="578.00" y2="615.70" stroke="#cbc7b8" stroke-width="1.6"/>
<line x1="90.40" y1="595.00" x2="90.40" y2="613.50" stroke="#d6d2c2" stroke-width="1"/>
<line x1="91.40" y1="595.00" x2="91.40" y2="613.50" stroke="#fbfaf5" stroke-width="1"/>
<line x1="143.80" y1="595.00" x2="143.80" y2="613.50" stroke="#d6d2c2" stroke-width="1"/>
<line x1="144.80" y1="595.00" x2="144.80" y2="613.50" stroke="#fbfaf5" stroke-width="1"/>
<line x1="197.90" y1="595.00" x2="197.90" y2="613.50" stroke="#d6d2c2" stroke-width="1"/>
<line x1="198.90" y1="595.00" x2="198.90" y2="613.50" stroke="#fbfaf5" stroke-width="1"/>
<line x1="252.60" y1="595.00" x2="252.60" y2="613.50" stroke="#d6d2c2" stroke-width="1"/>
<line x1="253.60" y1="595.00" x2="253.60" y2="613.50" stroke="#fbfaf5" stroke-width="1"/>
<line x1="306.50" y1="595.00" x2="306.50" y2="613.50" stroke="#d6d2c2" stroke-width="1"/>
<line x1="307.50" y1="595.00" x2="307.50" y2="613.50" stroke="#fbfaf5" stroke-width="1"/>
<line x1="342.00" y1="595.00" x2="342.00" y2="613.50" stroke="#d6d2c2" stroke-width="1"/>
<line x1="343.00" y1="595.00" x2="343.00" y2="613.50" stroke="#fbfaf5" stroke-width="1"/>
<line x1="396.70" y1="595.00" x2="396.70" y2="613.50" stroke="#d6d2c2" stroke-width="1"/>
<line x1="397.70" y1="595.00" x2="397.70" y2="613.50" stroke="#fbfaf5" stroke-width="1"/>
<line x1="450.50" y1="595.00" x2="450.50" y2="613.50" stroke="#d6d2c2" stroke-width="1"/>
<line x1="451.50" y1="595.00" x2="451.50" y2="613.50" stroke="#fbfaf5" stroke-width="1"/>
<line x1="504.30" y1="595.00" x2="504.30" y2="613.50" stroke="#d6d2c2" stroke-width="1"/>
<line x1="505.30" y1="595.00" x2="505.30" y2="613.50" stroke="#fbfaf5" stroke-width="1"/>
<line x1="558.10" y1="595.00" x2="558.10" y2="613.50" stroke="#d6d2c2" stroke-width="1"/>
<line x1="559.10" y1="595.00" x2="559.10" y2="613.50" stroke="#fbfaf5" stroke-width="1"/>
<text x="79.20" y="607.80" font-size="11.88" fill="#333" textLength="6.20" lengthAdjust="spacingAndGlyphs">B</text>
<text x="98.00" y="607.80" font-size="11.88" fill="#333" textLength="27.40" lengthAdjust="spacingAndGlyphs">B Ions</text>
<text x="152.10" y="607.80" font-size="11.88" fill="#333" textLength="25.80" lengthAdjust="spacingAndGlyphs">B+2H</text>
<text x="206.00" y="607.80" font-size="11.88" fill="#333" textLength="27.90" lengthAdjust="spacingAndGlyphs">B-NH3</text>
<text x="259.90" y="607.80" font-size="11.88" fill="#333" textLength="28.70" lengthAdjust="spacingAndGlyphs">B-H2O</text>
<text x="314.00" y="607.80" font-size="11.88" fill="#333" textLength="13.70" lengthAdjust="spacingAndGlyphs">AA</text>
<text x="350.10" y="607.80" font-size="11.88" fill="#333" textLength="28.10" lengthAdjust="spacingAndGlyphs">Y Ions</text>
<text x="404.50" y="607.80" font-size="11.88" fill="#333" textLength="25.50" lengthAdjust="spacingAndGlyphs">Y+2H</text>
<text x="458.30" y="607.80" font-size="11.88" fill="#333" textLength="28.10" lengthAdjust="spacingAndGlyphs">Y-NH3</text>
<text x="512.10" y="607.80" font-size="11.88" fill="#333" textLength="28.90" lengthAdjust="spacingAndGlyphs">Y-H2O</text>
<text x="566.50" y="607.80" font-size="11.88" fill="#333" textLength="6.20" lengthAdjust="spacingAndGlyphs">Y</text>
<line x1="73.90" y1="616.50" x2="578.00" y2="616.50" stroke="#bdbdbd" stroke-width="1.2"/>
<line x1="73.90" y1="635.61" x2="578.00" y2="635.61" stroke="#bdbdbd" stroke-width="1.2"/>
<line x1="73.90" y1="654.71" x2="578.00" y2="654.71" stroke="#bdbdbd" stroke-width="1.2"/>
<line x1="73.90" y1="673.82" x2="578.00" y2="673.82" stroke="#bdbdbd" stroke-width="1.2"/>
<line x1="73.90" y1="692.93" x2="578.00" y2="692.93" stroke="#bdbdbd" stroke-width="1.2"/>
<line x1="73.90" y1="712.03" x2="578.00" y2="712.03" stroke="#bdbdbd" stroke-width="1.2"/>
<line x1="73.90" y1="731.14" x2="578.00" y2="731.14" stroke="#bdbdbd" stroke-width="1.2"/>
<line x1="73.90" y1="750.25" x2="578.00" y2="750.25" stroke="#bdbdbd" stroke-width="1.2"/>
<line x1="73.90" y1="769.36" x2="578.00" y2="769.36" stroke="#bdbdbd" stroke-width="1.2"/>
<line x1="73.90" y1="788.46" x2="578.00" y2="788.46" stroke="#bdbdbd" stroke-width="1.2"/>
<line x1="73.90" y1="807.57" x2="578.00" y2="807.57" stroke="#bdbdbd" stroke-width="1.2"/>
<line x1="73.90" y1="826.68" x2="578.00" y2="826.68" stroke="#bdbdbd" stroke-width="1.2"/>
<line x1="73.90" y1="845.78" x2="578.00" y2="845.78" stroke="#bdbdbd" stroke-width="1.2"/>
<line x1="73.90" y1="864.89" x2="578.00" y2="864.89" stroke="#bdbdbd" stroke-width="1.2"/>
<line x1="73.90" y1="884.00" x2="578.00" y2="884.00" stroke="#bdbdbd" stroke-width="1.2"/>
<line x1="73.90" y1="903.11" x2="578.00" y2="903.11" stroke="#bdbdbd" stroke-width="1.2"/>
<line x1="73.90" y1="922.21" x2="578.00" y2="922.21" stroke="#bdbdbd" stroke-width="1.2"/>
<line x1="73.90" y1="941.32" x2="578.00" y2="941.32" stroke="#bdbdbd" stroke-width="1.2"/>
<line x1="73.90" y1="960.43" x2="578.00" y2="960.43" stroke="#bdbdbd" stroke-width="1.2"/>
<line x1="73.90" y1="979.53" x2="578.00" y2="979.53" stroke="#bdbdbd" stroke-width="1.2"/>
<line x1="91.40" y1="616.50" x2="91.40" y2="979.53" stroke="#b4b4b4" stroke-width="1.2"/>
<line x1="144.80" y1="616.50" x2="144.80" y2="979.53" stroke="#b4b4b4" stroke-width="1.2"/>
<line x1="198.90" y1="616.50" x2="198.90" y2="979.53" stroke="#b4b4b4" stroke-width="1.2"/>
<line x1="253.60" y1="616.50" x2="253.60" y2="979.53" stroke="#b4b4b4" stroke-width="1.2"/>
<line x1="307.50" y1="616.50" x2="307.50" y2="979.53" stroke="#b4b4b4" stroke-width="1.2"/>
<line x1="343.00" y1="616.50" x2="343.00" y2="979.53" stroke="#b4b4b4" stroke-width="1.2"/>
<line x1="397.70" y1="616.50" x2="397.70" y2="979.53" stroke="#b4b4b4" stroke-width="1.2"/>
<line x1="451.50" y1="616.50" x2="451.50" y2="979.53" stroke="#b4b4b4" stroke-width="1.2"/>
<line x1="505.30" y1="616.50" x2="505.30" y2="979.53" stroke="#b4b4b4" stroke-width="1.2"/>
<line x1="559.10" y1="616.50" x2="559.10" y2="979.53" stroke="#b4b4b4" stroke-width="1.2"/>
<g stroke="#111" stroke-width="0.3">
<text x="77.08" y="631.40" font-size="14.69" fill="#222" font-family="Liberation Serif" textLength="6.96" lengthAdjust="spacingAndGlyphs">1</text>
<text x="104.16" y="631.00" font-size="14.04" font-weight="bold" textLength="27.50" lengthAdjust="spacingAndGlyphs">100.1</text>
<text x="321.78" y="630.95" font-size="14.10" font-weight="bold" textLength="6.94" lengthAdjust="spacingAndGlyphs">V</text>
<text x="352.48" y="631.00" font-size="14.04" font-weight="bold" textLength="35.81" lengthAdjust="spacingAndGlyphs">2,029.0</text>
<text x="406.42" y="631.00" font-size="14.04" font-weight="bold" textLength="36.13" lengthAdjust="spacingAndGlyphs">1,015.0</text>
<text x="460.53" y="631.00" font-size="14.04" font-weight="bold" textLength="35.81" lengthAdjust="spacingAndGlyphs">2,012.0</text>
<text x="514.33" y="631.00" font-size="14.04" font-weight="bold" textLength="35.81" lengthAdjust="spacingAndGlyphs">2,011.0</text>
<text x="561.74" y="631.40" font-size="14.65" fill="#222" font-family="Liberation Serif" textLength="12.05" lengthAdjust="spacingAndGlyphs">19</text>
<text x="77.76" y="650.51" font-size="14.65" fill="#222" font-family="Liberation Serif" textLength="6.11" lengthAdjust="spacingAndGlyphs">2</text>
<rect x="96.10" y="639.11" width="44.60" height="12.60" fill="#ff8266" stroke="none"/>
<text x="104.16" y="650.11" font-size="14.24" font-weight="bold" textLength="27.50" lengthAdjust="spacingAndGlyphs">171.1</text>
<text x="321.60" y="650.06" font-size="14.10" font-weight="bold" textLength="7.32" lengthAdjust="spacingAndGlyphs">A</text>
<text x="352.17" y="650.11" font-size="14.04" font-weight="bold" textLength="36.08" lengthAdjust="spacingAndGlyphs">1,929.9</text>
<text x="410.97" y="650.11" font-size="14.04" font-weight="bold" textLength="27.18" lengthAdjust="spacingAndGlyphs">965.5</text>
<text x="460.22" y="650.11" font-size="14.04" font-weight="bold" textLength="36.08" lengthAdjust="spacingAndGlyphs">1,912.9</text>
<text x="514.02" y="650.11" font-size="14.04" font-weight="bold" textLength="36.08" lengthAdjust="spacingAndGlyphs">1,911.9</text>
<text x="561.74" y="650.51" font-size="14.59" fill="#222" font-family="Liberation Serif" textLength="12.01" lengthAdjust="spacingAndGlyphs">18</text>
<text x="77.73" y="669.61" font-size="14.65" fill="#222" font-family="Liberation Serif" textLength="5.93" lengthAdjust="spacingAndGlyphs">3</text>
<rect x="96.10" y="658.21" width="44.60" height="12.60" fill="#ff8266" stroke="none"/>
<text x="104.47" y="669.21" font-size="14.04" font-weight="bold" textLength="27.18" lengthAdjust="spacingAndGlyphs">258.1</text>
<rect x="258.55" y="658.21" width="44.60" height="12.60" fill="#94f88c" stroke="none"/>
<text x="266.92" y="669.21" font-size="14.04" font-weight="bold" textLength="27.18" lengthAdjust="spacingAndGlyphs">240.1</text>
<text x="321.52" y="669.16" font-size="13.89" font-weight="bold" textLength="7.57" lengthAdjust="spacingAndGlyphs">S</text>
<text x="352.17" y="669.21" font-size="14.04" font-weight="bold" textLength="36.08" lengthAdjust="spacingAndGlyphs">1,858.9</text>
<rect x="402.60" y="658.21" width="44.60" height="12.60" fill="#88c2f8" stroke="none"/>
<text x="410.97" y="669.21" font-size="14.04" font-weight="bold" textLength="27.28" lengthAdjust="spacingAndGlyphs">929.9</text>
<text x="460.22" y="669.21" font-size="14.04" font-weight="bold" textLength="36.01" lengthAdjust="spacingAndGlyphs">1,841.8</text>
<text x="514.02" y="669.21" font-size="14.04" font-weight="bold" textLength="36.08" lengthAdjust="spacingAndGlyphs">1,840.9</text>
<text x="561.76" y="669.61" font-size="14.69" fill="#222" font-family="Liberation Serif" textLength="11.89" lengthAdjust="spacingAndGlyphs">17</text>
<text x="78.09" y="688.72" font-size="14.74" fill="#222" font-family="Liberation Serif" textLength="5.27" lengthAdjust="spacingAndGlyphs">4</text>
<rect x="96.10" y="677.32" width="44.60" height="12.60" fill="#ff8266" stroke="none"/>
<text x="104.60" y="688.32" font-size="14.04" font-weight="bold" textLength="27.18" lengthAdjust="spacingAndGlyphs">357.2</text>
<rect x="258.55" y="677.32" width="44.60" height="12.60" fill="#94f88c" stroke="none"/>
<text x="267.05" y="688.32" font-size="14.04" font-weight="bold" textLength="27.18" lengthAdjust="spacingAndGlyphs">339.2</text>
<text x="321.78" y="688.27" font-size="14.10" font-weight="bold" textLength="6.94" lengthAdjust="spacingAndGlyphs">V</text>
<rect x="348.35" y="677.32" width="44.60" height="12.60" fill="#88c2f8" stroke="none"/>
<text x="352.17" y="688.32" font-size="14.04" font-weight="bold" textLength="36.01" lengthAdjust="spacingAndGlyphs">1,771.8</text>
<text x="411.01" y="688.32" font-size="14.04" font-weight="bold" textLength="26.90" lengthAdjust="spacingAndGlyphs">886.4</text>
<text x="460.22" y="688.32" font-size="14.04" font-weight="bold" textLength="36.01" lengthAdjust="spacingAndGlyphs">1,754.8</text>
<text x="514.02" y="688.32" font-size="14.04" font-weight="bold" textLength="36.01" lengthAdjust="spacingAndGlyphs">1,753.8</text>
<text x="561.75" y="688.72" font-size="14.65" fill="#222" font-family="Liberation Serif" textLength="11.90" lengthAdjust="spacingAndGlyphs">16</text>
<text x="77.59" y="707.83" font-size="14.81" fill="#222" font-family="Liberation Serif" textLength="6.08" lengthAdjust="spacingAndGlyphs">5</text>
<rect x="96.10" y="696.43" width="44.60" height="12.60" fill="#ff8266" stroke="none"/>
<text x="104.69" y="707.43" font-size="14.04" font-weight="bold" textLength="27.05" lengthAdjust="spacingAndGlyphs">470.3</text>
<rect x="258.55" y="696.43" width="44.60" height="12.60" fill="#94f88c" stroke="none"/>
<text x="267.14" y="707.43" font-size="14.04" font-weight="bold" textLength="27.05" lengthAdjust="spacingAndGlyphs">452.3</text>
<text x="322.95" y="707.63" font-size="15.12" fill="#111" font-weight="bold" font-family="Liberation Serif" textLength="4.60" lengthAdjust="spacingAndGlyphs">I</text>
<rect x="348.35" y="696.43" width="44.60" height="12.60" fill="#88c2f8" stroke="none"/>
<text x="352.17" y="707.43" font-size="14.04" font-weight="bold" textLength="36.01" lengthAdjust="spacingAndGlyphs">1,672.8</text>
<rect x="402.60" y="696.43" width="44.60" height="12.60" fill="#88c2f8" stroke="none"/>
<text x="411.00" y="707.43" font-size="14.04" font-weight="bold" textLength="27.25" lengthAdjust="spacingAndGlyphs">836.9</text>
<text x="460.22" y="707.43" font-size="14.04" font-weight="bold" textLength="36.16" lengthAdjust="spacingAndGlyphs">1,655.7</text>
<rect x="510.20" y="696.43" width="44.60" height="12.60" fill="#94f88c" stroke="none"/>
<text x="514.02" y="707.43" font-size="14.04" font-weight="bold" textLength="36.01" lengthAdjust="spacingAndGlyphs">1,654.8</text>
<text x="561.74" y="707.83" font-size="14.69" fill="#222" font-family="Liberation Serif" textLength="12.03" lengthAdjust="spacingAndGlyphs">15</text>
<text x="77.81" y="726.93" font-size="14.65" fill="#222" font-family="Liberation Serif" textLength="5.73" lengthAdjust="spacingAndGlyphs">6</text>
<rect x="96.10" y="715.53" width="44.60" height="12.60" fill="#ff8266" stroke="none"/>
<text x="104.52" y="726.53" font-size="14.04" font-weight="bold" textLength="27.23" lengthAdjust="spacingAndGlyphs">584.3</text>
<text x="158.22" y="726.53" font-size="14.04" font-weight="bold" textLength="27.36" lengthAdjust="spacingAndGlyphs">292.7</text>
<rect x="204.25" y="715.53" width="44.60" height="12.60" fill="#94f88c" stroke="none"/>
<text x="212.67" y="726.53" font-size="14.04" font-weight="bold" textLength="27.23" lengthAdjust="spacingAndGlyphs">567.3</text>
<rect x="258.55" y="715.53" width="44.60" height="12.60" fill="#94f88c" stroke="none"/>
<text x="266.97" y="726.53" font-size="14.04" font-weight="bold" textLength="27.23" lengthAdjust="spacingAndGlyphs">566.3</text>
<text x="321.08" y="726.49" font-size="14.10" font-weight="bold" textLength="8.35" lengthAdjust="spacingAndGlyphs">N</text>
<rect x="348.35" y="715.53" width="44.60" height="12.60" fill="#88c2f8" stroke="none"/>
<text x="352.17" y="726.53" font-size="14.04" font-weight="bold" textLength="36.16" lengthAdjust="spacingAndGlyphs">1,559.7</text>
<rect x="402.60" y="715.53" width="44.60" height="12.60" fill="#88c2f8" stroke="none"/>
<text x="410.88" y="726.53" font-size="14.04" font-weight="bold" textLength="27.37" lengthAdjust="spacingAndGlyphs">780.3</text>
<rect x="456.40" y="715.53" width="44.60" height="12.60" fill="#94f88c" stroke="none"/>
<text x="460.22" y="726.53" font-size="14.04" font-weight="bold" textLength="36.16" lengthAdjust="spacingAndGlyphs">1,542.7</text>
<rect x="510.20" y="715.53" width="44.60" height="12.60" fill="#94f88c" stroke="none"/>
<text x="514.02" y="726.53" font-size="14.24" font-weight="bold" textLength="36.16" lengthAdjust="spacingAndGlyphs">1,541.7</text>
<text x="561.77" y="726.93" font-size="14.69" fill="#222" font-family="Liberation Serif" textLength="11.71" lengthAdjust="spacingAndGlyphs">14</text>
<text x="77.50" y="746.04" font-size="14.81" fill="#222" font-family="Liberation Serif" textLength="6.05" lengthAdjust="spacingAndGlyphs">7</text>
<rect x="96.10" y="734.64" width="44.60" height="12.60" fill="#ff8266" stroke="none"/>
<text x="104.46" y="745.64" font-size="14.04" font-weight="bold" textLength="26.95" lengthAdjust="spacingAndGlyphs">697.4</text>
<text x="158.35" y="745.64" font-size="14.04" font-weight="bold" textLength="27.18" lengthAdjust="spacingAndGlyphs">349.2</text>
<text x="212.61" y="745.64" font-size="14.04" font-weight="bold" textLength="26.95" lengthAdjust="spacingAndGlyphs">680.4</text>
<rect x="258.55" y="734.64" width="44.60" height="12.60" fill="#94f88c" stroke="none"/>
<text x="266.91" y="745.64" font-size="14.04" font-weight="bold" textLength="26.95" lengthAdjust="spacingAndGlyphs">679.4</text>
<text x="322.95" y="745.84" font-size="15.12" fill="#111" font-weight="bold" font-family="Liberation Serif" textLength="4.60" lengthAdjust="spacingAndGlyphs">I</text>
<rect x="348.35" y="734.64" width="44.60" height="12.60" fill="#88c2f8" stroke="none"/>
<text x="352.17" y="745.64" font-size="14.04" font-weight="bold" textLength="36.07" lengthAdjust="spacingAndGlyphs">1,445.6</text>
<rect x="402.60" y="734.64" width="44.60" height="12.60" fill="#88c2f8" stroke="none"/>
<text x="410.88" y="745.64" font-size="14.04" font-weight="bold" textLength="27.37" lengthAdjust="spacingAndGlyphs">723.3</text>
<text x="460.22" y="745.64" font-size="14.04" font-weight="bold" textLength="36.07" lengthAdjust="spacingAndGlyphs">1,428.6</text>
<rect x="510.20" y="734.64" width="44.60" height="12.60" fill="#94f88c" stroke="none"/>
<text x="514.02" y="745.64" font-size="14.04" font-weight="bold" textLength="36.07" lengthAdjust="spacingAndGlyphs">1,427.6</text>
<text x="561.74" y="746.04" font-size="14.65" fill="#222" font-family="Liberation Serif" textLength="12.03" lengthAdjust="spacingAndGlyphs">13</text>
<text x="77.86" y="765.15" font-size="14.59" fill="#222" font-family="Liberation Serif" textLength="5.78" lengthAdjust="spacingAndGlyphs">8</text>
<rect x="96.10" y="753.75" width="44.60" height="12.60" fill="#ff8266" stroke="none"/>
<text x="104.51" y="764.75" font-size="14.04" font-weight="bold" textLength="27.15" lengthAdjust="spacingAndGlyphs">811.5</text>
<text x="158.44" y="764.75" font-size="14.04" font-weight="bold" textLength="27.10" lengthAdjust="spacingAndGlyphs">406.2</text>
<text x="212.54" y="764.75" font-size="14.04" font-weight="bold" textLength="27.02" lengthAdjust="spacingAndGlyphs">794.4</text>
<rect x="258.55" y="753.75" width="44.60" height="12.60" fill="#94f88c" stroke="none"/>
<text x="266.83" y="764.75" font-size="14.04" font-weight="bold" textLength="27.27" lengthAdjust="spacingAndGlyphs">793.5</text>
<text x="321.08" y="764.70" font-size="14.10" font-weight="bold" textLength="8.35" lengthAdjust="spacingAndGlyphs">N</text>
<rect x="348.35" y="753.75" width="44.60" height="12.60" fill="#88c2f8" stroke="none"/>
<text x="352.17" y="764.75" font-size="14.04" font-weight="bold" textLength="36.07" lengthAdjust="spacingAndGlyphs">1,332.6</text>
<rect x="402.60" y="753.75" width="44.60" height="12.60" fill="#88c2f8" stroke="none"/>
<text x="410.95" y="764.75" font-size="14.04" font-weight="bold" textLength="27.23" lengthAdjust="spacingAndGlyphs">666.8</text>
<text x="460.22" y="764.75" font-size="14.04" font-weight="bold" textLength="35.98" lengthAdjust="spacingAndGlyphs">1,315.5</text>
<rect x="510.20" y="753.75" width="44.60" height="12.60" fill="#94f88c" stroke="none"/>
<text x="514.02" y="764.75" font-size="14.04" font-weight="bold" textLength="35.98" lengthAdjust="spacingAndGlyphs">1,314.5</text>
<text x="561.72" y="765.15" font-size="14.65" fill="#222" font-family="Liberation Serif" textLength="12.25" lengthAdjust="spacingAndGlyphs">12</text>
<text x="77.93" y="784.26" font-size="14.65" fill="#222" font-family="Liberation Serif" textLength="5.74" lengthAdjust="spacingAndGlyphs">9</text>
<text x="104.47" y="783.86" font-size="14.04" font-weight="bold" textLength="27.18" lengthAdjust="spacingAndGlyphs">908.5</text>
<text x="158.44" y="783.86" font-size="14.04" font-weight="bold" textLength="27.00" lengthAdjust="spacingAndGlyphs">454.8</text>
<text x="212.66" y="783.86" font-size="14.04" font-weight="bold" textLength="27.15" lengthAdjust="spacingAndGlyphs">891.5</text>
<text x="266.96" y="783.86" font-size="14.04" font-weight="bold" textLength="27.15" lengthAdjust="spacingAndGlyphs">890.5</text>
<text x="321.05" y="783.81" font-size="14.10" font-weight="bold" textLength="8.01" lengthAdjust="spacingAndGlyphs">P</text>
<rect x="348.35" y="772.86" width="44.60" height="12.60" fill="#88c2f8" stroke="none"/>
<text x="352.17" y="783.86" font-size="14.04" font-weight="bold" textLength="35.98" lengthAdjust="spacingAndGlyphs">1,218.5</text>
<rect x="402.60" y="772.86" width="44.60" height="12.60" fill="#88c2f8" stroke="none"/>
<text x="410.95" y="783.86" font-size="14.04" font-weight="bold" textLength="27.23" lengthAdjust="spacingAndGlyphs">609.8</text>
<text x="460.22" y="783.86" font-size="14.04" font-weight="bold" textLength="35.98" lengthAdjust="spacingAndGlyphs">1,201.5</text>
<rect x="510.20" y="772.86" width="44.60" height="12.60" fill="#94f88c" stroke="none"/>
<text x="514.02" y="783.86" font-size="14.04" font-weight="bold" textLength="35.98" lengthAdjust="spacingAndGlyphs">1,200.5</text>
<text x="561.72" y="784.26" font-size="14.69" fill="#222" font-family="Liberation Serif" textLength="12.32" lengthAdjust="spacingAndGlyphs">11</text>
<text x="75.49" y="803.36" font-size="14.59" fill="#222" font-family="Liberation Serif" textLength="11.44" lengthAdjust="spacingAndGlyphs">10</text>
<text x="99.92" y="802.96" font-size="14.04" font-weight="bold" textLength="35.98" lengthAdjust="spacingAndGlyphs">1,023.5</text>
<text x="158.27" y="802.96" font-size="14.04" font-weight="bold" textLength="27.23" lengthAdjust="spacingAndGlyphs">512.3</text>
<text x="208.07" y="802.96" font-size="14.04" font-weight="bold" textLength="35.98" lengthAdjust="spacingAndGlyphs">1,006.5</text>
<text x="262.37" y="802.96" font-size="14.04" font-weight="bold" textLength="35.98" lengthAdjust="spacingAndGlyphs">1,005.5</text>
<text x="314.28" y="802.91" font-size="14.10" font-weight="bold" textLength="21.49" lengthAdjust="spacingAndGlyphs">N+1</text>
<rect x="348.35" y="791.96" width="44.60" height="12.60" fill="#88c2f8" stroke="none"/>
<text x="352.17" y="802.96" font-size="14.04" font-weight="bold" textLength="35.98" lengthAdjust="spacingAndGlyphs">1,121.5</text>
<rect x="402.60" y="791.96" width="44.60" height="12.60" fill="#88c2f8" stroke="none"/>
<text x="411.01" y="802.96" font-size="14.04" font-weight="bold" textLength="27.27" lengthAdjust="spacingAndGlyphs">561.2</text>
<rect x="456.40" y="791.96" width="44.60" height="12.60" fill="#94f88c" stroke="none"/>
<text x="460.23" y="802.96" font-size="14.04" font-weight="bold" textLength="35.73" lengthAdjust="spacingAndGlyphs">1,104.4</text>
<rect x="510.20" y="791.96" width="44.60" height="12.60" fill="#94f88c" stroke="none"/>
<text x="514.02" y="802.96" font-size="14.04" font-weight="bold" textLength="35.98" lengthAdjust="spacingAndGlyphs">1,103.5</text>
<text x="561.74" y="803.36" font-size="14.59" fill="#222" font-family="Liberation Serif" textLength="12.01" lengthAdjust="spacingAndGlyphs">10</text>
<text x="75.47" y="822.47" font-size="14.69" fill="#222" font-family="Liberation Serif" textLength="11.74" lengthAdjust="spacingAndGlyphs">11</text>
<text x="99.92" y="822.07" font-size="14.04" font-weight="bold" textLength="36.07" lengthAdjust="spacingAndGlyphs">1,124.6</text>
<text x="158.27" y="822.07" font-size="14.04" font-weight="bold" textLength="27.17" lengthAdjust="spacingAndGlyphs">562.8</text>
<text x="208.07" y="822.07" font-size="14.04" font-weight="bold" textLength="36.07" lengthAdjust="spacingAndGlyphs">1,107.6</text>
<text x="262.37" y="822.07" font-size="14.04" font-weight="bold" textLength="36.07" lengthAdjust="spacingAndGlyphs">1,106.6</text>
<text x="321.72" y="822.02" font-size="14.10" font-weight="bold" textLength="7.05" lengthAdjust="spacingAndGlyphs">T</text>
<rect x="348.35" y="811.07" width="44.60" height="12.60" fill="#88c2f8" stroke="none"/>
<text x="352.18" y="822.07" font-size="14.04" font-weight="bold" textLength="35.73" lengthAdjust="spacingAndGlyphs">1,006.4</text>
<text x="411.01" y="822.07" font-size="14.04" font-weight="bold" textLength="27.32" lengthAdjust="spacingAndGlyphs">503.7</text>
<text x="464.78" y="822.07" font-size="14.04" font-weight="bold" textLength="26.93" lengthAdjust="spacingAndGlyphs">989.4</text>
<rect x="510.20" y="811.07" width="44.60" height="12.60" fill="#94f88c" stroke="none"/>
<text x="518.58" y="822.07" font-size="14.04" font-weight="bold" textLength="26.93" lengthAdjust="spacingAndGlyphs">988.4</text>
<text x="565.19" y="822.47" font-size="14.65" fill="#222" font-family="Liberation Serif" textLength="6.33" lengthAdjust="spacingAndGlyphs">9</text>
<text x="75.47" y="841.58" font-size="14.65" fill="#222" font-family="Liberation Serif" textLength="11.67" lengthAdjust="spacingAndGlyphs">12</text>
<text x="99.92" y="841.18" font-size="14.04" font-weight="bold" textLength="36.07" lengthAdjust="spacingAndGlyphs">1,225.6</text>
<text x="158.20" y="841.18" font-size="14.04" font-weight="bold" textLength="27.29" lengthAdjust="spacingAndGlyphs">613.3</text>
<text x="208.07" y="841.18" font-size="14.04" font-weight="bold" textLength="36.07" lengthAdjust="spacingAndGlyphs">1,208.6</text>
<text x="262.37" y="841.18" font-size="14.04" font-weight="bold" textLength="36.07" lengthAdjust="spacingAndGlyphs">1,207.6</text>
<text x="321.72" y="841.13" font-size="14.10" font-weight="bold" textLength="7.05" lengthAdjust="spacingAndGlyphs">T</text>
<rect x="348.35" y="830.18" width="44.60" height="12.60" fill="#88c2f8" stroke="none"/>
<text x="356.73" y="841.18" font-size="14.04" font-weight="bold" textLength="26.93" lengthAdjust="spacingAndGlyphs">905.4</text>
<text x="411.19" y="841.18" font-size="14.04" font-weight="bold" textLength="27.10" lengthAdjust="spacingAndGlyphs">453.2</text>
<text x="464.81" y="841.18" font-size="14.04" font-weight="bold" textLength="26.90" lengthAdjust="spacingAndGlyphs">888.4</text>
<rect x="510.20" y="830.18" width="44.60" height="12.60" fill="#94f88c" stroke="none"/>
<text x="518.61" y="841.18" font-size="14.04" font-weight="bold" textLength="26.90" lengthAdjust="spacingAndGlyphs">887.4</text>
<text x="565.11" y="841.58" font-size="14.59" fill="#222" font-family="Liberation Serif" textLength="6.37" lengthAdjust="spacingAndGlyphs">8</text>
<text x="75.49" y="860.68" font-size="14.65" fill="#222" font-family="Liberation Serif" textLength="11.45" lengthAdjust="spacingAndGlyphs">13</text>
<text x="99.92" y="860.28" font-size="14.04" font-weight="bold" textLength="36.16" lengthAdjust="spacingAndGlyphs">1,362.7</text>
<text x="158.20" y="860.28" font-size="14.04" font-weight="bold" textLength="27.30" lengthAdjust="spacingAndGlyphs">681.9</text>
<text x="208.07" y="860.28" font-size="14.04" font-weight="bold" textLength="36.16" lengthAdjust="spacingAndGlyphs">1,345.7</text>
<text x="262.37" y="860.28" font-size="14.04" font-weight="bold" textLength="36.16" lengthAdjust="spacingAndGlyphs">1,344.7</text>
<text x="321.08" y="860.23" font-size="14.10" font-weight="bold" textLength="8.35" lengthAdjust="spacingAndGlyphs">H</text>
<rect x="348.35" y="849.28" width="44.60" height="12.60" fill="#88c2f8" stroke="none"/>
<text x="356.75" y="860.28" font-size="14.04" font-weight="bold" textLength="27.24" lengthAdjust="spacingAndGlyphs">804.3</text>
<text x="411.19" y="860.28" font-size="14.04" font-weight="bold" textLength="27.14" lengthAdjust="spacingAndGlyphs">402.7</text>
<text x="464.68" y="860.28" font-size="14.04" font-weight="bold" textLength="27.37" lengthAdjust="spacingAndGlyphs">787.3</text>
<rect x="510.20" y="849.28" width="44.60" height="12.60" fill="#94f88c" stroke="none"/>
<text x="518.48" y="860.28" font-size="14.04" font-weight="bold" textLength="27.37" lengthAdjust="spacingAndGlyphs">786.3</text>
<text x="564.72" y="860.68" font-size="14.81" fill="#222" font-family="Liberation Serif" textLength="6.66" lengthAdjust="spacingAndGlyphs">7</text>
<text x="75.52" y="879.79" font-size="14.69" fill="#222" font-family="Liberation Serif" textLength="11.15" lengthAdjust="spacingAndGlyphs">14</text>
<text x="99.92" y="879.39" font-size="14.04" font-weight="bold" textLength="36.16" lengthAdjust="spacingAndGlyphs">1,449.7</text>
<text x="158.14" y="879.39" font-size="14.04" font-weight="bold" textLength="27.02" lengthAdjust="spacingAndGlyphs">725.4</text>
<text x="208.07" y="879.39" font-size="14.04" font-weight="bold" textLength="36.16" lengthAdjust="spacingAndGlyphs">1,432.7</text>
<text x="262.37" y="879.39" font-size="14.04" font-weight="bold" textLength="36.16" lengthAdjust="spacingAndGlyphs">1,431.7</text>
<text x="321.52" y="879.34" font-size="13.89" font-weight="bold" textLength="7.57" lengthAdjust="spacingAndGlyphs">S</text>
<rect x="348.35" y="868.39" width="44.60" height="12.60" fill="#88c2f8" stroke="none"/>
<text x="356.70" y="879.39" font-size="14.04" font-weight="bold" textLength="27.29" lengthAdjust="spacingAndGlyphs">667.3</text>
<text x="411.10" y="879.39" font-size="14.04" font-weight="bold" textLength="27.05" lengthAdjust="spacingAndGlyphs">334.1</text>
<text x="464.75" y="879.39" font-size="14.04" font-weight="bold" textLength="27.29" lengthAdjust="spacingAndGlyphs">650.3</text>
<rect x="510.20" y="868.39" width="44.60" height="12.60" fill="#94f88c" stroke="none"/>
<text x="518.55" y="879.39" font-size="14.04" font-weight="bold" textLength="27.29" lengthAdjust="spacingAndGlyphs">649.3</text>
<text x="565.06" y="879.79" font-size="14.65" fill="#222" font-family="Liberation Serif" textLength="6.32" lengthAdjust="spacingAndGlyphs">6</text>
<text x="75.49" y="898.90" font-size="14.69" fill="#222" font-family="Liberation Serif" textLength="11.45" lengthAdjust="spacingAndGlyphs">15</text>
<text x="99.92" y="898.50" font-size="14.04" font-weight="bold" textLength="36.01" lengthAdjust="spacingAndGlyphs">1,550.8</text>
<text x="158.13" y="898.50" font-size="14.04" font-weight="bold" textLength="27.38" lengthAdjust="spacingAndGlyphs">775.9</text>
<text x="208.07" y="898.50" font-size="14.04" font-weight="bold" textLength="36.01" lengthAdjust="spacingAndGlyphs">1,533.8</text>
<text x="262.37" y="898.50" font-size="14.04" font-weight="bold" textLength="36.01" lengthAdjust="spacingAndGlyphs">1,532.8</text>
<text x="321.72" y="898.45" font-size="14.10" font-weight="bold" textLength="7.05" lengthAdjust="spacingAndGlyphs">T</text>
<rect x="348.35" y="887.50" width="44.60" height="12.60" fill="#88c2f8" stroke="none"/>
<text x="356.77" y="898.50" font-size="14.04" font-weight="bold" textLength="27.23" lengthAdjust="spacingAndGlyphs">580.3</text>
<text x="464.81" y="898.50" font-size="14.04" font-weight="bold" textLength="27.27" lengthAdjust="spacingAndGlyphs">563.2</text>
<rect x="510.20" y="887.50" width="44.60" height="12.60" fill="#94f88c" stroke="none"/>
<text x="518.61" y="898.50" font-size="14.04" font-weight="bold" textLength="27.27" lengthAdjust="spacingAndGlyphs">562.2</text>
<text x="564.82" y="898.90" font-size="14.81" fill="#222" font-family="Liberation Serif" textLength="6.70" lengthAdjust="spacingAndGlyphs">5</text>
<text x="75.50" y="918.00" font-size="14.65" fill="#222" font-family="Liberation Serif" textLength="11.33" lengthAdjust="spacingAndGlyphs">16</text>
<text x="99.92" y="917.61" font-size="14.04" font-weight="bold" textLength="36.01" lengthAdjust="spacingAndGlyphs">1,607.8</text>
<text x="158.26" y="917.61" font-size="14.04" font-weight="bold" textLength="26.90" lengthAdjust="spacingAndGlyphs">804.4</text>
<text x="208.07" y="917.61" font-size="14.04" font-weight="bold" textLength="36.01" lengthAdjust="spacingAndGlyphs">1,590.8</text>
<text x="262.37" y="917.61" font-size="14.04" font-weight="bold" textLength="36.01" lengthAdjust="spacingAndGlyphs">1,589.8</text>
<text x="321.44" y="917.56" font-size="13.89" font-weight="bold" textLength="7.84" lengthAdjust="spacingAndGlyphs">G</text>
<rect x="348.35" y="906.61" width="44.60" height="12.60" fill="#88c2f8" stroke="none"/>
<text x="356.94" y="917.61" font-size="14.04" font-weight="bold" textLength="27.10" lengthAdjust="spacingAndGlyphs">479.2</text>
<text x="464.99" y="917.61" font-size="14.04" font-weight="bold" textLength="27.10" lengthAdjust="spacingAndGlyphs">462.2</text>
<text x="518.79" y="917.61" font-size="14.04" font-weight="bold" textLength="27.10" lengthAdjust="spacingAndGlyphs">461.2</text>
<text x="565.37" y="918.00" font-size="14.74" fill="#222" font-family="Liberation Serif" textLength="5.81" lengthAdjust="spacingAndGlyphs">4</text>
<text x="75.50" y="937.11" font-size="14.69" fill="#222" font-family="Liberation Serif" textLength="11.32" lengthAdjust="spacingAndGlyphs">17</text>
<text x="99.92" y="936.71" font-size="14.04" font-weight="bold" textLength="36.01" lengthAdjust="spacingAndGlyphs">1,694.8</text>
<text x="158.25" y="936.71" font-size="14.04" font-weight="bold" textLength="27.25" lengthAdjust="spacingAndGlyphs">847.9</text>
<text x="208.07" y="936.71" font-size="14.04" font-weight="bold" textLength="36.01" lengthAdjust="spacingAndGlyphs">1,677.8</text>
<text x="262.37" y="936.71" font-size="14.04" font-weight="bold" textLength="36.01" lengthAdjust="spacingAndGlyphs">1,676.8</text>
<text x="321.52" y="936.66" font-size="13.89" font-weight="bold" textLength="7.57" lengthAdjust="spacingAndGlyphs">S</text>
<rect x="348.35" y="925.71" width="44.60" height="12.60" fill="#88c2f8" stroke="none"/>
<text x="356.94" y="936.71" font-size="14.04" font-weight="bold" textLength="27.10" lengthAdjust="spacingAndGlyphs">422.2</text>
<text x="464.99" y="936.71" font-size="14.04" font-weight="bold" textLength="27.10" lengthAdjust="spacingAndGlyphs">405.2</text>
<text x="518.79" y="936.71" font-size="14.04" font-weight="bold" textLength="27.10" lengthAdjust="spacingAndGlyphs">404.2</text>
<text x="564.97" y="937.11" font-size="14.65" fill="#222" font-family="Liberation Serif" textLength="6.54" lengthAdjust="spacingAndGlyphs">3</text>
<text x="75.49" y="956.22" font-size="14.59" fill="#222" font-family="Liberation Serif" textLength="11.44" lengthAdjust="spacingAndGlyphs">18</text>
<text x="99.92" y="955.82" font-size="14.04" font-weight="bold" textLength="36.08" lengthAdjust="spacingAndGlyphs">1,854.9</text>
<text x="158.22" y="955.82" font-size="14.04" font-weight="bold" textLength="27.28" lengthAdjust="spacingAndGlyphs">927.9</text>
<text x="208.07" y="955.82" font-size="14.04" font-weight="bold" textLength="36.01" lengthAdjust="spacingAndGlyphs">1,837.8</text>
<text x="262.37" y="955.82" font-size="14.04" font-weight="bold" textLength="36.08" lengthAdjust="spacingAndGlyphs">1,836.9</text>
<text x="311.48" y="955.77" font-size="13.89" font-weight="bold" textLength="27.57" lengthAdjust="spacingAndGlyphs">C+57</text>
<rect x="348.35" y="944.82" width="44.60" height="12.60" fill="#88c2f8" stroke="none"/>
<text x="356.85" y="955.82" font-size="14.04" font-weight="bold" textLength="27.05" lengthAdjust="spacingAndGlyphs">335.1</text>
<text x="464.90" y="955.82" font-size="14.04" font-weight="bold" textLength="27.05" lengthAdjust="spacingAndGlyphs">318.1</text>
<text x="565.01" y="956.22" font-size="14.65" fill="#222" font-family="Liberation Serif" textLength="6.74" lengthAdjust="spacingAndGlyphs">2</text>
<text x="75.49" y="975.33" font-size="14.65" fill="#222" font-family="Liberation Serif" textLength="11.48" lengthAdjust="spacingAndGlyphs">19</text>
<text x="100.23" y="974.93" font-size="14.04" font-weight="bold" textLength="35.81" lengthAdjust="spacingAndGlyphs">2,029.0</text>
<text x="153.67" y="974.93" font-size="14.04" font-weight="bold" textLength="36.13" lengthAdjust="spacingAndGlyphs">1,015.0</text>
<text x="208.38" y="974.93" font-size="14.04" font-weight="bold" textLength="35.81" lengthAdjust="spacingAndGlyphs">2,012.0</text>
<text x="262.68" y="974.93" font-size="14.04" font-weight="bold" textLength="35.81" lengthAdjust="spacingAndGlyphs">2,011.0</text>
<text x="321.13" y="974.88" font-size="14.10" font-weight="bold" textLength="7.74" lengthAdjust="spacingAndGlyphs">R</text>
<rect x="348.35" y="963.93" width="44.60" height="12.60" fill="#88c2f8" stroke="none"/>
<text x="356.41" y="974.93" font-size="14.24" font-weight="bold" textLength="27.50" lengthAdjust="spacingAndGlyphs">175.1</text>
<text x="464.46" y="974.93" font-size="14.04" font-weight="bold" textLength="27.50" lengthAdjust="spacingAndGlyphs">158.1</text>
<text x="564.25" y="975.33" font-size="14.69" fill="#222" font-family="Liberation Serif" textLength="7.67" lengthAdjust="spacingAndGlyphs">1</text>
</g>
<rect x="72.65" y="591.30" width="506.60" height="389.40" fill="none" stroke="#000" stroke-width="2.5"/>
</svg>
</body></html>
